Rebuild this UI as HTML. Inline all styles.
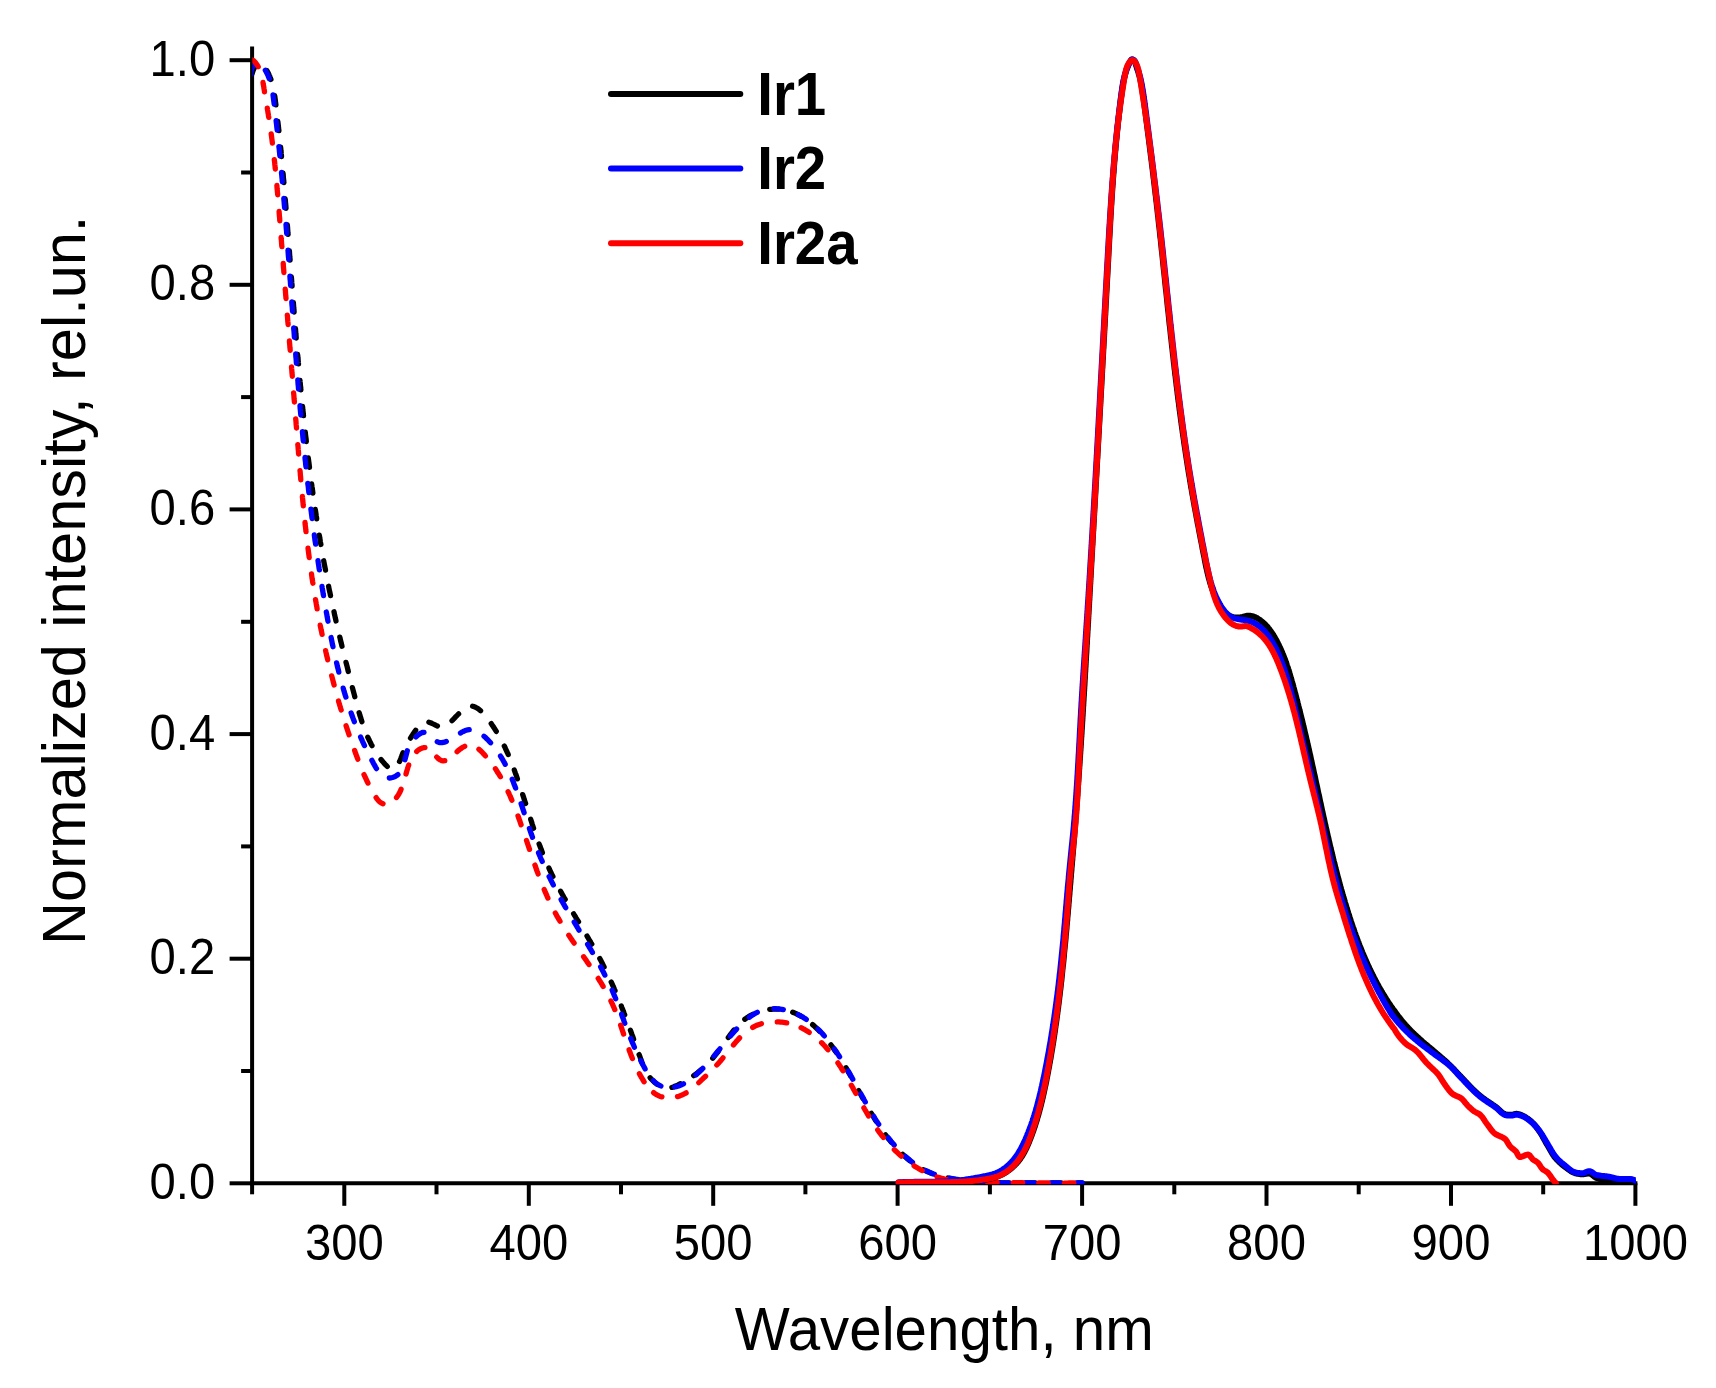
<!DOCTYPE html>
<html><head><meta charset="utf-8"><title>Normalized intensity vs wavelength</title>
<style>
html,body{margin:0;padding:0;background:#fff;}
body{width:1716px;height:1388px;overflow:hidden;}
svg{display:block;}
text{font-family:"Liberation Sans",Arial,Helvetica,sans-serif;fill:#000;}
.tick{font-size:50.4px;}
.title{font-size:61.5px;}
.leg{font-size:61.5px;font-weight:bold;}
.d{fill:none;stroke-width:5.3;stroke-linecap:round;stroke-linejoin:round;}
.s{fill:none;stroke-width:6.0;stroke-linecap:round;stroke-linejoin:round;}
</style></head>
<body>
<svg width="1716" height="1388" viewBox="0 0 1716 1388">
<rect width="1716" height="1388" fill="#fff"/>
<defs><clipPath id="c"><rect x="252.3" y="40" width="1383.6" height="1144.3"/></clipPath></defs>
<g stroke="#000" stroke-width="4.0" stroke-linecap="butt" fill="none">
<line x1="252.1" y1="46.5" x2="252.1" y2="1185.3"/>
<line x1="250.1" y1="1183.3" x2="1637.4" y2="1183.3"/>
<line x1="252.1" y1="1183.3" x2="252.1" y2="1194.3"/>
<line x1="344.3" y1="1183.3" x2="344.3" y2="1205.8"/>
<line x1="436.5" y1="1183.3" x2="436.5" y2="1194.3"/>
<line x1="528.8" y1="1183.3" x2="528.8" y2="1205.8"/>
<line x1="621.0" y1="1183.3" x2="621.0" y2="1194.3"/>
<line x1="713.2" y1="1183.3" x2="713.2" y2="1205.8"/>
<line x1="805.4" y1="1183.3" x2="805.4" y2="1194.3"/>
<line x1="897.6" y1="1183.3" x2="897.6" y2="1205.8"/>
<line x1="989.9" y1="1183.3" x2="989.9" y2="1194.3"/>
<line x1="1082.1" y1="1183.3" x2="1082.1" y2="1205.8"/>
<line x1="1174.3" y1="1183.3" x2="1174.3" y2="1194.3"/>
<line x1="1266.5" y1="1183.3" x2="1266.5" y2="1205.8"/>
<line x1="1358.7" y1="1183.3" x2="1358.7" y2="1194.3"/>
<line x1="1451.0" y1="1183.3" x2="1451.0" y2="1205.8"/>
<line x1="1543.2" y1="1183.3" x2="1543.2" y2="1194.3"/>
<line x1="1635.4" y1="1183.3" x2="1635.4" y2="1205.8"/>
<line x1="252.1" y1="1183.3" x2="229.6" y2="1183.3"/>
<line x1="252.1" y1="1071.0" x2="241.1" y2="1071.0"/>
<line x1="252.1" y1="958.7" x2="229.6" y2="958.7"/>
<line x1="252.1" y1="846.4" x2="241.1" y2="846.4"/>
<line x1="252.1" y1="734.1" x2="229.6" y2="734.1"/>
<line x1="252.1" y1="621.8" x2="241.1" y2="621.8"/>
<line x1="252.1" y1="509.4" x2="229.6" y2="509.4"/>
<line x1="252.1" y1="397.1" x2="241.1" y2="397.1"/>
<line x1="252.1" y1="284.8" x2="229.6" y2="284.8"/>
<line x1="252.1" y1="172.5" x2="241.1" y2="172.5"/>
<line x1="252.1" y1="60.2" x2="229.6" y2="60.2"/>
</g>
<g class="tick">
<text transform="translate(344.3,1260) scale(0.937,1)" text-anchor="middle">300</text>
<text transform="translate(528.8,1260) scale(0.937,1)" text-anchor="middle">400</text>
<text transform="translate(713.2,1260) scale(0.937,1)" text-anchor="middle">500</text>
<text transform="translate(897.6,1260) scale(0.937,1)" text-anchor="middle">600</text>
<text transform="translate(1082.1,1260) scale(0.937,1)" text-anchor="middle">700</text>
<text transform="translate(1266.5,1260) scale(0.937,1)" text-anchor="middle">800</text>
<text transform="translate(1451.0,1260) scale(0.937,1)" text-anchor="middle">900</text>
<text transform="translate(1635.4,1260) scale(0.937,1)" text-anchor="middle">1000</text>
<text transform="translate(215.2,1198.8) scale(0.937,1)" text-anchor="end">0.0</text>
<text transform="translate(215.2,974.2) scale(0.937,1)" text-anchor="end">0.2</text>
<text transform="translate(215.2,749.6) scale(0.937,1)" text-anchor="end">0.4</text>
<text transform="translate(215.2,524.9) scale(0.937,1)" text-anchor="end">0.6</text>
<text transform="translate(215.2,300.3) scale(0.937,1)" text-anchor="end">0.8</text>
<text transform="translate(215.2,75.7) scale(0.937,1)" text-anchor="end">1.0</text>
</g>
<text class="title" transform="translate(944.3,1350.3) scale(0.948,1)" text-anchor="middle">Wavelength, nm</text>
<text class="title" transform="translate(84.6,580.3) rotate(-90) scale(0.967,1)" text-anchor="middle">Normalized intensity, rel.un.</text>
<g clip-path="url(#c)">
<path class="d" stroke="#000" d="M251.9,74.1 L252.4,72.6 L252.9,71.1 L253.4,69.7 L254.1,68.3 L254.8,66.8 L255.6,65.5 M267.0,70.9 L267.8,72.3 L268.5,73.6 L269.1,75.1 L269.8,76.5 L270.3,78.0 L270.9,79.4 M274.6,95.6 L274.9,97.1 L275.1,98.7 L275.3,100.2 L275.5,101.8 L275.7,103.3 L275.9,104.9 M277.8,121.4 L278.0,122.9 L278.2,124.5 L278.4,126.1 L278.5,127.6 L278.7,129.2 L278.9,130.7 M280.6,147.2 L280.8,148.8 L280.9,150.4 L281.1,151.9 L281.2,153.5 L281.4,155.0 L281.5,156.6 M283.0,173.1 L283.2,174.7 L283.3,176.2 L283.4,177.8 L283.6,179.4 L283.7,180.9 L283.9,182.5 M285.2,199.0 L285.4,200.6 L285.5,202.1 L285.6,203.7 L285.8,205.3 L285.9,206.8 L286.0,208.4 M287.3,224.9 L287.5,226.5 L287.6,228.1 L287.7,229.6 L287.8,231.2 L287.9,232.8 L288.1,234.3 M289.4,250.9 L289.5,252.4 L289.6,254.0 L289.7,255.5 L289.8,257.1 L290.0,258.7 L290.1,260.2 M291.3,276.8 L291.5,278.3 L291.6,279.9 L291.7,281.5 L291.8,283.0 L292.0,284.6 L292.1,286.2 M293.4,302.7 L293.5,304.3 L293.6,305.8 L293.7,307.4 L293.9,309.0 L294.0,310.5 L294.1,312.1 M295.5,328.6 L295.6,330.2 L295.7,331.7 L295.8,333.3 L296.0,334.9 L296.1,336.4 L296.2,338.0 M297.6,354.5 L297.8,356.1 L297.9,357.7 L298.1,359.2 L298.2,360.8 L298.3,362.3 L298.5,363.9 M300.0,380.4 L300.1,382.0 L300.3,383.5 L300.4,385.1 L300.6,386.7 L300.7,388.2 L300.9,389.8 M302.5,406.3 L302.7,407.9 L302.8,409.4 L303.0,411.0 L303.2,412.5 L303.3,414.1 L303.5,415.7 M305.3,432.2 L305.4,433.7 L305.6,435.3 L305.8,436.8 L306.0,438.4 L306.2,439.9 L306.3,441.5 M308.3,458.0 L308.5,459.5 L308.7,461.1 L308.9,462.6 L309.1,464.2 L309.3,465.8 L309.5,467.3 M311.6,483.8 L311.8,485.3 L312.0,486.9 L312.3,488.4 L312.5,490.0 L312.7,491.5 L312.9,493.1 M315.3,509.5 L315.5,511.1 L315.8,512.6 L316.0,514.2 L316.2,515.7 L316.5,517.2 L316.7,518.8 M319.3,535.2 L319.6,536.7 L319.8,538.3 L320.1,539.8 L320.3,541.4 L320.6,542.9 L320.9,544.5 M323.7,560.8 L324.0,562.4 L324.3,563.9 L324.6,565.4 L324.9,567.0 L325.2,568.5 L325.5,570.1 M328.6,586.3 L328.9,587.9 L329.2,589.4 L329.5,591.0 L329.9,592.5 L330.2,594.0 L330.5,595.6 M334.0,611.8 L334.3,613.3 L334.6,614.9 L335.0,616.4 L335.3,617.9 L335.7,619.4 L336.0,621.0 M339.8,637.1 L340.2,638.7 L340.5,640.2 L340.9,641.7 L341.3,643.2 L341.6,644.7 L342.0,646.3 M346.0,662.4 L346.4,663.9 L346.8,665.4 L347.2,666.9 L347.6,668.5 L347.9,670.0 L348.3,671.5 M352.4,687.6 L352.8,689.1 L353.2,690.6 L353.6,692.1 L354.0,693.6 L354.4,695.2 L354.8,696.7 M359.1,712.7 L359.6,714.2 L360.0,715.7 L360.5,717.2 L361.0,718.7 L361.4,720.2 L361.9,721.7 M367.8,737.2 L368.5,738.6 L369.1,740.0 L369.8,741.4 L370.5,742.8 L371.2,744.2 L372.0,745.6 M381.0,759.5 L382.0,760.7 L383.0,761.9 L384.0,763.1 L385.1,764.3 L386.2,765.4 L387.3,766.5 M399.5,761.5 L400.2,760.1 L400.8,758.7 L401.3,757.2 L401.9,755.8 L402.4,754.3 L403.0,752.8 M410.5,738.1 L411.4,736.7 L412.2,735.4 L413.1,734.1 L413.9,732.8 L414.8,731.5 L415.7,730.2 M428.9,722.2 L430.4,722.7 L431.8,723.3 L433.2,724.0 L434.6,724.7 L436.0,725.4 L437.4,726.0 M452.0,720.6 L453.2,719.5 L454.3,718.4 L455.3,717.2 L456.4,716.1 L457.5,715.0 L458.6,713.9 M472.6,706.2 L474.1,706.6 L475.5,707.2 L476.9,708.0 L478.2,708.8 L479.4,709.8 L480.6,710.8 M491.2,723.6 L492.1,724.9 L493.0,726.2 L493.8,727.5 L494.7,728.8 L495.5,730.1 L496.3,731.4 M504.3,746.0 L505.0,747.4 L505.6,748.8 L506.3,750.3 L506.9,751.7 L507.6,753.1 L508.2,754.6 M514.3,770.0 L514.8,771.5 L515.3,772.9 L515.9,774.4 L516.4,775.9 L516.9,777.4 L517.4,778.9 M522.7,794.6 L523.2,796.1 L523.7,797.6 L524.1,799.1 L524.6,800.6 L525.1,802.1 L525.6,803.5 M530.7,819.3 L531.2,820.8 L531.7,822.3 L532.1,823.8 L532.6,825.3 L533.1,826.8 L533.6,828.3 M539.1,843.9 L539.7,845.4 L540.2,846.9 L540.8,848.3 L541.3,849.8 L541.9,851.3 L542.4,852.7 M548.9,868.0 L549.5,869.5 L550.2,870.9 L550.8,872.3 L551.5,873.7 L552.2,875.1 L552.9,876.5 M560.6,891.2 L561.3,892.6 L562.1,894.0 L562.8,895.4 L563.6,896.7 L564.4,898.1 L565.2,899.4 M573.6,913.7 L574.4,915.1 L575.2,916.4 L576.0,917.8 L576.8,919.1 L577.6,920.4 L578.5,921.8 M587.0,936.0 L587.8,937.4 L588.6,938.7 L589.4,940.1 L590.2,941.4 L591.0,942.8 L591.8,944.1 M599.8,958.6 L600.6,960.0 L601.3,961.4 L602.0,962.8 L602.7,964.2 L603.4,965.6 L604.1,967.0 M611.2,982.0 L611.9,983.4 L612.5,984.9 L613.1,986.3 L613.8,987.7 L614.4,989.2 L615.0,990.6 M621.3,1006.0 L621.8,1007.4 L622.4,1008.9 L623.0,1010.3 L623.5,1011.8 L624.1,1013.3 L624.7,1014.7 M630.4,1030.3 L631.0,1031.8 L631.5,1033.2 L632.0,1034.7 L632.6,1036.2 L633.1,1037.7 L633.6,1039.1 M639.1,1054.6 L639.7,1056.0 L640.2,1057.5 L640.7,1059.0 L641.3,1060.5 L641.8,1061.9 L642.4,1063.4 M650.1,1077.7 L651.1,1078.9 L652.2,1080.0 L653.3,1081.1 L654.5,1082.2 L655.7,1083.2 L656.9,1084.1 M671.9,1087.4 L673.4,1086.9 L674.8,1086.3 L676.3,1085.7 L677.7,1085.1 L679.1,1084.4 L680.5,1083.7 M693.7,1075.6 L695.0,1074.7 L696.2,1073.8 L697.5,1072.8 L698.7,1071.8 L699.9,1070.8 L701.1,1069.8 M712.7,1058.2 L713.7,1057.0 L714.7,1055.8 L715.7,1054.6 L716.6,1053.4 L717.6,1052.2 L718.5,1050.9 M728.3,1037.5 L729.2,1036.2 L730.1,1034.9 L731.1,1033.7 L732.1,1032.5 L733.0,1031.2 L734.0,1030.0 M744.8,1019.3 L746.1,1018.4 L747.4,1017.5 L748.7,1016.6 L750.0,1015.8 L751.4,1015.0 L752.8,1014.3 M769.7,1009.4 L771.3,1009.3 L772.8,1009.1 L774.4,1009.1 L776.0,1009.1 L777.5,1009.1 L779.1,1009.2 M792.7,1012.2 L794.1,1012.8 L795.6,1013.4 L797.0,1014.1 L798.4,1014.8 L799.8,1015.5 L801.1,1016.3 M812.6,1024.6 L813.8,1025.6 L814.9,1026.7 L816.1,1027.8 L817.2,1028.9 L818.3,1030.0 L819.4,1031.1 M830.9,1044.8 L831.8,1046.0 L832.7,1047.3 L833.6,1048.6 L834.5,1049.9 L835.4,1051.2 L836.3,1052.4 M845.9,1067.7 L846.7,1069.0 L847.4,1070.4 L848.2,1071.7 L849.0,1073.1 L849.8,1074.4 L850.5,1075.8 M858.6,1090.5 L859.3,1091.9 L860.1,1093.3 L860.8,1094.6 L861.6,1096.0 L862.3,1097.4 L863.1,1098.8 M871.3,1113.2 L872.1,1114.6 L872.9,1115.9 L873.7,1117.2 L874.5,1118.6 L875.3,1119.9 L876.2,1121.2 M885.5,1134.9 L886.5,1136.2 L887.4,1137.4 L888.4,1138.7 L889.4,1139.9 L890.4,1141.1 L891.4,1142.3 M902.7,1154.4 L903.8,1155.5 L905.0,1156.5 L906.2,1157.6 L907.4,1158.6 L908.6,1159.6 L909.8,1160.6 M923.6,1169.7 L925.0,1170.5 L926.4,1171.1 L927.8,1171.8 L929.3,1172.4 L930.7,1173.0 L932.2,1173.6 M948.1,1178.0 L949.7,1178.3 L951.2,1178.6 L952.8,1178.9 L954.3,1179.1 L955.9,1179.4 L957.4,1179.6 M973.9,1181.4 L975.5,1181.5 L977.0,1181.6 L978.6,1181.7 L980.2,1181.8 L981.7,1181.9 L983.3,1182.0 M999.9,1182.7 L1001.4,1182.8 L1003.0,1182.8 L1004.6,1182.9 L1006.1,1182.9 L1007.7,1182.9 L1009.3,1182.9 M1025.9,1183.0 L1027.4,1183.0 L1029.0,1183.0 L1030.6,1183.0 L1032.1,1183.0 L1033.7,1183.0 L1035.3,1183.0 M1051.9,1182.9 L1053.4,1182.8 L1055.0,1182.8 L1056.6,1182.8 L1058.1,1182.8 L1059.7,1182.8 L1061.3,1182.8 M1077.9,1182.9 L1080.0,1182.9 L1082.1,1182.9"/>
<path class="d" stroke="#0000ff" d="M250.9,74.4 L250.8,72.9 L251.0,71.3 L251.5,69.8 L252.0,68.3 L252.7,66.9 L253.5,65.6 M265.3,70.2 L266.1,71.6 L266.8,73.0 L267.5,74.4 L268.1,75.8 L268.7,77.3 L269.3,78.8 M273.0,94.9 L273.2,96.5 L273.4,98.0 L273.6,99.6 L273.8,101.1 L274.0,102.7 L274.2,104.2 M276.1,120.7 L276.3,122.3 L276.5,123.8 L276.7,125.4 L276.8,127.0 L277.0,128.5 L277.2,130.1 M278.9,146.6 L279.1,148.1 L279.3,149.7 L279.4,151.3 L279.6,152.8 L279.7,154.4 L279.9,155.9 M281.5,172.5 L281.6,174.0 L281.8,175.6 L281.9,177.1 L282.1,178.7 L282.2,180.3 L282.3,181.8 M283.8,198.3 L283.9,199.9 L284.1,201.5 L284.2,203.0 L284.3,204.6 L284.5,206.2 L284.6,207.7 M286.0,224.3 L286.1,225.8 L286.2,227.4 L286.3,228.9 L286.5,230.5 L286.6,232.1 L286.7,233.6 M288.0,250.2 L288.1,251.7 L288.2,253.3 L288.3,254.9 L288.4,256.4 L288.6,258.0 L288.7,259.6 M289.9,276.1 L290.0,277.7 L290.1,279.2 L290.3,280.8 L290.4,282.4 L290.5,283.9 L290.6,285.5 M291.8,302.0 L291.9,303.6 L292.0,305.2 L292.2,306.7 L292.3,308.3 L292.4,309.8 L292.5,311.4 M293.7,328.0 L293.8,329.5 L294.0,331.1 L294.1,332.7 L294.2,334.2 L294.3,335.8 L294.4,337.3 M295.7,353.9 L295.8,355.5 L295.9,357.0 L296.1,358.6 L296.2,360.1 L296.3,361.7 L296.4,363.3 M297.8,379.8 L297.9,381.4 L298.0,382.9 L298.1,384.5 L298.3,386.1 L298.4,387.6 L298.5,389.2 M300.0,405.7 L300.1,407.3 L300.2,408.8 L300.4,410.4 L300.5,412.0 L300.7,413.5 L300.8,415.1 M302.4,431.6 L302.5,433.2 L302.7,434.7 L302.8,436.3 L303.0,437.8 L303.1,439.4 L303.3,441.0 M305.0,457.5 L305.1,459.0 L305.3,460.6 L305.5,462.1 L305.6,463.7 L305.8,465.3 L306.0,466.8 M307.8,483.3 L308.0,484.9 L308.2,486.4 L308.4,488.0 L308.5,489.5 L308.7,491.1 L308.9,492.7 M310.9,509.1 L311.1,510.7 L311.3,512.2 L311.5,513.8 L311.7,515.3 L311.9,516.9 L312.1,518.5 M314.3,534.9 L314.5,536.5 L314.7,538.0 L314.9,539.6 L315.1,541.1 L315.4,542.7 L315.6,544.2 M318.0,560.6 L318.2,562.2 L318.4,563.7 L318.7,565.3 L318.9,566.8 L319.1,568.4 L319.4,569.9 M322.0,586.3 L322.2,587.9 L322.5,589.4 L322.7,591.0 L323.0,592.5 L323.2,594.1 L323.5,595.6 M326.3,612.0 L326.6,613.5 L326.9,615.1 L327.1,616.6 L327.4,618.1 L327.7,619.7 L328.0,621.2 M331.1,637.5 L331.4,639.1 L331.7,640.6 L332.0,642.1 L332.3,643.7 L332.7,645.2 L333.0,646.7 M336.6,662.9 L337.0,664.5 L337.3,666.0 L337.7,667.5 L338.1,669.0 L338.5,670.5 L338.8,672.1 M343.2,688.1 L343.6,689.6 L344.0,691.1 L344.5,692.6 L344.9,694.1 L345.4,695.6 L345.9,697.1 M351.1,712.9 L351.6,714.3 L352.1,715.8 L352.7,717.3 L353.2,718.7 L353.8,720.2 L354.3,721.7 M360.6,737.0 L361.2,738.5 L361.9,739.9 L362.5,741.3 L363.2,742.8 L363.8,744.2 L364.5,745.6 M371.9,760.4 L372.7,761.8 L373.4,763.2 L374.2,764.6 L374.9,765.9 L375.7,767.3 L376.5,768.6 M389.3,778.0 L390.8,777.8 L392.4,777.5 L393.9,777.0 L395.3,776.4 L396.6,775.6 L397.9,774.6 M404.9,759.8 L405.3,758.3 L405.7,756.8 L406.1,755.3 L406.5,753.8 L406.9,752.3 L407.3,750.8 M416.0,736.9 L417.2,735.8 L418.4,734.8 L419.6,733.9 L421.0,733.1 L422.4,732.5 L424.0,732.3 M437.2,741.8 L438.7,742.3 L440.2,742.6 L441.8,742.7 L443.3,742.4 L444.8,742.1 L446.3,741.5 M460.5,733.0 L461.8,732.2 L463.2,731.5 L464.7,730.8 L466.1,730.3 L467.7,729.9 L469.2,729.7 M484.0,736.2 L485.2,737.2 L486.3,738.3 L487.4,739.4 L488.5,740.5 L489.6,741.7 L490.6,742.8 M500.5,756.1 L501.4,757.5 L502.2,758.8 L503.0,760.2 L503.7,761.5 L504.5,762.9 L505.2,764.3 M512.2,779.3 L512.8,780.8 L513.4,782.2 L513.9,783.7 L514.5,785.2 L515.0,786.6 L515.6,788.1 M521.1,803.7 L521.6,805.2 L522.1,806.7 L522.6,808.2 L523.1,809.7 L523.6,811.2 L524.1,812.7 M529.4,828.4 L529.9,829.9 L530.4,831.4 L530.9,832.8 L531.4,834.3 L532.0,835.8 L532.5,837.3 M538.5,852.7 L539.1,854.2 L539.7,855.6 L540.3,857.1 L540.9,858.5 L541.6,860.0 L542.2,861.4 M549.1,876.5 L549.8,877.9 L550.5,879.3 L551.2,880.7 L551.9,882.1 L552.6,883.5 L553.3,884.9 M561.1,899.6 L561.8,900.9 L562.6,902.3 L563.4,903.7 L564.2,905.0 L564.9,906.4 L565.7,907.7 M574.2,922.0 L575.0,923.4 L575.8,924.7 L576.6,926.0 L577.4,927.4 L578.2,928.7 L579.0,930.1 M587.6,944.3 L588.4,945.6 L589.2,947.0 L590.0,948.3 L590.8,949.6 L591.6,951.0 L592.4,952.4 M600.6,966.8 L601.3,968.2 L602.1,969.6 L602.8,971.0 L603.5,972.3 L604.2,973.7 L604.9,975.1 M612.1,990.1 L612.7,991.6 L613.3,993.0 L613.9,994.4 L614.5,995.9 L615.1,997.3 L615.7,998.8 M621.6,1014.3 L622.1,1015.8 L622.6,1017.3 L623.2,1018.7 L623.7,1020.2 L624.2,1021.7 L624.8,1023.2 M630.7,1038.5 L631.3,1040.0 L631.9,1041.4 L632.5,1042.9 L633.2,1044.3 L633.8,1045.7 L634.4,1047.2 M640.8,1060.6 L641.5,1062.0 L642.2,1063.4 L642.9,1064.8 L643.7,1066.2 L644.4,1067.5 L645.1,1068.9 M653.3,1080.6 L654.4,1081.7 L655.6,1082.8 L656.8,1083.7 L658.1,1084.6 L659.5,1085.3 L660.9,1086.0 M674.7,1087.0 L676.2,1086.7 L677.7,1086.3 L679.2,1085.7 L680.6,1085.2 L682.1,1084.5 L683.5,1083.8 M695.9,1074.9 L697.1,1073.9 L698.3,1072.8 L699.4,1071.7 L700.5,1070.7 L701.6,1069.6 L702.8,1068.4 M713.9,1056.1 L714.9,1054.9 L715.9,1053.7 L716.9,1052.5 L717.9,1051.3 L718.9,1050.1 L719.9,1048.9 M730.4,1036.1 L731.4,1034.9 L732.4,1033.7 L733.5,1032.5 L734.5,1031.3 L735.6,1030.2 L736.6,1029.0 M749.3,1017.2 L750.6,1016.3 L751.9,1015.4 L753.2,1014.6 L754.6,1013.8 L755.9,1013.0 L757.3,1012.3 M774.0,1008.7 L775.5,1008.7 L777.1,1008.8 L778.6,1008.9 L780.2,1009.1 L781.8,1009.3 L783.3,1009.6 M798.2,1014.6 L799.6,1015.3 L801.0,1016.1 L802.4,1016.8 L803.7,1017.7 L805.0,1018.5 L806.3,1019.4 M817.9,1029.0 L819.0,1030.1 L820.1,1031.2 L821.2,1032.4 L822.3,1033.5 L823.3,1034.7 L824.3,1035.9 M834.4,1049.0 L835.3,1050.3 L836.2,1051.6 L837.1,1052.9 L837.9,1054.2 L838.8,1055.5 L839.6,1056.8 M848.2,1071.0 L849.0,1072.4 L849.8,1073.8 L850.5,1075.1 L851.3,1076.5 L852.1,1077.9 L852.8,1079.2 M860.8,1093.8 L861.6,1095.2 L862.3,1096.5 L863.1,1097.9 L863.8,1099.3 L864.6,1100.7 L865.3,1102.0 M873.7,1116.4 L874.5,1117.7 L875.3,1119.1 L876.1,1120.4 L877.0,1121.7 L877.8,1123.0 L878.7,1124.3 M888.2,1137.7 L889.2,1139.0 L890.2,1140.2 L891.1,1141.4 L892.1,1142.6 L893.2,1143.8 L894.2,1145.0 M905.2,1156.3 L906.4,1157.4 L907.6,1158.4 L908.8,1159.4 L910.0,1160.4 L911.2,1161.3 L912.5,1162.3 M925.7,1170.6 L927.2,1171.2 L928.6,1171.9 L930.0,1172.5 L931.5,1173.1 L932.9,1173.7 L934.4,1174.2 M949.4,1178.2 L951.0,1178.5 L952.5,1178.7 L954.1,1179.0 L955.6,1179.3 L957.2,1179.5 L958.7,1179.7 M974.2,1181.4 L975.7,1181.5 L977.3,1181.6 L978.8,1181.8 L980.4,1181.9 L982.0,1182.0 L983.5,1182.1 M999.4,1182.8 L1000.9,1182.8 L1002.5,1182.8 L1004.1,1182.9 L1005.6,1182.9 L1007.2,1182.9 L1008.8,1183.0 M1024.9,1183.0 L1026.5,1183.0 L1028.0,1183.0 L1029.6,1183.0 L1031.2,1183.0 L1032.7,1183.0 L1034.3,1183.0 M1050.4,1182.8 L1052.0,1182.8 L1053.6,1182.8 L1055.1,1182.8 L1056.7,1182.8 L1058.3,1182.8 L1059.8,1182.8 M1076.1,1182.9 L1078.1,1182.9 L1080.1,1182.9 L1082.1,1182.9"/>
<path class="d" stroke="#ff0000" d="M252.0,60.0 L253.4,60.5 L254.6,61.6 L255.6,62.8 L256.5,64.0 L257.4,65.3 L258.2,66.7 M263.0,82.5 L263.2,84.0 L263.5,85.6 L263.8,87.1 L264.0,88.7 L264.3,90.2 L264.5,91.8 M267.3,108.1 L267.5,109.7 L267.8,111.2 L268.0,112.8 L268.3,114.3 L268.5,115.9 L268.8,117.4 M271.2,133.8 L271.4,135.4 L271.6,136.9 L271.8,138.5 L272.0,140.0 L272.2,141.6 L272.4,143.1 M274.3,159.6 L274.5,161.2 L274.7,162.8 L274.8,164.3 L275.0,165.9 L275.1,167.4 L275.3,169.0 M276.9,185.5 L277.0,187.1 L277.1,188.6 L277.3,190.2 L277.4,191.8 L277.6,193.3 L277.7,194.9 M279.1,211.4 L279.2,213.0 L279.3,214.5 L279.4,216.1 L279.6,217.7 L279.7,219.2 L279.8,220.8 M281.1,237.3 L281.2,238.9 L281.4,240.5 L281.5,242.0 L281.6,243.6 L281.7,245.1 L281.9,246.7 M283.2,263.3 L283.3,264.8 L283.4,266.4 L283.5,267.9 L283.7,269.5 L283.8,271.1 L283.9,272.6 M285.2,289.2 L285.4,290.7 L285.5,292.3 L285.6,293.9 L285.7,295.4 L285.9,297.0 L286.0,298.5 M287.3,315.1 L287.5,316.7 L287.6,318.2 L287.7,319.8 L287.8,321.3 L288.0,322.9 L288.1,324.5 M289.4,341.0 L289.5,342.6 L289.7,344.1 L289.8,345.7 L289.9,347.3 L290.1,348.8 L290.2,350.4 M291.5,366.9 L291.6,368.5 L291.8,370.0 L291.9,371.6 L292.0,373.2 L292.2,374.7 L292.3,376.3 M293.6,392.8 L293.8,394.4 L293.9,396.0 L294.0,397.5 L294.1,399.1 L294.3,400.6 L294.4,402.2 M295.7,418.8 L295.9,420.3 L296.0,421.9 L296.1,423.4 L296.2,425.0 L296.4,426.6 L296.5,428.1 M297.8,444.7 L298.0,446.2 L298.1,447.8 L298.2,449.3 L298.4,450.9 L298.5,452.5 L298.6,454.0 M300.0,470.6 L300.2,472.1 L300.3,473.7 L300.4,475.3 L300.6,476.8 L300.7,478.4 L300.8,479.9 M302.4,496.5 L302.5,498.0 L302.7,499.6 L302.8,501.1 L303.0,502.7 L303.1,504.3 L303.3,505.8 M305.0,522.3 L305.1,523.9 L305.3,525.5 L305.5,527.0 L305.7,528.6 L305.8,530.1 L306.0,531.7 M308.0,548.2 L308.2,549.7 L308.4,551.3 L308.6,552.8 L308.8,554.4 L309.0,555.9 L309.2,557.5 M311.5,573.9 L311.7,575.5 L311.9,577.0 L312.1,578.6 L312.4,580.1 L312.6,581.7 L312.9,583.2 M315.5,599.6 L315.8,601.2 L316.1,602.7 L316.3,604.2 L316.6,605.8 L316.9,607.3 L317.1,608.9 M320.2,625.2 L320.5,626.7 L320.8,628.2 L321.1,629.8 L321.5,631.3 L321.8,632.9 L322.1,634.4 M325.6,650.6 L325.9,652.1 L326.3,653.7 L326.6,655.2 L327.0,656.7 L327.4,658.2 L327.7,659.8 M331.7,675.9 L332.1,677.4 L332.5,678.9 L332.9,680.4 L333.3,682.0 L333.7,683.5 L334.1,685.0 M338.5,701.0 L338.9,702.5 L339.4,704.0 L339.8,705.5 L340.3,707.0 L340.7,708.5 L341.2,710.0 M346.1,725.8 L346.6,727.3 L347.1,728.8 L347.6,730.3 L348.1,731.8 L348.6,733.3 L349.1,734.8 M354.6,750.4 L355.1,751.9 L355.6,753.4 L356.2,754.8 L356.7,756.3 L357.3,757.8 L357.8,759.2 M364.0,774.6 L364.7,776.1 L365.3,777.5 L366.0,778.9 L366.6,780.3 L367.3,781.7 L368.0,783.1 M376.1,797.6 L377.0,798.9 L378.0,800.1 L379.0,801.3 L380.2,802.3 L381.6,803.1 L383.0,803.7 M396.5,797.5 L397.4,796.2 L398.3,794.9 L399.1,793.6 L399.8,792.2 L400.5,790.8 L401.1,789.3 M406.0,774.0 L406.4,772.5 L406.8,771.0 L407.3,769.5 L407.7,768.0 L408.2,766.5 L408.7,765.1 M416.7,751.5 L417.9,750.4 L419.2,749.5 L420.5,748.7 L422.0,748.1 L423.5,747.7 L425.0,747.6 M436.7,757.0 L437.8,758.1 L439.0,759.1 L440.3,760.0 L441.7,760.7 L443.2,760.9 L444.8,760.7 M457.1,751.7 L458.2,750.6 L459.4,749.6 L460.7,748.7 L462.0,747.8 L463.3,747.0 L464.7,746.3 M478.9,749.2 L480.0,750.2 L481.2,751.3 L482.3,752.4 L483.3,753.6 L484.4,754.7 L485.4,755.9 M495.4,768.8 L496.3,770.1 L497.1,771.5 L497.9,772.8 L498.8,774.1 L499.6,775.4 L500.4,776.8 M508.1,791.7 L508.8,793.1 L509.4,794.5 L510.1,796.0 L510.7,797.4 L511.3,798.9 L511.9,800.3 M518.0,815.9 L518.5,817.4 L519.0,818.9 L519.6,820.3 L520.1,821.8 L520.6,823.3 L521.1,824.8 M526.5,840.5 L527.0,842.0 L527.5,843.5 L528.0,845.0 L528.5,846.4 L529.0,847.9 L529.5,849.4 M534.9,865.1 L535.5,866.6 L536.0,868.1 L536.5,869.6 L537.0,871.0 L537.6,872.5 L538.1,874.0 M544.2,889.5 L544.8,890.9 L545.4,892.4 L546.0,893.8 L546.7,895.2 L547.3,896.7 L547.9,898.1 M555.3,913.0 L556.1,914.4 L556.8,915.8 L557.6,917.1 L558.4,918.5 L559.2,919.8 L560.0,921.2 M568.8,935.3 L569.7,936.6 L570.6,937.9 L571.5,939.2 L572.3,940.5 L573.2,941.8 L574.1,943.1 M583.6,956.7 L584.5,958.0 L585.4,959.3 L586.3,960.6 L587.2,961.9 L588.1,963.2 L589.0,964.5 M598.2,978.4 L599.0,979.7 L599.8,981.0 L600.7,982.3 L601.5,983.7 L602.3,985.0 L603.1,986.4 M610.9,1001.0 L611.6,1002.5 L612.3,1003.9 L612.9,1005.3 L613.5,1006.7 L614.2,1008.2 L614.8,1009.6 M620.6,1025.2 L621.1,1026.7 L621.6,1028.2 L622.1,1029.7 L622.6,1031.1 L623.1,1032.6 L623.6,1034.1 M629.1,1049.8 L629.6,1051.3 L630.2,1052.8 L630.7,1054.2 L631.3,1055.7 L631.8,1057.1 L632.4,1058.6 M639.4,1073.7 L640.1,1075.1 L640.9,1076.5 L641.7,1077.8 L642.5,1079.2 L643.3,1080.5 L644.1,1081.8 M653.6,1092.6 L654.8,1093.6 L656.1,1094.4 L657.5,1095.2 L658.9,1095.9 L660.4,1096.5 L661.9,1096.9 M677.5,1096.6 L679.0,1096.2 L680.4,1095.6 L681.9,1095.0 L683.3,1094.4 L684.7,1093.7 L686.1,1092.9 M698.8,1082.6 L699.9,1081.6 L701.0,1080.5 L702.2,1079.4 L703.3,1078.3 L704.5,1077.2 L705.6,1076.2 M716.8,1065.0 L717.9,1063.9 L718.9,1062.7 L720.0,1061.5 L721.0,1060.3 L722.0,1059.1 L723.0,1057.9 M733.4,1045.0 L734.4,1043.8 L735.4,1042.6 L736.4,1041.4 L737.5,1040.2 L738.5,1039.1 L739.6,1037.9 M752.7,1027.4 L754.1,1026.6 L755.5,1025.9 L756.9,1025.3 L758.4,1024.7 L759.9,1024.2 L761.4,1023.7 M777.3,1021.9 L778.9,1021.9 L780.5,1022.1 L782.0,1022.2 L783.6,1022.4 L785.1,1022.6 L786.7,1022.9 M801.1,1027.7 L802.5,1028.4 L803.9,1029.2 L805.3,1029.9 L806.6,1030.7 L807.9,1031.5 L809.2,1032.4 M821.6,1042.7 L822.7,1043.8 L823.8,1045.0 L824.9,1046.1 L825.9,1047.3 L826.9,1048.5 L828.0,1049.7 M837.9,1062.9 L838.8,1064.2 L839.6,1065.5 L840.5,1066.8 L841.3,1068.2 L842.1,1069.5 L843.0,1070.8 M851.3,1085.2 L852.1,1086.5 L852.9,1087.9 L853.6,1089.3 L854.4,1090.6 L855.1,1092.0 L855.9,1093.4 M863.9,1107.9 L864.7,1109.3 L865.5,1110.6 L866.3,1112.0 L867.0,1113.3 L867.8,1114.7 L868.6,1116.0 M877.7,1129.9 L878.6,1131.2 L879.5,1132.5 L880.5,1133.7 L881.4,1135.0 L882.4,1136.2 L883.4,1137.5 M894.3,1149.7 L895.4,1150.8 L896.5,1151.8 L897.7,1152.9 L898.8,1154.0 L900.0,1155.0 L901.2,1156.1 M914.1,1165.8 L915.4,1166.7 L916.8,1167.5 L918.1,1168.3 L919.5,1169.1 L920.8,1169.9 L922.2,1170.6 M937.1,1176.9 L938.6,1177.4 L940.1,1177.8 L941.6,1178.2 L943.1,1178.6 L944.7,1179.0 L946.2,1179.3 M962.2,1181.6 L963.8,1181.8 L965.3,1181.9 L966.9,1182.0 L968.4,1182.1 L970.0,1182.2 L971.6,1182.2 M987.7,1182.5 L989.3,1182.5 L990.9,1182.5 L992.4,1182.5 L994.0,1182.5 L995.6,1182.5 L997.1,1182.5 M1013.3,1182.6 L1014.9,1182.6 L1016.4,1182.6 L1018.0,1182.6 L1019.6,1182.7 L1021.1,1182.7 L1022.7,1182.7 M1038.8,1182.9 L1040.4,1183.0 L1042.0,1183.0 L1043.5,1183.0 L1045.1,1183.0 L1046.7,1183.0 L1048.2,1183.0 M1064.4,1183.1 L1065.9,1183.1 L1067.5,1183.1 L1069.1,1183.0 L1070.6,1183.0 L1072.2,1183.0 L1073.8,1183.0"/>
<path class="s" stroke="#000" d="M898.5,1182.8 L899.5,1182.8 L900.5,1182.8 L901.5,1182.8 L902.5,1182.7 L903.5,1182.7 L904.5,1182.7 L905.5,1182.7 L906.5,1182.7 L907.5,1182.7 L908.5,1182.7 L909.5,1182.7 L910.5,1182.7 L911.5,1182.7 L912.5,1182.7 L913.5,1182.7 L914.5,1182.7 L915.5,1182.7 L916.5,1182.7 L917.5,1182.7 L918.5,1182.7 L919.5,1182.7 L920.5,1182.7 L921.5,1182.7 L922.5,1182.7 L923.5,1182.7 L924.5,1182.7 L925.5,1182.7 L926.5,1182.7 L927.5,1182.7 L928.5,1182.7 L929.5,1182.7 L930.5,1182.6 L931.5,1182.6 L932.5,1182.6 L933.5,1182.6 L934.5,1182.6 L935.5,1182.6 L936.5,1182.6 L937.5,1182.6 L938.5,1182.6 L939.5,1182.6 L940.5,1182.6 L941.5,1182.5 L942.5,1182.5 L943.5,1182.5 L944.5,1182.5 L945.5,1182.5 L946.5,1182.4 L947.5,1182.4 L948.5,1182.4 L949.5,1182.4 L950.5,1182.3 L951.5,1182.3 L952.5,1182.3 L953.5,1182.2 L954.5,1182.2 L955.5,1182.2 L956.5,1182.1 L957.5,1182.1 L958.5,1182.1 L959.5,1182.0 L960.5,1182.0 L961.5,1181.9 L962.5,1181.9 L963.5,1181.8 L964.5,1181.7 L965.5,1181.7 L966.5,1181.6 L967.5,1181.6 L968.5,1181.5 L969.5,1181.4 L970.5,1181.3 L971.5,1181.3 L972.5,1181.2 L973.5,1181.1 L974.5,1181.0 L975.5,1180.9 L976.5,1180.8 L977.5,1180.7 L978.5,1180.6 L979.5,1180.5 L980.5,1180.4 L981.5,1180.3 L982.5,1180.1 L983.5,1180.0 L984.5,1179.8 L985.4,1179.7 L986.4,1179.5 L987.4,1179.3 L988.4,1179.1 L989.4,1178.9 L990.3,1178.7 L991.3,1178.5 L992.3,1178.2 L993.2,1177.9 L994.2,1177.7 L995.1,1177.4 L996.0,1177.1 L997.0,1176.7 L997.9,1176.4 L998.8,1176.0 L999.7,1175.6 L1000.6,1175.2 L1001.5,1174.8 L1002.4,1174.3 L1003.3,1173.9 L1004.2,1173.4 L1005.1,1172.9 L1005.9,1172.3 L1006.8,1171.8 L1007.6,1171.2 L1008.4,1170.6 L1009.2,1170.0 L1010.0,1169.4 L1010.8,1168.8 L1011.6,1168.2 L1012.4,1167.5 L1013.1,1166.8 L1013.9,1166.1 L1014.6,1165.4 L1015.3,1164.7 L1016.0,1164.0 L1016.7,1163.3 L1017.3,1162.5 L1018.0,1161.7 L1018.6,1161.0 L1019.2,1160.2 L1019.8,1159.4 L1020.4,1158.6 L1021.0,1157.7 L1021.5,1156.9 L1022.1,1156.1 L1022.6,1155.2 L1023.1,1154.4 L1023.6,1153.5 L1024.1,1152.7 L1024.6,1151.8 L1025.0,1150.9 L1025.5,1150.0 L1025.9,1149.1 L1026.4,1148.2 L1026.8,1147.3 L1027.2,1146.4 L1027.6,1145.5 L1028.0,1144.6 L1028.4,1143.7 L1028.8,1142.7 L1029.2,1141.8 L1029.5,1140.9 L1029.9,1139.9 L1030.3,1139.0 L1030.6,1138.1 L1031.0,1137.1 L1031.3,1136.2 L1031.7,1135.3 L1032.0,1134.3 L1032.4,1133.4 L1032.7,1132.5 L1033.1,1131.5 L1033.4,1130.6 L1033.7,1129.6 L1034.0,1128.7 L1034.3,1127.7 L1034.7,1126.8 L1035.0,1125.8 L1035.3,1124.9 L1035.6,1123.9 L1035.9,1123.0 L1036.2,1122.0 L1036.5,1121.1 L1036.8,1120.1 L1037.1,1119.2 L1037.3,1118.2 L1037.6,1117.2 L1037.9,1116.3 L1038.2,1115.3 L1038.5,1114.4 L1038.7,1113.4 L1039.0,1112.4 L1039.3,1111.5 L1039.5,1110.5 L1039.8,1109.5 L1040.0,1108.6 L1040.3,1107.6 L1040.5,1106.6 L1040.8,1105.7 L1041.0,1104.7 L1041.3,1103.7 L1041.5,1102.7 L1041.7,1101.8 L1042.0,1100.8 L1042.2,1099.8 L1042.4,1098.9 L1042.7,1097.9 L1042.9,1096.9 L1043.1,1095.9 L1043.3,1095.0 L1043.6,1094.0 L1043.8,1093.0 L1044.0,1092.0 L1044.2,1091.0 L1044.4,1090.1 L1044.6,1089.1 L1044.8,1088.1 L1045.0,1087.1 L1045.2,1086.1 L1045.5,1085.2 L1045.7,1084.2 L1045.9,1083.2 L1046.1,1082.2 L1046.3,1081.2 L1046.5,1080.3 L1046.6,1079.3 L1046.8,1078.3 L1047.0,1077.3 L1047.2,1076.3 L1047.4,1075.3 L1047.6,1074.4 L1047.8,1073.4 L1048.0,1072.4 L1048.2,1071.4 L1048.3,1070.4 L1048.5,1069.4 L1048.7,1068.5 L1048.9,1067.5 L1049.1,1066.5 L1049.3,1065.5 L1049.4,1064.5 L1049.6,1063.5 L1049.8,1062.6 L1050.0,1061.6 L1050.1,1060.6 L1050.3,1059.6 L1050.5,1058.6 L1050.7,1057.6 L1050.8,1056.6 L1051.0,1055.7 L1051.2,1054.7 L1051.3,1053.7 L1051.5,1052.7 L1051.7,1051.7 L1051.8,1050.7 L1052.0,1049.7 L1052.2,1048.8 L1052.3,1047.8 L1052.5,1046.8 L1052.6,1045.8 L1052.8,1044.8 L1053.0,1043.8 L1053.1,1042.8 L1053.3,1041.8 L1053.4,1040.9 L1053.6,1039.9 L1053.7,1038.9 L1053.9,1037.9 L1054.0,1036.9 L1054.2,1035.9 L1054.3,1034.9 L1054.5,1033.9 L1054.6,1032.9 L1054.8,1032.0 L1054.9,1031.0 L1055.1,1030.0 L1055.2,1029.0 L1055.3,1028.0 L1055.5,1027.0 L1055.6,1026.0 L1055.8,1025.0 L1055.9,1024.0 L1056.1,1023.1 L1056.2,1022.1 L1056.3,1021.1 L1056.5,1020.1 L1056.6,1019.1 L1056.7,1018.1 L1056.9,1017.1 L1057.0,1016.1 L1057.1,1015.1 L1057.3,1014.1 L1057.4,1013.1 L1057.5,1012.2 L1057.7,1011.2 L1057.8,1010.2 L1057.9,1009.2 L1058.1,1008.2 L1058.2,1007.2 L1058.3,1006.2 L1058.4,1005.2 L1058.6,1004.2 L1058.7,1003.2 L1058.8,1002.2 L1058.9,1001.3 L1059.0,1000.3 L1059.2,999.3 L1059.3,998.3 L1059.4,997.3 L1059.5,996.3 L1059.7,995.3 L1059.8,994.3 L1059.9,993.3 L1060.0,992.3 L1060.1,991.3 L1060.2,990.3 L1060.4,989.3 L1060.5,988.3 L1060.6,987.4 L1060.7,986.4 L1060.8,985.4 L1060.9,984.4 L1061.0,983.4 L1061.1,982.4 L1061.3,981.4 L1061.4,980.4 L1061.5,979.4 L1061.6,978.4 L1061.7,977.4 L1061.8,976.4 L1061.9,975.4 L1062.0,974.4 L1062.1,973.4 L1062.2,972.4 L1062.3,971.5 L1062.4,970.5 L1062.5,969.5 L1062.6,968.5 L1062.7,967.5 L1062.8,966.5 L1063.0,965.5 L1063.1,964.5 L1063.2,963.5 L1063.3,962.5 L1063.4,961.5 L1063.5,960.5 L1063.6,959.5 L1063.7,958.5 L1063.8,957.5 L1063.9,956.5 L1064.0,955.5 L1064.0,954.5 L1064.1,953.5 L1064.2,952.5 L1064.3,951.5 L1064.4,950.6 L1064.5,949.6 L1064.6,948.6 L1064.7,947.6 L1064.8,946.6 L1064.9,945.6 L1065.0,944.6 L1065.1,943.6 L1065.2,942.6 L1065.3,941.6 L1065.4,940.6 L1065.5,939.6 L1065.6,938.6 L1065.7,937.6 L1065.7,936.6 L1065.8,935.6 L1065.9,934.6 L1066.0,933.6 L1066.1,932.6 L1066.2,931.6 L1066.3,930.6 L1066.4,929.6 L1066.5,928.6 L1066.6,927.6 L1066.6,926.6 L1066.7,925.6 L1066.8,924.7 L1066.9,923.7 L1067.0,922.7 L1067.1,921.7 L1067.2,920.7 L1067.3,919.7 L1067.3,918.7 L1067.4,917.7 L1067.5,916.7 L1067.6,915.7 L1067.7,914.7 L1067.8,913.7 L1067.9,912.7 L1067.9,911.7 L1068.0,910.7 L1068.1,909.7 L1068.2,908.7 L1068.3,907.7 L1068.4,906.7 L1068.5,905.7 L1068.5,904.7 L1068.6,903.7 L1068.7,902.7 L1068.8,901.7 L1068.9,900.7 L1069.0,899.7 L1069.0,898.7 L1069.1,897.7 L1069.2,896.7 L1069.3,895.7 L1069.4,894.7 L1069.5,893.7 L1069.5,892.8 L1069.6,891.8 L1069.7,890.8 L1069.8,889.8 L1069.9,888.8 L1070.0,887.8 L1070.0,886.8 L1070.1,885.8 L1070.2,884.8 L1070.3,883.8 L1070.4,882.8 L1070.5,881.8 L1070.5,880.8 L1070.6,879.8 L1070.7,878.8 L1070.8,877.8 L1070.9,876.8 L1071.0,875.8 L1071.0,874.8 L1071.1,873.8 L1071.2,872.8 L1071.3,871.8 L1071.4,870.8 L1071.5,869.8 L1071.5,868.8 L1071.6,867.8 L1071.7,866.8 L1071.8,865.8 L1071.9,864.8 L1072.0,863.8 L1072.0,862.9 L1072.1,861.9 L1072.2,860.9 L1072.3,859.9 L1072.4,858.9 L1072.4,857.9 L1072.5,856.9 L1072.6,855.9 L1072.7,854.9 L1072.8,853.9 L1072.9,852.9 L1072.9,851.9 L1073.0,850.9 L1073.1,849.9 L1073.2,848.9 L1073.3,847.9 L1073.4,846.9 L1073.4,845.9 L1073.5,844.9 L1073.6,843.9 L1073.7,842.9 L1073.8,841.9 L1073.9,840.9 L1073.9,839.9 L1074.0,838.9 L1074.1,837.9 L1074.2,836.9 L1074.3,836.0 L1074.3,835.0 L1074.4,834.0 L1074.5,833.0 L1074.6,832.0 L1074.7,831.0 L1074.7,830.0 L1074.8,829.0 L1074.9,828.0 L1075.0,827.0 L1075.1,826.0 L1075.1,825.0 L1075.2,824.0 L1075.3,823.0 L1075.4,822.0 L1075.4,821.0 L1075.5,820.0 L1075.6,819.0 L1075.7,818.0 L1075.8,817.0 L1075.8,816.0 L1075.9,815.0 L1076.0,814.0 L1076.1,813.0 L1076.1,812.0 L1076.2,811.0 L1076.3,810.0 L1076.4,809.0 L1076.4,808.0 L1076.5,807.0 L1076.6,806.0 L1076.7,805.1 L1076.7,804.1 L1076.8,803.1 L1076.9,802.1 L1077.0,801.1 L1077.0,800.1 L1077.1,799.1 L1077.2,798.1 L1077.2,797.1 L1077.3,796.1 L1077.4,795.1 L1077.5,794.1 L1077.5,793.1 L1077.6,792.1 L1077.7,791.1 L1077.7,790.1 L1077.8,789.1 L1077.9,788.1 L1078.0,787.1 L1078.0,786.1 L1078.1,785.1 L1078.2,784.1 L1078.2,783.1 L1078.3,782.1 L1078.4,781.1 L1078.5,780.1 L1078.5,779.1 L1078.6,778.1 L1078.7,777.1 L1078.7,776.1 L1078.8,775.1 L1078.9,774.1 L1078.9,773.1 L1079.0,772.1 L1079.1,771.1 L1079.1,770.1 L1079.2,769.1 L1079.3,768.2 L1079.3,767.2 L1079.4,766.2 L1079.5,765.2 L1079.5,764.2 L1079.6,763.2 L1079.7,762.2 L1079.7,761.2 L1079.8,760.2 L1079.9,759.2 L1079.9,758.2 L1080.0,757.2 L1080.1,756.2 L1080.1,755.2 L1080.2,754.2 L1080.3,753.2 L1080.3,752.2 L1080.4,751.2 L1080.5,750.2 L1080.5,749.2 L1080.6,748.2 L1080.7,747.2 L1080.7,746.2 L1080.8,745.2 L1080.9,744.2 L1080.9,743.2 L1081.0,742.2 L1081.0,741.2 L1081.1,740.2 L1081.2,739.2 L1081.2,738.2 L1081.3,737.2 L1081.4,736.2 L1081.4,735.2 L1081.5,734.2 L1081.6,733.2 L1081.6,732.2 L1081.7,731.2 L1081.7,730.2 L1081.8,729.2 L1081.9,728.2 L1081.9,727.2 L1082.0,726.2 L1082.1,725.2 L1082.1,724.2 L1082.2,723.2 L1082.2,722.2 L1082.3,721.2 L1082.4,720.2 L1082.4,719.3 L1082.5,718.3 L1082.5,717.3 L1082.6,716.3 L1082.7,715.3 L1082.7,714.3 L1082.8,713.3 L1082.8,712.3 L1082.9,711.3 L1083.0,710.3 L1083.0,709.3 L1083.1,708.3 L1083.1,707.3 L1083.2,706.3 L1083.3,705.3 L1083.3,704.3 L1083.4,703.3 L1083.4,702.3 L1083.5,701.3 L1083.6,700.3 L1083.6,699.3 L1083.7,698.3 L1083.7,697.3 L1083.8,696.3 L1083.9,695.3 L1083.9,694.3 L1084.0,693.3 L1084.0,692.3 L1084.1,691.3 L1084.2,690.3 L1084.2,689.3 L1084.3,688.3 L1084.3,687.3 L1084.4,686.3 L1084.5,685.3 L1084.5,684.3 L1084.6,683.3 L1084.6,682.3 L1084.7,681.3 L1084.7,680.3 L1084.8,679.3 L1084.9,678.3 L1084.9,677.3 L1085.0,676.3 L1085.0,675.3 L1085.1,674.3 L1085.1,673.3 L1085.2,672.3 L1085.3,671.3 L1085.3,670.3 L1085.4,669.3 L1085.4,668.3 L1085.5,667.3 L1085.6,666.3 L1085.6,665.3 L1085.7,664.3 L1085.7,663.3 L1085.8,662.3 L1085.8,661.3 L1085.9,660.3 L1086.0,659.3 L1086.0,658.3 L1086.1,657.3 L1086.1,656.3 L1086.2,655.3 L1086.2,654.4 L1086.3,653.4 L1086.4,652.4 L1086.4,651.4 L1086.5,650.4 L1086.5,649.4 L1086.6,648.4 L1086.6,647.4 L1086.7,646.4 L1086.7,645.4 L1086.8,644.4 L1086.9,643.4 L1086.9,642.4 L1087.0,641.4 L1087.0,640.4 L1087.1,639.4 L1087.1,638.4 L1087.2,637.4 L1087.3,636.4 L1087.3,635.4 L1087.4,634.4 L1087.4,633.4 L1087.5,632.4 L1087.5,631.4 L1087.6,630.4 L1087.7,629.4 L1087.7,628.4 L1087.8,627.4 L1087.8,626.4 L1087.9,625.4 L1087.9,624.4 L1088.0,623.4 L1088.1,622.4 L1088.1,621.4 L1088.2,620.4 L1088.2,619.4 L1088.3,618.4 L1088.3,617.4 L1088.4,616.4 L1088.4,615.4 L1088.5,614.4 L1088.6,613.4 L1088.6,612.4 L1088.7,611.4 L1088.7,610.4 L1088.8,609.4 L1088.8,608.4 L1088.9,607.4 L1089.0,606.4 L1089.0,605.4 L1089.1,604.4 L1089.1,603.4 L1089.2,602.4 L1089.2,601.4 L1089.3,600.4 L1089.4,599.4 L1089.4,598.4 L1089.5,597.4 L1089.5,596.4 L1089.6,595.4 L1089.6,594.4 L1089.7,593.4 L1089.7,592.4 L1089.8,591.4 L1089.9,590.4 L1089.9,589.4 L1090.0,588.4 L1090.0,587.4 L1090.1,586.4 L1090.1,585.4 L1090.2,584.4 L1090.3,583.4 L1090.3,582.4 L1090.4,581.4 L1090.4,580.4 L1090.5,579.5 L1090.5,578.5 L1090.6,577.5 L1090.7,576.5 L1090.7,575.5 L1090.8,574.5 L1090.8,573.5 L1090.9,572.5 L1090.9,571.5 L1091.0,570.5 L1091.0,569.5 L1091.1,568.5 L1091.2,567.5 L1091.2,566.5 L1091.3,565.5 L1091.3,564.5 L1091.4,563.5 L1091.4,562.5 L1091.5,561.5 L1091.6,560.5 L1091.6,559.5 L1091.7,558.5 L1091.7,557.5 L1091.8,556.5 L1091.8,555.5 L1091.9,554.5 L1092.0,553.5 L1092.0,552.5 L1092.1,551.5 L1092.1,550.5 L1092.2,549.5 L1092.2,548.5 L1092.3,547.5 L1092.3,546.5 L1092.4,545.5 L1092.5,544.5 L1092.5,543.5 L1092.6,542.5 L1092.6,541.5 L1092.7,540.5 L1092.7,539.5 L1092.8,538.5 L1092.9,537.5 L1092.9,536.5 L1093.0,535.5 L1093.0,534.5 L1093.1,533.5 L1093.1,532.5 L1093.2,531.5 L1093.3,530.5 L1093.3,529.5 L1093.4,528.5 L1093.4,527.5 L1093.5,526.5 L1093.5,525.5 L1093.6,524.5 L1093.6,523.5 L1093.7,522.5 L1093.8,521.5 L1093.8,520.5 L1093.9,519.5 L1093.9,518.5 L1094.0,517.5 L1094.0,516.5 L1094.1,515.5 L1094.2,514.5 L1094.2,513.5 L1094.3,512.5 L1094.3,511.5 L1094.4,510.5 L1094.4,509.5 L1094.5,508.5 L1094.6,507.5 L1094.6,506.6 L1094.7,505.6 L1094.7,504.6 L1094.8,503.6 L1094.8,502.6 L1094.9,501.6 L1094.9,500.6 L1095.0,499.6 L1095.1,498.6 L1095.1,497.6 L1095.2,496.6 L1095.2,495.6 L1095.3,494.6 L1095.3,493.6 L1095.4,492.6 L1095.5,491.6 L1095.5,490.6 L1095.6,489.6 L1095.6,488.6 L1095.7,487.6 L1095.7,486.6 L1095.8,485.6 L1095.8,484.6 L1095.9,483.6 L1096.0,482.6 L1096.0,481.6 L1096.1,480.6 L1096.1,479.6 L1096.2,478.6 L1096.2,477.6 L1096.3,476.6 L1096.4,475.6 L1096.4,474.6 L1096.5,473.6 L1096.5,472.6 L1096.6,471.6 L1096.6,470.6 L1096.7,469.6 L1096.7,468.6 L1096.8,467.6 L1096.9,466.6 L1096.9,465.6 L1097.0,464.6 L1097.0,463.6 L1097.1,462.6 L1097.1,461.6 L1097.2,460.6 L1097.2,459.6 L1097.3,458.6 L1097.4,457.6 L1097.4,456.6 L1097.5,455.6 L1097.5,454.6 L1097.6,453.6 L1097.6,452.6 L1097.7,451.6 L1097.8,450.6 L1097.8,449.6 L1097.9,448.6 L1097.9,447.6 L1098.0,446.6 L1098.0,445.6 L1098.1,444.6 L1098.1,443.6 L1098.2,442.6 L1098.3,441.6 L1098.3,440.6 L1098.4,439.6 L1098.4,438.6 L1098.5,437.6 L1098.5,436.6 L1098.6,435.6 L1098.6,434.6 L1098.7,433.7 L1098.8,432.7 L1098.8,431.7 L1098.9,430.7 L1098.9,429.7 L1099.0,428.7 L1099.0,427.7 L1099.1,426.7 L1099.1,425.7 L1099.2,424.7 L1099.3,423.7 L1099.3,422.7 L1099.4,421.7 L1099.4,420.7 L1099.5,419.7 L1099.5,418.7 L1099.6,417.7 L1099.6,416.7 L1099.7,415.7 L1099.8,414.7 L1099.8,413.7 L1099.9,412.7 L1099.9,411.7 L1100.0,410.7 L1100.0,409.7 L1100.1,408.7 L1100.1,407.7 L1100.2,406.7 L1100.3,405.7 L1100.3,404.7 L1100.4,403.7 L1100.4,402.7 L1100.5,401.7 L1100.5,400.7 L1100.6,399.7 L1100.6,398.7 L1100.7,397.7 L1100.8,396.7 L1100.8,395.7 L1100.9,394.7 L1100.9,393.7 L1101.0,392.7 L1101.0,391.7 L1101.1,390.7 L1101.1,389.7 L1101.2,388.7 L1101.3,387.7 L1101.3,386.7 L1101.4,385.7 L1101.4,384.7 L1101.5,383.7 L1101.5,382.7 L1101.6,381.7 L1101.6,380.7 L1101.7,379.7 L1101.8,378.7 L1101.8,377.7 L1101.9,376.7 L1101.9,375.7 L1102.0,374.7 L1102.0,373.7 L1102.1,372.7 L1102.1,371.7 L1102.2,370.7 L1102.2,369.7 L1102.3,368.7 L1102.4,367.7 L1102.4,366.7 L1102.5,365.7 L1102.5,364.7 L1102.6,363.7 L1102.6,362.7 L1102.7,361.7 L1102.7,360.8 L1102.8,359.8 L1102.9,358.8 L1102.9,357.8 L1103.0,356.8 L1103.0,355.8 L1103.1,354.8 L1103.1,353.8 L1103.2,352.8 L1103.2,351.8 L1103.3,350.8 L1103.3,349.8 L1103.4,348.8 L1103.5,347.8 L1103.5,346.8 L1103.6,345.8 L1103.6,344.8 L1103.7,343.8 L1103.7,342.8 L1103.8,341.8 L1103.8,340.8 L1103.9,339.8 L1103.9,338.8 L1104.0,337.8 L1104.1,336.8 L1104.1,335.8 L1104.2,334.8 L1104.2,333.8 L1104.3,332.8 L1104.3,331.8 L1104.4,330.8 L1104.4,329.8 L1104.5,328.8 L1104.5,327.8 L1104.6,326.8 L1104.7,325.8 L1104.7,324.8 L1104.8,323.8 L1104.8,322.8 L1104.9,321.8 L1104.9,320.8 L1105.0,319.8 L1105.0,318.8 L1105.1,317.8 L1105.1,316.8 L1105.2,315.8 L1105.3,314.8 L1105.3,313.8 L1105.4,312.8 L1105.4,311.8 L1105.5,310.8 L1105.5,309.8 L1105.6,308.8 L1105.6,307.8 L1105.7,306.8 L1105.7,305.8 L1105.8,304.8 L1105.8,303.8 L1105.9,302.8 L1106.0,301.8 L1106.0,300.8 L1106.1,299.8 L1106.1,298.8 L1106.2,297.8 L1106.2,296.8 L1106.3,295.8 L1106.3,294.8 L1106.4,293.8 L1106.4,292.8 L1106.5,291.8 L1106.6,290.8 L1106.6,289.8 L1106.7,288.9 L1106.7,287.9 L1106.8,286.9 L1106.8,285.9 L1106.9,284.9 L1106.9,283.9 L1107.0,282.9 L1107.0,281.9 L1107.1,280.9 L1107.1,279.9 L1107.2,278.9 L1107.2,277.9 L1107.3,276.9 L1107.4,275.9 L1107.4,274.9 L1107.5,273.9 L1107.5,272.9 L1107.6,271.9 L1107.6,270.9 L1107.7,269.9 L1107.7,268.9 L1107.8,267.9 L1107.8,266.9 L1107.9,265.9 L1107.9,264.9 L1108.0,263.9 L1108.0,262.9 L1108.1,261.9 L1108.2,260.9 L1108.2,259.9 L1108.3,258.9 L1108.3,257.9 L1108.4,256.9 L1108.4,255.9 L1108.5,254.9 L1108.5,253.9 L1108.6,252.9 L1108.6,251.9 L1108.7,250.9 L1108.7,249.9 L1108.8,248.9 L1108.8,247.9 L1108.9,246.9 L1109.0,245.9 L1109.0,244.9 L1109.1,243.9 L1109.1,242.9 L1109.2,241.9 L1109.2,240.9 L1109.3,239.9 L1109.3,238.9 L1109.4,237.9 L1109.4,236.9 L1109.5,235.9 L1109.6,234.9 L1109.6,233.9 L1109.7,232.9 L1109.7,231.9 L1109.8,230.9 L1109.8,229.9 L1109.9,228.9 L1109.9,227.9 L1110.0,226.9 L1110.1,225.9 L1110.1,224.9 L1110.2,223.9 L1110.2,222.9 L1110.3,221.9 L1110.3,220.9 L1110.4,219.9 L1110.5,219.0 L1110.5,218.0 L1110.6,217.0 L1110.6,216.0 L1110.7,215.0 L1110.8,214.0 L1110.8,213.0 L1110.9,212.0 L1110.9,211.0 L1111.0,210.0 L1111.1,209.0 L1111.1,208.0 L1111.2,207.0 L1111.2,206.0 L1111.3,205.0 L1111.4,204.0 L1111.4,203.0 L1111.5,202.0 L1111.5,201.0 L1111.6,200.0 L1111.7,199.0 L1111.7,198.0 L1111.8,197.0 L1111.9,196.0 L1111.9,195.0 L1112.0,194.0 L1112.1,193.0 L1112.1,192.0 L1112.2,191.0 L1112.3,190.0 L1112.3,189.0 L1112.4,188.0 L1112.5,187.0 L1112.5,186.0 L1112.6,185.0 L1112.7,184.0 L1112.8,183.0 L1112.8,182.0 L1112.9,181.0 L1113.0,180.0 L1113.0,179.0 L1113.1,178.0 L1113.2,177.0 L1113.3,176.0 L1113.3,175.0 L1113.4,174.0 L1113.5,173.0 L1113.6,172.1 L1113.6,171.1 L1113.7,170.1 L1113.8,169.1 L1113.9,168.1 L1113.9,167.1 L1114.0,166.1 L1114.1,165.1 L1114.2,164.1 L1114.3,163.1 L1114.3,162.1 L1114.4,161.1 L1114.5,160.1 L1114.6,159.1 L1114.7,158.1 L1114.8,157.1 L1114.8,156.1 L1114.9,155.1 L1115.0,154.1 L1115.1,153.1 L1115.2,152.1 L1115.3,151.1 L1115.4,150.1 L1115.5,149.1 L1115.5,148.1 L1115.6,147.1 L1115.7,146.1 L1115.8,145.1 L1115.9,144.1 L1116.0,143.1 L1116.1,142.2 L1116.2,141.2 L1116.3,140.2 L1116.4,139.2 L1116.5,138.2 L1116.6,137.2 L1116.7,136.2 L1116.8,135.2 L1116.9,134.2 L1117.0,133.2 L1117.1,132.2 L1117.2,131.2 L1117.3,130.2 L1117.4,129.2 L1117.5,128.2 L1117.6,127.2 L1117.7,126.2 L1117.8,125.2 L1117.9,124.2 L1118.0,123.2 L1118.1,122.2 L1118.2,121.2 L1118.3,120.2 L1118.5,119.3 L1118.6,118.3 L1118.7,117.3 L1118.8,116.3 L1118.9,115.3 L1119.0,114.3 L1119.1,113.3 L1119.3,112.3 L1119.4,111.3 L1119.5,110.3 L1119.6,109.3 L1119.7,108.3 L1119.9,107.3 L1120.0,106.3 L1120.1,105.3 L1120.2,104.3 L1120.3,103.3 L1120.5,102.3 L1120.6,101.3 L1120.7,100.4 L1120.9,99.4 L1121.0,98.4 L1121.1,97.4 L1121.3,96.4 L1121.4,95.4 L1121.5,94.4 L1121.7,93.4 L1121.8,92.4 L1121.9,91.4 L1122.1,90.4 L1122.2,89.4 L1122.4,88.4 L1122.5,87.4 L1122.7,86.5 L1122.8,85.5 L1123.0,84.5 L1123.2,83.5 L1123.3,82.5 L1123.5,81.5 L1123.7,80.6 L1123.9,79.6 L1124.1,78.6 L1124.3,77.6 L1124.6,76.7 L1124.8,75.7 L1125.1,74.7 L1125.3,73.8 L1125.6,72.8 L1125.9,71.9 L1126.2,70.9 L1126.5,70.0 L1126.8,69.0 L1127.2,68.1 L1127.5,67.2 L1127.9,66.3 L1128.3,65.3 L1128.7,64.4 L1129.2,63.5 L1129.6,62.6 L1130.1,61.7 L1130.6,60.8 L1131.1,60.0 L1131.7,59.4 L1132.6,59.5 L1133.5,60.1 L1134.3,60.9 L1134.9,61.8 L1135.3,62.8 L1135.6,63.8 L1135.9,64.8 L1136.2,65.7 L1136.5,66.7 L1136.8,67.7 L1137.1,68.6 L1137.4,69.6 L1137.8,70.5 L1138.1,71.5 L1138.4,72.4 L1138.6,73.3 L1138.9,74.3 L1139.2,75.2 L1139.5,76.2 L1139.7,77.1 L1140.0,78.1 L1140.2,79.0 L1140.4,80.0 L1140.6,81.0 L1140.8,82.0 L1141.0,82.9 L1141.2,83.9 L1141.4,84.9 L1141.6,85.9 L1141.8,86.9 L1141.9,87.9 L1142.1,88.9 L1142.2,89.9 L1142.4,90.8 L1142.5,91.8 L1142.7,92.8 L1142.8,93.8 L1143.0,94.8 L1143.1,95.8 L1143.3,96.8 L1143.4,97.8 L1143.6,98.8 L1143.7,99.8 L1143.8,100.8 L1144.0,101.8 L1144.1,102.8 L1144.2,103.8 L1144.4,104.8 L1144.5,105.8 L1144.6,106.8 L1144.8,107.8 L1144.9,108.7 L1145.0,109.7 L1145.2,110.7 L1145.3,111.7 L1145.4,112.7 L1145.6,113.7 L1145.7,114.7 L1145.8,115.7 L1145.9,116.7 L1146.1,117.7 L1146.2,118.7 L1146.3,119.7 L1146.4,120.6 L1146.6,121.6 L1146.7,122.6 L1146.8,123.6 L1147.0,124.6 L1147.1,125.6 L1147.2,126.6 L1147.3,127.6 L1147.5,128.6 L1147.6,129.6 L1147.7,130.6 L1147.8,131.6 L1148.0,132.5 L1148.1,133.5 L1148.2,134.5 L1148.3,135.5 L1148.5,136.5 L1148.6,137.5 L1148.7,138.5 L1148.8,139.5 L1149.0,140.5 L1149.1,141.5 L1149.2,142.5 L1149.3,143.4 L1149.5,144.4 L1149.6,145.4 L1149.7,146.4 L1149.8,147.4 L1150.0,148.4 L1150.1,149.4 L1150.2,150.4 L1150.3,151.4 L1150.5,152.4 L1150.6,153.4 L1150.7,154.4 L1150.8,155.4 L1151.0,156.3 L1151.1,157.3 L1151.2,158.3 L1151.3,159.3 L1151.5,160.3 L1151.6,161.3 L1151.7,162.3 L1151.8,163.3 L1151.9,164.3 L1152.1,165.3 L1152.2,166.3 L1152.3,167.3 L1152.4,168.2 L1152.6,169.2 L1152.7,170.2 L1152.8,171.2 L1152.9,172.2 L1153.0,173.2 L1153.2,174.2 L1153.3,175.2 L1153.4,176.2 L1153.5,177.2 L1153.6,178.2 L1153.8,179.2 L1153.9,180.2 L1154.0,181.1 L1154.1,182.1 L1154.2,183.1 L1154.4,184.1 L1154.5,185.1 L1154.6,186.1 L1154.7,187.1 L1154.8,188.1 L1154.9,189.1 L1155.1,190.1 L1155.2,191.1 L1155.3,192.1 L1155.4,193.1 L1155.5,194.1 L1155.6,195.0 L1155.8,196.0 L1155.9,197.0 L1156.0,198.0 L1156.1,199.0 L1156.2,200.0 L1156.3,201.0 L1156.5,202.0 L1156.6,203.0 L1156.7,204.0 L1156.8,205.0 L1156.9,206.0 L1157.0,207.0 L1157.1,208.0 L1157.3,209.0 L1157.4,209.9 L1157.5,210.9 L1157.6,211.9 L1157.7,212.9 L1157.8,213.9 L1157.9,214.9 L1158.0,215.9 L1158.2,216.9 L1158.3,217.9 L1158.4,218.9 L1158.5,219.9 L1158.6,220.9 L1158.7,221.9 L1158.8,222.9 L1158.9,223.9 L1159.0,224.9 L1159.1,225.8 L1159.3,226.8 L1159.4,227.8 L1159.5,228.8 L1159.6,229.8 L1159.7,230.8 L1159.8,231.8 L1159.9,232.8 L1160.0,233.8 L1160.1,234.8 L1160.2,235.8 L1160.3,236.8 L1160.5,237.8 L1160.6,238.8 L1160.7,239.8 L1160.8,240.8 L1160.9,241.8 L1161.0,242.8 L1161.1,243.7 L1161.2,244.7 L1161.3,245.7 L1161.4,246.7 L1161.5,247.7 L1161.6,248.7 L1161.7,249.7 L1161.8,250.7 L1162.0,251.7 L1162.1,252.7 L1162.2,253.7 L1162.3,254.7 L1162.4,255.7 L1162.5,256.7 L1162.6,257.7 L1162.7,258.7 L1162.8,259.7 L1162.9,260.7 L1163.0,261.7 L1163.1,262.7 L1163.2,263.6 L1163.3,264.6 L1163.4,265.6 L1163.5,266.6 L1163.6,267.6 L1163.7,268.6 L1163.8,269.6 L1164.0,270.6 L1164.1,271.6 L1164.2,272.6 L1164.3,273.6 L1164.4,274.6 L1164.5,275.6 L1164.6,276.6 L1164.7,277.6 L1164.8,278.6 L1164.9,279.6 L1165.0,280.6 L1165.1,281.6 L1165.2,282.6 L1165.3,283.6 L1165.4,284.5 L1165.5,285.5 L1165.6,286.5 L1165.7,287.5 L1165.8,288.5 L1165.9,289.5 L1166.0,290.5 L1166.2,291.5 L1166.3,292.5 L1166.4,293.5 L1166.5,294.5 L1166.6,295.5 L1166.7,296.5 L1166.8,297.5 L1166.9,298.5 L1167.0,299.5 L1167.1,300.5 L1167.2,301.5 L1167.3,302.5 L1167.4,303.5 L1167.5,304.4 L1167.6,305.4 L1167.7,306.4 L1167.8,307.4 L1167.9,308.4 L1168.0,309.4 L1168.1,310.4 L1168.3,311.4 L1168.4,312.4 L1168.5,313.4 L1168.6,314.4 L1168.7,315.4 L1168.8,316.4 L1168.9,317.4 L1169.0,318.4 L1169.1,319.4 L1169.2,320.4 L1169.3,321.4 L1169.4,322.4 L1169.5,323.4 L1169.6,324.3 L1169.7,325.3 L1169.9,326.3 L1170.0,327.3 L1170.1,328.3 L1170.2,329.3 L1170.3,330.3 L1170.4,331.3 L1170.5,332.3 L1170.6,333.3 L1170.7,334.3 L1170.8,335.3 L1170.9,336.3 L1171.0,337.3 L1171.2,338.3 L1171.3,339.3 L1171.4,340.3 L1171.5,341.3 L1171.6,342.3 L1171.7,343.2 L1171.8,344.2 L1171.9,345.2 L1172.0,346.2 L1172.1,347.2 L1172.3,348.2 L1172.4,349.2 L1172.5,350.2 L1172.6,351.2 L1172.7,352.2 L1172.8,353.2 L1172.9,354.2 L1173.0,355.2 L1173.2,356.2 L1173.3,357.2 L1173.4,358.2 L1173.5,359.2 L1173.6,360.1 L1173.7,361.1 L1173.8,362.1 L1173.9,363.1 L1174.1,364.1 L1174.2,365.1 L1174.3,366.1 L1174.4,367.1 L1174.5,368.1 L1174.6,369.1 L1174.8,370.1 L1174.9,371.1 L1175.0,372.1 L1175.1,373.1 L1175.2,374.1 L1175.3,375.1 L1175.5,376.0 L1175.6,377.0 L1175.7,378.0 L1175.8,379.0 L1175.9,380.0 L1176.0,381.0 L1176.2,382.0 L1176.3,383.0 L1176.4,384.0 L1176.5,385.0 L1176.6,386.0 L1176.8,387.0 L1176.9,388.0 L1177.0,389.0 L1177.1,389.9 L1177.3,390.9 L1177.4,391.9 L1177.5,392.9 L1177.6,393.9 L1177.7,394.9 L1177.9,395.9 L1178.0,396.9 L1178.1,397.9 L1178.2,398.9 L1178.4,399.9 L1178.5,400.9 L1178.6,401.9 L1178.8,402.8 L1178.9,403.8 L1179.0,404.8 L1179.1,405.8 L1179.3,406.8 L1179.4,407.8 L1179.5,408.8 L1179.6,409.8 L1179.8,410.8 L1179.9,411.8 L1180.0,412.8 L1180.2,413.7 L1180.3,414.7 L1180.4,415.7 L1180.6,416.7 L1180.7,417.7 L1180.8,418.7 L1181.0,419.7 L1181.1,420.7 L1181.2,421.7 L1181.4,422.7 L1181.5,423.7 L1181.6,424.6 L1181.8,425.6 L1181.9,426.6 L1182.0,427.6 L1182.2,428.6 L1182.3,429.6 L1182.5,430.6 L1182.6,431.6 L1182.7,432.6 L1182.9,433.6 L1183.0,434.5 L1183.1,435.5 L1183.3,436.5 L1183.4,437.5 L1183.6,438.5 L1183.7,439.5 L1183.9,440.5 L1184.0,441.5 L1184.1,442.5 L1184.3,443.4 L1184.4,444.4 L1184.6,445.4 L1184.7,446.4 L1184.9,447.4 L1185.0,448.4 L1185.2,449.4 L1185.3,450.4 L1185.5,451.4 L1185.6,452.3 L1185.8,453.3 L1185.9,454.3 L1186.1,455.3 L1186.2,456.3 L1186.4,457.3 L1186.5,458.3 L1186.7,459.3 L1186.8,460.2 L1187.0,461.2 L1187.1,462.2 L1187.3,463.2 L1187.4,464.2 L1187.6,465.2 L1187.7,466.2 L1187.9,467.2 L1188.0,468.1 L1188.2,469.1 L1188.4,470.1 L1188.5,471.1 L1188.7,472.1 L1188.8,473.1 L1189.0,474.1 L1189.2,475.0 L1189.3,476.0 L1189.5,477.0 L1189.7,478.0 L1189.8,479.0 L1190.0,480.0 L1190.1,481.0 L1190.3,481.9 L1190.5,482.9 L1190.6,483.9 L1190.8,484.9 L1191.0,485.9 L1191.1,486.9 L1191.3,487.9 L1191.5,488.8 L1191.7,489.8 L1191.8,490.8 L1192.0,491.8 L1192.2,492.8 L1192.3,493.8 L1192.5,494.8 L1192.7,495.7 L1192.9,496.7 L1193.0,497.7 L1193.2,498.7 L1193.4,499.7 L1193.6,500.7 L1193.7,501.6 L1193.9,502.6 L1194.1,503.6 L1194.3,504.6 L1194.4,505.6 L1194.6,506.6 L1194.8,507.5 L1195.0,508.5 L1195.2,509.5 L1195.3,510.5 L1195.5,511.5 L1195.7,512.5 L1195.9,513.4 L1196.1,514.4 L1196.3,515.4 L1196.4,516.4 L1196.6,517.4 L1196.8,518.4 L1197.0,519.3 L1197.2,520.3 L1197.4,521.3 L1197.5,522.3 L1197.7,523.3 L1197.9,524.3 L1198.1,525.2 L1198.3,526.2 L1198.5,527.2 L1198.7,528.2 L1198.8,529.2 L1199.0,530.2 L1199.2,531.1 L1199.4,532.1 L1199.6,533.1 L1199.8,534.1 L1200.0,535.1 L1200.2,536.1 L1200.3,537.0 L1200.5,538.0 L1200.7,539.0 L1200.9,540.0 L1201.1,541.0 L1201.3,542.0 L1201.5,543.0 L1201.7,543.9 L1201.9,544.9 L1202.1,545.9 L1202.3,546.9 L1202.4,547.9 L1202.6,548.9 L1202.8,549.8 L1203.0,550.8 L1203.2,551.8 L1203.4,552.8 L1203.6,553.8 L1203.8,554.8 L1204.0,555.8 L1204.2,556.7 L1204.4,557.7 L1204.6,558.7 L1204.7,559.7 L1204.9,560.7 L1205.1,561.7 L1205.3,562.7 L1205.5,563.6 L1205.7,564.6 L1205.9,565.6 L1206.1,566.6 L1206.3,567.6 L1206.6,568.6 L1206.8,569.5 L1207.0,570.5 L1207.2,571.5 L1207.4,572.5 L1207.7,573.4 L1207.9,574.4 L1208.1,575.4 L1208.4,576.3 L1208.6,577.3 L1208.9,578.3 L1209.1,579.2 L1209.4,580.2 L1209.7,581.2 L1209.9,582.1 L1210.2,583.1 L1210.5,584.0 L1210.8,585.0 L1211.1,585.9 L1211.4,586.9 L1211.8,587.8 L1212.1,588.7 L1212.4,589.7 L1212.8,590.6 L1213.1,591.5 L1213.5,592.5 L1213.9,593.4 L1214.2,594.3 L1214.6,595.2 L1215.0,596.1 L1215.5,597.0 L1215.9,597.9 L1216.3,598.8 L1216.8,599.7 L1217.2,600.6 L1217.7,601.5 L1218.2,602.4 L1218.7,603.3 L1219.2,604.1 L1219.7,605.0 L1220.2,605.9 L1220.8,606.7 L1221.3,607.6 L1221.9,608.4 L1222.5,609.2 L1223.1,610.1 L1223.7,610.8 L1224.4,611.6 L1225.1,612.3 L1225.8,613.0 L1226.5,613.7 L1227.2,614.3 L1228.0,614.9 L1228.8,615.4 L1229.6,615.9 L1230.5,616.3 L1231.4,616.7 L1232.3,617.0 L1233.3,617.2 L1234.2,617.4 L1235.3,617.5 L1236.3,617.6 L1237.4,617.6 L1238.4,617.5 L1239.5,617.4 L1240.5,617.3 L1241.5,617.1 L1242.6,616.9 L1243.6,616.6 L1244.5,616.4 L1245.5,616.2 L1246.4,616.0 L1247.4,615.8 L1248.3,615.7 L1249.3,615.7 L1250.2,615.8 L1251.1,615.9 L1252.1,616.1 L1253.0,616.4 L1253.9,616.7 L1254.9,617.1 L1255.8,617.5 L1256.7,617.9 L1257.5,618.4 L1258.4,619.0 L1259.3,619.5 L1260.1,620.1 L1260.9,620.8 L1261.8,621.4 L1262.5,622.1 L1263.3,622.7 L1264.1,623.4 L1264.8,624.1 L1265.5,624.9 L1266.2,625.6 L1266.9,626.3 L1267.6,627.1 L1268.2,627.9 L1268.8,628.6 L1269.4,629.4 L1270.0,630.2 L1270.6,631.0 L1271.2,631.8 L1271.8,632.7 L1272.3,633.5 L1272.9,634.3 L1273.4,635.2 L1273.9,636.0 L1274.4,636.9 L1274.9,637.7 L1275.4,638.6 L1275.9,639.5 L1276.4,640.4 L1276.9,641.2 L1277.3,642.1 L1277.8,643.0 L1278.2,643.9 L1278.7,644.8 L1279.1,645.7 L1279.5,646.6 L1280.0,647.5 L1280.4,648.4 L1280.8,649.3 L1281.2,650.2 L1281.6,651.1 L1282.0,652.0 L1282.4,652.9 L1282.7,653.8 L1283.1,654.8 L1283.5,655.7 L1283.9,656.6 L1284.2,657.6 L1284.6,658.5 L1284.9,659.4 L1285.3,660.4 L1285.6,661.3 L1285.9,662.2 L1286.3,663.2 L1286.6,664.1 L1286.9,665.1 L1287.2,666.0 L1287.6,667.0 L1287.9,667.9 L1288.2,668.9 L1288.5,669.8 L1288.8,670.8 L1289.1,671.7 L1289.4,672.7 L1289.7,673.7 L1290.0,674.6 L1290.2,675.6 L1290.5,676.5 L1290.8,677.5 L1291.1,678.5 L1291.4,679.4 L1291.6,680.4 L1291.9,681.4 L1292.2,682.3 L1292.5,683.3 L1292.7,684.3 L1293.0,685.2 L1293.3,686.2 L1293.5,687.2 L1293.8,688.1 L1294.1,689.1 L1294.3,690.1 L1294.6,691.0 L1294.8,692.0 L1295.1,693.0 L1295.4,693.9 L1295.6,694.9 L1295.9,695.9 L1296.1,696.9 L1296.4,697.8 L1296.6,698.8 L1296.9,699.8 L1297.1,700.7 L1297.4,701.7 L1297.6,702.7 L1297.9,703.6 L1298.1,704.6 L1298.4,705.6 L1298.6,706.5 L1298.9,707.5 L1299.1,708.5 L1299.4,709.5 L1299.6,710.4 L1299.9,711.4 L1300.1,712.4 L1300.3,713.3 L1300.6,714.3 L1300.8,715.3 L1301.1,716.3 L1301.3,717.2 L1301.5,718.2 L1301.8,719.2 L1302.0,720.1 L1302.3,721.1 L1302.5,722.1 L1302.7,723.1 L1303.0,724.0 L1303.2,725.0 L1303.4,726.0 L1303.7,726.9 L1303.9,727.9 L1304.1,728.9 L1304.4,729.9 L1304.6,730.8 L1304.8,731.8 L1305.0,732.8 L1305.3,733.8 L1305.5,734.7 L1305.7,735.7 L1306.0,736.7 L1306.2,737.6 L1306.4,738.6 L1306.6,739.6 L1306.9,740.6 L1307.1,741.5 L1307.3,742.5 L1307.5,743.5 L1307.7,744.5 L1308.0,745.4 L1308.2,746.4 L1308.4,747.4 L1308.6,748.4 L1308.9,749.3 L1309.1,750.3 L1309.3,751.3 L1309.5,752.3 L1309.7,753.2 L1309.9,754.2 L1310.2,755.2 L1310.4,756.2 L1310.6,757.1 L1310.8,758.1 L1311.0,759.1 L1311.2,760.1 L1311.5,761.0 L1311.7,762.0 L1311.9,763.0 L1312.1,764.0 L1312.3,765.0 L1312.5,765.9 L1312.7,766.9 L1313.0,767.9 L1313.2,768.9 L1313.4,769.8 L1313.6,770.8 L1313.8,771.8 L1314.0,772.8 L1314.2,773.7 L1314.4,774.7 L1314.7,775.7 L1314.9,776.7 L1315.1,777.7 L1315.3,778.6 L1315.5,779.6 L1315.7,780.6 L1315.9,781.6 L1316.1,782.5 L1316.3,783.5 L1316.6,784.5 L1316.8,785.5 L1317.0,786.4 L1317.2,787.4 L1317.4,788.4 L1317.6,789.4 L1317.8,790.4 L1318.0,791.3 L1318.2,792.3 L1318.4,793.3 L1318.7,794.3 L1318.9,795.2 L1319.1,796.2 L1319.3,797.2 L1319.5,798.2 L1319.7,799.2 L1319.9,800.1 L1320.1,801.1 L1320.3,802.1 L1320.6,803.1 L1320.8,804.0 L1321.0,805.0 L1321.2,806.0 L1321.4,807.0 L1321.6,807.9 L1321.8,808.9 L1322.0,809.9 L1322.2,810.9 L1322.5,811.9 L1322.7,812.8 L1322.9,813.8 L1323.1,814.8 L1323.3,815.8 L1323.5,816.7 L1323.7,817.7 L1324.0,818.7 L1324.2,819.7 L1324.4,820.6 L1324.6,821.6 L1324.8,822.6 L1325.0,823.6 L1325.3,824.6 L1325.5,825.5 L1325.7,826.5 L1325.9,827.5 L1326.1,828.5 L1326.4,829.4 L1326.6,830.4 L1326.8,831.4 L1327.0,832.4 L1327.2,833.3 L1327.5,834.3 L1327.7,835.3 L1327.9,836.3 L1328.1,837.2 L1328.4,838.2 L1328.6,839.2 L1328.8,840.2 L1329.0,841.1 L1329.3,842.1 L1329.5,843.1 L1329.7,844.0 L1329.9,845.0 L1330.2,846.0 L1330.4,847.0 L1330.6,847.9 L1330.9,848.9 L1331.1,849.9 L1331.3,850.9 L1331.6,851.8 L1331.8,852.8 L1332.0,853.8 L1332.3,854.7 L1332.5,855.7 L1332.7,856.7 L1333.0,857.7 L1333.2,858.6 L1333.4,859.6 L1333.7,860.6 L1333.9,861.5 L1334.2,862.5 L1334.4,863.5 L1334.7,864.4 L1334.9,865.4 L1335.1,866.4 L1335.4,867.4 L1335.6,868.3 L1335.9,869.3 L1336.1,870.3 L1336.4,871.2 L1336.6,872.2 L1336.9,873.2 L1337.1,874.1 L1337.4,875.1 L1337.6,876.1 L1337.9,877.0 L1338.2,878.0 L1338.4,879.0 L1338.7,879.9 L1338.9,880.9 L1339.2,881.9 L1339.5,882.8 L1339.7,883.8 L1340.0,884.8 L1340.2,885.7 L1340.5,886.7 L1340.8,887.6 L1341.0,888.6 L1341.3,889.6 L1341.6,890.5 L1341.9,891.5 L1342.1,892.5 L1342.4,893.4 L1342.7,894.4 L1343.0,895.3 L1343.2,896.3 L1343.5,897.3 L1343.8,898.2 L1344.1,899.2 L1344.4,900.2 L1344.6,901.1 L1344.9,902.1 L1345.2,903.0 L1345.5,904.0 L1345.8,904.9 L1346.1,905.9 L1346.4,906.9 L1346.7,907.8 L1347.0,908.8 L1347.3,909.7 L1347.6,910.7 L1347.9,911.6 L1348.2,912.6 L1348.5,913.6 L1348.8,914.5 L1349.1,915.5 L1349.4,916.4 L1349.7,917.4 L1350.0,918.3 L1350.3,919.3 L1350.6,920.2 L1350.9,921.2 L1351.2,922.1 L1351.6,923.1 L1351.9,924.0 L1352.2,925.0 L1352.5,925.9 L1352.8,926.9 L1353.2,927.8 L1353.5,928.8 L1353.8,929.7 L1354.2,930.7 L1354.5,931.6 L1354.8,932.6 L1355.2,933.5 L1355.5,934.4 L1355.8,935.4 L1356.2,936.3 L1356.5,937.3 L1356.9,938.2 L1357.2,939.1 L1357.6,940.1 L1357.9,941.0 L1358.3,941.9 L1358.7,942.9 L1359.0,943.8 L1359.4,944.8 L1359.7,945.7 L1360.1,946.6 L1360.5,947.5 L1360.8,948.5 L1361.2,949.4 L1361.6,950.3 L1362.0,951.3 L1362.3,952.2 L1362.7,953.1 L1363.1,954.0 L1363.5,955.0 L1363.9,955.9 L1364.3,956.8 L1364.7,957.7 L1365.1,958.6 L1365.5,959.5 L1365.9,960.5 L1366.3,961.4 L1366.7,962.3 L1367.1,963.2 L1367.5,964.1 L1367.9,965.0 L1368.3,965.9 L1368.8,966.8 L1369.2,967.7 L1369.6,968.6 L1370.0,969.5 L1370.5,970.4 L1370.9,971.3 L1371.3,972.2 L1371.8,973.1 L1372.2,974.0 L1372.7,974.9 L1373.1,975.8 L1373.6,976.7 L1374.0,977.6 L1374.5,978.5 L1374.9,979.4 L1375.4,980.2 L1375.9,981.1 L1376.3,982.0 L1376.8,982.9 L1377.3,983.8 L1377.8,984.6 L1378.3,985.5 L1378.7,986.4 L1379.2,987.3 L1379.7,988.1 L1380.2,989.0 L1380.7,989.9 L1381.2,990.7 L1381.7,991.6 L1382.2,992.4 L1382.7,993.3 L1383.3,994.2 L1383.8,995.0 L1384.3,995.9 L1384.8,996.7 L1385.3,997.6 L1385.9,998.4 L1386.4,999.3 L1387.0,1000.1 L1387.5,1000.9 L1388.0,1001.8 L1388.6,1002.6 L1389.1,1003.4 L1389.7,1004.3 L1390.3,1005.1 L1390.8,1005.9 L1391.4,1006.8 L1392.0,1007.6 L1392.5,1008.4 L1393.1,1009.2 L1393.7,1010.0 L1394.4,1010.8 L1395.0,1011.6 L1395.5,1012.4 L1396.1,1013.3 L1396.7,1014.1 L1397.3,1014.9 L1397.9,1015.7 L1398.5,1016.5 L1399.1,1017.3 L1399.8,1018.1 L1400.4,1018.9 L1401.0,1019.7 L1401.6,1020.4 L1402.3,1021.2 L1402.9,1022.0 L1403.6,1022.7 L1404.2,1023.5 L1404.9,1024.3 L1405.5,1025.0 L1406.2,1025.7 L1406.9,1026.5 L1407.5,1027.2 L1408.2,1027.9 L1408.9,1028.7 L1409.6,1029.4 L1410.3,1030.1 L1411.0,1030.8 L1411.7,1031.5 L1412.4,1032.2 L1413.1,1032.9 L1413.9,1033.6 L1414.6,1034.3 L1415.3,1035.0 L1416.1,1035.7 L1416.8,1036.4 L1417.5,1037.1 L1418.3,1037.7 L1419.0,1038.4 L1419.8,1039.1 L1420.5,1039.8 L1421.2,1040.4 L1422.0,1041.1 L1422.7,1041.8 L1423.5,1042.4 L1424.3,1043.1 L1425.0,1043.7 L1425.8,1044.4 L1426.6,1045.0 L1427.3,1045.6 L1428.1,1046.3 L1428.9,1046.9 L1429.7,1047.6 L1430.4,1048.2 L1431.2,1048.8 L1432.0,1049.5 L1432.8,1050.1 L1433.5,1050.8 L1434.3,1051.4 L1435.0,1052.1 L1435.8,1052.7 L1436.6,1053.4 L1437.3,1054.0 L1438.1,1054.7 L1438.9,1055.3 L1439.6,1056.0 L1440.4,1056.6 L1441.1,1057.3 L1441.9,1057.9 L1442.7,1058.6 L1443.4,1059.3 L1444.2,1059.9 L1444.9,1060.6 L1445.7,1061.3 L1446.4,1061.9 L1447.1,1062.6 L1447.9,1063.3 L1448.6,1064.0 L1449.3,1064.7 L1450.1,1065.3 L1450.8,1066.0 L1451.5,1066.8 L1452.2,1067.5 L1452.9,1068.2 L1453.6,1068.9 L1454.3,1069.6 L1455.0,1070.4 L1455.6,1071.1 L1456.3,1071.8 L1457.0,1072.6 L1457.7,1073.3 L1458.4,1074.0 L1459.1,1074.8 L1459.8,1075.5 L1460.4,1076.2 L1461.1,1076.9 L1461.8,1077.7 L1462.5,1078.4 L1463.2,1079.1 L1463.9,1079.8 L1464.6,1080.6 L1465.3,1081.3 L1466.0,1082.0 L1466.7,1082.8 L1467.4,1083.5 L1468.1,1084.2 L1468.7,1085.0 L1469.4,1085.7 L1470.1,1086.4 L1470.8,1087.2 L1471.5,1087.9 L1472.2,1088.6 L1472.9,1089.3 L1473.7,1090.0 L1474.4,1090.7 L1475.1,1091.4 L1475.8,1092.1 L1476.6,1092.8 L1477.3,1093.4 L1478.0,1094.1 L1478.8,1094.7 L1479.5,1095.4 L1480.3,1096.0 L1481.1,1096.6 L1481.9,1097.2 L1482.7,1097.8 L1483.5,1098.4 L1484.3,1099.0 L1485.1,1099.6 L1486.0,1100.2 L1486.8,1100.7 L1487.6,1101.3 L1488.4,1101.9 L1489.3,1102.4 L1490.1,1103.0 L1490.9,1103.5 L1491.8,1104.1 L1492.6,1104.7 L1493.4,1105.2 L1494.3,1105.8 L1495.1,1106.4 L1495.9,1107.0 L1496.7,1107.6 L1497.5,1108.3 L1498.3,1109.0 L1499.1,1109.8 L1499.9,1110.5 L1500.7,1111.2 L1501.5,1111.9 L1502.3,1112.6 L1503.1,1113.2 L1503.9,1113.7 L1504.8,1114.1 L1505.7,1114.4 L1506.6,1114.6 L1507.5,1114.7 L1508.5,1114.7 L1509.5,1114.8 L1510.5,1114.8 L1511.5,1114.8 L1512.5,1114.6 L1513.5,1114.4 L1514.5,1114.1 L1515.5,1113.9 L1516.5,1113.8 L1517.4,1113.9 L1518.4,1114.1 L1519.4,1114.4 L1520.4,1114.7 L1521.3,1115.1 L1522.2,1115.5 L1523.1,1115.9 L1524.0,1116.3 L1524.9,1116.8 L1525.8,1117.3 L1526.6,1117.9 L1527.5,1118.5 L1528.3,1119.1 L1529.1,1119.7 L1529.9,1120.3 L1530.7,1121.0 L1531.4,1121.6 L1532.1,1122.3 L1532.8,1123.0 L1533.5,1123.7 L1534.2,1124.4 L1534.8,1125.2 L1535.5,1126.0 L1536.1,1126.8 L1536.7,1127.6 L1537.3,1128.4 L1537.9,1129.2 L1538.5,1130.1 L1539.1,1130.9 L1539.6,1131.7 L1540.2,1132.5 L1540.7,1133.4 L1541.2,1134.2 L1541.8,1135.1 L1542.3,1135.9 L1542.7,1136.8 L1543.2,1137.7 L1543.7,1138.6 L1544.2,1139.5 L1544.7,1140.4 L1545.2,1141.2 L1545.6,1142.1 L1546.1,1143.0 L1546.6,1143.9 L1547.1,1144.7 L1547.7,1145.6 L1548.2,1146.5 L1548.7,1147.3 L1549.2,1148.2 L1549.7,1149.1 L1550.2,1150.0 L1550.7,1150.9 L1551.2,1151.7 L1551.7,1152.6 L1552.2,1153.5 L1552.8,1154.3 L1553.3,1155.2 L1553.9,1156.0 L1554.4,1156.8 L1555.0,1157.5 L1555.7,1158.3 L1556.3,1159.0 L1557.0,1159.8 L1557.7,1160.5 L1558.4,1161.2 L1559.1,1161.9 L1559.8,1162.6 L1560.6,1163.3 L1561.4,1164.0 L1562.1,1164.6 L1562.9,1165.3 L1563.7,1165.9 L1564.5,1166.5 L1565.3,1167.1 L1566.1,1167.7 L1566.9,1168.3 L1567.7,1168.9 L1568.6,1169.5 L1569.4,1170.1 L1570.3,1170.7 L1571.1,1171.3 L1572.0,1171.8 L1572.9,1172.2 L1573.8,1172.7 L1574.7,1173.0 L1575.6,1173.3 L1576.6,1173.5 L1577.5,1173.7 L1578.5,1173.9 L1579.5,1174.1 L1580.5,1174.2 L1581.5,1174.3 L1582.5,1174.3 L1583.6,1174.2 L1584.6,1174.1 L1585.6,1173.9 L1586.6,1173.7 L1587.6,1173.6 L1588.6,1173.5 L1589.5,1173.5 L1590.4,1173.7 L1591.2,1174.2 L1592.1,1174.7 L1592.9,1175.4 L1593.7,1176.1 L1594.6,1176.8 L1595.4,1177.4 L1596.3,1177.9 L1597.2,1178.2 L1598.2,1178.5 L1599.1,1178.8 L1600.1,1179.0 L1601.1,1179.2 L1602.0,1179.5 L1603.0,1179.7 L1604.0,1179.8 L1605.0,1180.0 L1606.0,1180.2 L1607.0,1180.4 L1608.0,1180.5 L1609.0,1180.7 L1610.0,1180.8 L1611.0,1180.9 L1612.0,1181.1 L1613.0,1181.2 L1614.0,1181.3 L1615.0,1181.5 L1616.0,1181.6 L1617.0,1181.7 L1618.0,1181.8 L1619.0,1181.9 L1620.0,1181.9 L1621.0,1182.0 L1622.0,1182.1 L1623.0,1182.1 L1624.0,1182.2 L1625.0,1182.2 L1626.0,1182.3 L1627.0,1182.3 L1628.0,1182.3 L1629.0,1182.4 L1630.0,1182.4 L1631.0,1182.4 L1632.0,1182.5 L1633.0,1182.5 L1634.0,1182.5 L1635.0,1182.5"/>
<path class="s" stroke="#0000ff" d="M898.5,1182.4 L899.5,1182.3 L900.5,1182.3 L901.5,1182.2 L902.5,1182.2 L903.5,1182.1 L904.4,1182.1 L905.4,1182.1 L906.4,1182.0 L907.4,1182.0 L908.4,1182.0 L909.4,1181.9 L910.4,1181.9 L911.4,1181.9 L912.4,1181.9 L913.4,1181.9 L914.4,1181.8 L915.4,1181.8 L916.4,1181.8 L917.4,1181.8 L918.4,1181.8 L919.4,1181.8 L920.4,1181.8 L921.4,1181.8 L922.4,1181.8 L923.4,1181.8 L924.5,1181.8 L925.5,1181.8 L926.5,1181.8 L927.5,1181.8 L928.5,1181.7 L929.5,1181.7 L930.5,1181.7 L931.5,1181.7 L932.5,1181.7 L933.5,1181.7 L934.5,1181.7 L935.5,1181.7 L936.5,1181.7 L937.5,1181.6 L938.5,1181.6 L939.5,1181.6 L940.5,1181.6 L941.5,1181.5 L942.5,1181.5 L943.5,1181.5 L944.5,1181.4 L945.5,1181.4 L946.5,1181.4 L947.5,1181.3 L948.5,1181.3 L949.5,1181.2 L950.5,1181.1 L951.5,1181.1 L952.5,1181.0 L953.5,1180.9 L954.5,1180.9 L955.5,1180.8 L956.5,1180.7 L957.5,1180.6 L958.5,1180.5 L959.5,1180.4 L960.5,1180.3 L961.5,1180.2 L962.4,1180.0 L963.4,1179.9 L964.4,1179.8 L965.4,1179.6 L966.4,1179.5 L967.4,1179.3 L968.4,1179.2 L969.3,1179.0 L970.3,1178.9 L971.3,1178.7 L972.3,1178.5 L973.3,1178.4 L974.2,1178.2 L975.2,1178.0 L976.2,1177.8 L977.2,1177.6 L978.2,1177.4 L979.2,1177.3 L980.2,1177.1 L981.1,1176.9 L982.1,1176.7 L983.1,1176.5 L984.1,1176.3 L985.1,1176.1 L986.1,1175.9 L987.1,1175.7 L988.1,1175.5 L989.1,1175.3 L990.0,1175.0 L991.0,1174.8 L992.0,1174.5 L993.0,1174.2 L993.9,1173.9 L994.8,1173.6 L995.8,1173.2 L996.7,1172.8 L997.6,1172.4 L998.5,1172.0 L999.4,1171.5 L1000.3,1171.0 L1001.1,1170.5 L1002.0,1170.0 L1002.8,1169.5 L1003.6,1168.9 L1004.5,1168.4 L1005.3,1167.8 L1006.1,1167.2 L1006.8,1166.5 L1007.6,1165.9 L1008.3,1165.2 L1009.1,1164.5 L1009.8,1163.9 L1010.5,1163.1 L1011.2,1162.4 L1011.9,1161.7 L1012.5,1161.0 L1013.2,1160.2 L1013.8,1159.4 L1014.4,1158.7 L1015.0,1157.9 L1015.6,1157.1 L1016.2,1156.3 L1016.8,1155.4 L1017.3,1154.6 L1017.9,1153.8 L1018.4,1152.9 L1018.9,1152.1 L1019.4,1151.2 L1019.9,1150.3 L1020.4,1149.5 L1020.9,1148.6 L1021.4,1147.7 L1021.8,1146.8 L1022.3,1145.9 L1022.7,1145.0 L1023.2,1144.1 L1023.6,1143.2 L1024.0,1142.3 L1024.5,1141.4 L1024.9,1140.5 L1025.3,1139.6 L1025.7,1138.6 L1026.1,1137.7 L1026.5,1136.8 L1026.9,1135.9 L1027.3,1134.9 L1027.6,1134.0 L1028.0,1133.1 L1028.4,1132.2 L1028.7,1131.2 L1029.1,1130.3 L1029.5,1129.4 L1029.8,1128.4 L1030.2,1127.5 L1030.5,1126.5 L1030.9,1125.6 L1031.2,1124.7 L1031.5,1123.7 L1031.8,1122.8 L1032.2,1121.8 L1032.5,1120.9 L1032.8,1119.9 L1033.1,1119.0 L1033.4,1118.0 L1033.7,1117.1 L1034.0,1116.1 L1034.3,1115.2 L1034.6,1114.2 L1034.9,1113.3 L1035.2,1112.3 L1035.5,1111.4 L1035.8,1110.4 L1036.0,1109.4 L1036.3,1108.5 L1036.6,1107.5 L1036.9,1106.6 L1037.1,1105.6 L1037.4,1104.6 L1037.6,1103.7 L1037.9,1102.7 L1038.1,1101.7 L1038.4,1100.8 L1038.6,1099.8 L1038.9,1098.8 L1039.1,1097.9 L1039.4,1096.9 L1039.6,1095.9 L1039.8,1094.9 L1040.1,1094.0 L1040.3,1093.0 L1040.5,1092.0 L1040.8,1091.0 L1041.0,1090.1 L1041.2,1089.1 L1041.4,1088.1 L1041.6,1087.1 L1041.9,1086.2 L1042.1,1085.2 L1042.3,1084.2 L1042.5,1083.2 L1042.7,1082.3 L1042.9,1081.3 L1043.1,1080.3 L1043.3,1079.3 L1043.5,1078.3 L1043.8,1077.4 L1044.0,1076.4 L1044.2,1075.4 L1044.4,1074.4 L1044.6,1073.4 L1044.8,1072.5 L1045.0,1071.5 L1045.1,1070.5 L1045.3,1069.5 L1045.5,1068.5 L1045.7,1067.6 L1045.9,1066.6 L1046.1,1065.6 L1046.3,1064.6 L1046.5,1063.6 L1046.7,1062.6 L1046.9,1061.7 L1047.1,1060.7 L1047.2,1059.7 L1047.4,1058.7 L1047.6,1057.7 L1047.8,1056.7 L1048.0,1055.8 L1048.1,1054.8 L1048.3,1053.8 L1048.5,1052.8 L1048.7,1051.8 L1048.9,1050.8 L1049.0,1049.9 L1049.2,1048.9 L1049.4,1047.9 L1049.5,1046.9 L1049.7,1045.9 L1049.9,1044.9 L1050.1,1043.9 L1050.2,1043.0 L1050.4,1042.0 L1050.6,1041.0 L1050.7,1040.0 L1050.9,1039.0 L1051.0,1038.0 L1051.2,1037.0 L1051.4,1036.1 L1051.5,1035.1 L1051.7,1034.1 L1051.8,1033.1 L1052.0,1032.1 L1052.2,1031.1 L1052.3,1030.1 L1052.5,1029.1 L1052.6,1028.2 L1052.8,1027.2 L1052.9,1026.2 L1053.1,1025.2 L1053.2,1024.2 L1053.4,1023.2 L1053.5,1022.2 L1053.7,1021.2 L1053.8,1020.2 L1054.0,1019.3 L1054.1,1018.3 L1054.3,1017.3 L1054.4,1016.3 L1054.5,1015.3 L1054.7,1014.3 L1054.8,1013.3 L1055.0,1012.3 L1055.1,1011.3 L1055.2,1010.3 L1055.4,1009.3 L1055.5,1008.4 L1055.7,1007.4 L1055.8,1006.4 L1055.9,1005.4 L1056.1,1004.4 L1056.2,1003.4 L1056.3,1002.4 L1056.5,1001.4 L1056.6,1000.4 L1056.7,999.4 L1056.8,998.4 L1057.0,997.5 L1057.1,996.5 L1057.2,995.5 L1057.4,994.5 L1057.5,993.5 L1057.6,992.5 L1057.7,991.5 L1057.9,990.5 L1058.0,989.5 L1058.1,988.5 L1058.2,987.5 L1058.3,986.5 L1058.5,985.5 L1058.6,984.5 L1058.7,983.6 L1058.8,982.6 L1058.9,981.6 L1059.0,980.6 L1059.2,979.6 L1059.3,978.6 L1059.4,977.6 L1059.5,976.6 L1059.6,975.6 L1059.7,974.6 L1059.8,973.6 L1060.0,972.6 L1060.1,971.6 L1060.2,970.6 L1060.3,969.6 L1060.4,968.6 L1060.5,967.6 L1060.6,966.6 L1060.7,965.7 L1060.8,964.7 L1060.9,963.7 L1061.0,962.7 L1061.1,961.7 L1061.2,960.7 L1061.3,959.7 L1061.4,958.7 L1061.5,957.7 L1061.6,956.7 L1061.7,955.7 L1061.8,954.7 L1061.9,953.7 L1062.0,952.7 L1062.1,951.7 L1062.2,950.7 L1062.3,949.7 L1062.4,948.7 L1062.5,947.7 L1062.6,946.7 L1062.7,945.7 L1062.8,944.7 L1062.9,943.8 L1063.0,942.8 L1063.1,941.8 L1063.2,940.8 L1063.3,939.8 L1063.4,938.8 L1063.5,937.8 L1063.5,936.8 L1063.6,935.8 L1063.7,934.8 L1063.8,933.8 L1063.9,932.8 L1064.0,931.8 L1064.1,930.8 L1064.2,929.8 L1064.2,928.8 L1064.3,927.8 L1064.4,926.8 L1064.5,925.8 L1064.6,924.8 L1064.7,923.8 L1064.8,922.8 L1064.9,921.8 L1064.9,920.8 L1065.0,919.8 L1065.1,918.8 L1065.2,917.8 L1065.3,916.8 L1065.4,915.9 L1065.4,914.9 L1065.5,913.9 L1065.6,912.9 L1065.7,911.9 L1065.8,910.9 L1065.9,909.9 L1066.0,908.9 L1066.0,907.9 L1066.1,906.9 L1066.2,905.9 L1066.3,904.9 L1066.4,903.9 L1066.5,902.9 L1066.5,901.9 L1066.6,900.9 L1066.7,899.9 L1066.8,898.9 L1066.9,897.9 L1067.0,896.9 L1067.1,895.9 L1067.1,894.9 L1067.2,893.9 L1067.3,892.9 L1067.4,891.9 L1067.5,890.9 L1067.6,889.9 L1067.7,888.9 L1067.7,887.9 L1067.8,887.0 L1067.9,886.0 L1068.0,885.0 L1068.1,884.0 L1068.2,883.0 L1068.3,882.0 L1068.4,881.0 L1068.5,880.0 L1068.6,879.0 L1068.7,878.0 L1068.7,877.0 L1068.8,876.0 L1068.9,875.0 L1069.0,874.0 L1069.1,873.0 L1069.2,872.0 L1069.3,871.0 L1069.4,870.0 L1069.5,869.0 L1069.6,868.0 L1069.7,867.0 L1069.8,866.0 L1069.9,865.1 L1070.0,864.1 L1070.1,863.1 L1070.2,862.1 L1070.3,861.1 L1070.4,860.1 L1070.5,859.1 L1070.6,858.1 L1070.7,857.1 L1070.8,856.1 L1070.9,855.1 L1071.0,854.1 L1071.1,853.1 L1071.2,852.1 L1071.3,851.1 L1071.4,850.1 L1071.5,849.1 L1071.6,848.1 L1071.7,847.1 L1071.8,846.2 L1071.9,845.2 L1072.0,844.2 L1072.1,843.2 L1072.2,842.2 L1072.3,841.2 L1072.4,840.2 L1072.5,839.2 L1072.6,838.2 L1072.7,837.2 L1072.8,836.2 L1072.9,835.2 L1073.0,834.2 L1073.1,833.2 L1073.2,832.2 L1073.3,831.2 L1073.4,830.2 L1073.5,829.2 L1073.6,828.2 L1073.7,827.2 L1073.8,826.2 L1073.9,825.3 L1073.9,824.3 L1074.0,823.3 L1074.1,822.3 L1074.2,821.3 L1074.3,820.3 L1074.4,819.3 L1074.5,818.3 L1074.5,817.3 L1074.6,816.3 L1074.7,815.3 L1074.8,814.3 L1074.9,813.3 L1075.0,812.3 L1075.0,811.3 L1075.1,810.3 L1075.2,809.3 L1075.3,808.3 L1075.3,807.3 L1075.4,806.3 L1075.5,805.3 L1075.6,804.3 L1075.6,803.3 L1075.7,802.3 L1075.8,801.3 L1075.9,800.3 L1075.9,799.3 L1076.0,798.3 L1076.1,797.3 L1076.1,796.3 L1076.2,795.3 L1076.3,794.3 L1076.3,793.3 L1076.4,792.4 L1076.5,791.4 L1076.5,790.4 L1076.6,789.4 L1076.7,788.4 L1076.7,787.4 L1076.8,786.4 L1076.9,785.4 L1076.9,784.4 L1077.0,783.4 L1077.1,782.4 L1077.1,781.4 L1077.2,780.4 L1077.3,779.4 L1077.3,778.4 L1077.4,777.4 L1077.4,776.4 L1077.5,775.4 L1077.6,774.4 L1077.6,773.4 L1077.7,772.4 L1077.7,771.4 L1077.8,770.4 L1077.9,769.4 L1077.9,768.4 L1078.0,767.4 L1078.0,766.4 L1078.1,765.4 L1078.1,764.4 L1078.2,763.4 L1078.3,762.4 L1078.3,761.4 L1078.4,760.4 L1078.4,759.4 L1078.5,758.4 L1078.5,757.4 L1078.6,756.4 L1078.6,755.4 L1078.7,754.4 L1078.8,753.4 L1078.8,752.4 L1078.9,751.4 L1078.9,750.4 L1079.0,749.4 L1079.0,748.4 L1079.1,747.4 L1079.1,746.4 L1079.2,745.4 L1079.2,744.4 L1079.3,743.4 L1079.4,742.4 L1079.4,741.4 L1079.5,740.4 L1079.5,739.4 L1079.6,738.4 L1079.6,737.4 L1079.7,736.4 L1079.7,735.4 L1079.8,734.4 L1079.8,733.4 L1079.9,732.4 L1079.9,731.4 L1080.0,730.4 L1080.0,729.4 L1080.1,728.4 L1080.2,727.4 L1080.2,726.4 L1080.3,725.4 L1080.3,724.4 L1080.4,723.4 L1080.4,722.4 L1080.5,721.4 L1080.5,720.4 L1080.6,719.4 L1080.6,718.4 L1080.7,717.4 L1080.8,716.4 L1080.8,715.4 L1080.9,714.4 L1080.9,713.4 L1081.0,712.4 L1081.0,711.4 L1081.1,710.4 L1081.1,709.4 L1081.2,708.4 L1081.3,707.4 L1081.3,706.4 L1081.4,705.4 L1081.4,704.4 L1081.5,703.4 L1081.5,702.4 L1081.6,701.5 L1081.7,700.5 L1081.7,699.5 L1081.8,698.5 L1081.8,697.5 L1081.9,696.5 L1082.0,695.5 L1082.0,694.5 L1082.1,693.5 L1082.1,692.5 L1082.2,691.5 L1082.3,690.5 L1082.3,689.5 L1082.4,688.5 L1082.4,687.5 L1082.5,686.5 L1082.6,685.5 L1082.6,684.5 L1082.7,683.5 L1082.8,682.5 L1082.8,681.5 L1082.9,680.5 L1083.0,679.5 L1083.0,678.5 L1083.1,677.5 L1083.1,676.5 L1083.2,675.5 L1083.3,674.5 L1083.3,673.5 L1083.4,672.5 L1083.5,671.5 L1083.5,670.5 L1083.6,669.5 L1083.7,668.5 L1083.7,667.5 L1083.8,666.5 L1083.9,665.5 L1083.9,664.5 L1084.0,663.5 L1084.1,662.5 L1084.1,661.5 L1084.2,660.5 L1084.3,659.5 L1084.3,658.5 L1084.4,657.5 L1084.5,656.5 L1084.5,655.5 L1084.6,654.5 L1084.7,653.5 L1084.7,652.5 L1084.8,651.5 L1084.9,650.5 L1084.9,649.6 L1085.0,648.6 L1085.1,647.6 L1085.1,646.6 L1085.2,645.6 L1085.3,644.6 L1085.3,643.6 L1085.4,642.6 L1085.5,641.6 L1085.5,640.6 L1085.6,639.6 L1085.7,638.6 L1085.7,637.6 L1085.8,636.6 L1085.8,635.6 L1085.9,634.6 L1086.0,633.6 L1086.0,632.6 L1086.1,631.6 L1086.2,630.6 L1086.2,629.6 L1086.3,628.6 L1086.4,627.6 L1086.4,626.6 L1086.5,625.6 L1086.6,624.6 L1086.6,623.6 L1086.7,622.6 L1086.8,621.6 L1086.8,620.6 L1086.9,619.6 L1087.0,618.6 L1087.0,617.6 L1087.1,616.6 L1087.2,615.6 L1087.2,614.6 L1087.3,613.6 L1087.4,612.6 L1087.4,611.6 L1087.5,610.6 L1087.6,609.6 L1087.6,608.6 L1087.7,607.6 L1087.7,606.6 L1087.8,605.6 L1087.9,604.6 L1087.9,603.6 L1088.0,602.6 L1088.1,601.7 L1088.1,600.7 L1088.2,599.7 L1088.3,598.7 L1088.3,597.7 L1088.4,596.7 L1088.5,595.7 L1088.5,594.7 L1088.6,593.7 L1088.6,592.7 L1088.7,591.7 L1088.8,590.7 L1088.8,589.7 L1088.9,588.7 L1089.0,587.7 L1089.0,586.7 L1089.1,585.7 L1089.1,584.7 L1089.2,583.7 L1089.3,582.7 L1089.3,581.7 L1089.4,580.7 L1089.5,579.7 L1089.5,578.7 L1089.6,577.7 L1089.6,576.7 L1089.7,575.7 L1089.8,574.7 L1089.8,573.7 L1089.9,572.7 L1090.0,571.7 L1090.0,570.7 L1090.1,569.7 L1090.1,568.7 L1090.2,567.7 L1090.3,566.7 L1090.3,565.7 L1090.4,564.7 L1090.4,563.7 L1090.5,562.7 L1090.6,561.7 L1090.6,560.7 L1090.7,559.7 L1090.8,558.7 L1090.8,557.7 L1090.9,556.7 L1090.9,555.7 L1091.0,554.7 L1091.1,553.7 L1091.1,552.7 L1091.2,551.7 L1091.2,550.7 L1091.3,549.7 L1091.4,548.7 L1091.4,547.7 L1091.5,546.7 L1091.5,545.7 L1091.6,544.7 L1091.7,543.7 L1091.7,542.7 L1091.8,541.8 L1091.8,540.8 L1091.9,539.8 L1092.0,538.8 L1092.0,537.8 L1092.1,536.8 L1092.1,535.8 L1092.2,534.8 L1092.3,533.8 L1092.3,532.8 L1092.4,531.8 L1092.4,530.8 L1092.5,529.8 L1092.5,528.8 L1092.6,527.8 L1092.7,526.8 L1092.7,525.8 L1092.8,524.8 L1092.8,523.8 L1092.9,522.8 L1093.0,521.8 L1093.0,520.8 L1093.1,519.8 L1093.1,518.8 L1093.2,517.8 L1093.3,516.8 L1093.3,515.8 L1093.4,514.8 L1093.4,513.8 L1093.5,512.8 L1093.5,511.8 L1093.6,510.8 L1093.7,509.8 L1093.7,508.8 L1093.8,507.8 L1093.8,506.8 L1093.9,505.8 L1094.0,504.8 L1094.0,503.8 L1094.1,502.8 L1094.1,501.8 L1094.2,500.8 L1094.2,499.8 L1094.3,498.8 L1094.4,497.8 L1094.4,496.8 L1094.5,495.8 L1094.5,494.8 L1094.6,493.8 L1094.6,492.8 L1094.7,491.8 L1094.8,490.8 L1094.8,489.8 L1094.9,488.8 L1094.9,487.8 L1095.0,486.8 L1095.0,485.8 L1095.1,484.8 L1095.2,483.8 L1095.2,482.8 L1095.3,481.8 L1095.3,480.8 L1095.4,479.8 L1095.4,478.8 L1095.5,477.8 L1095.6,476.8 L1095.6,475.8 L1095.7,474.8 L1095.7,473.8 L1095.8,472.8 L1095.8,471.8 L1095.9,470.8 L1096.0,469.8 L1096.0,468.8 L1096.1,467.8 L1096.1,466.8 L1096.2,465.8 L1096.2,464.8 L1096.3,463.8 L1096.3,462.8 L1096.4,461.9 L1096.5,460.9 L1096.5,459.9 L1096.6,458.9 L1096.6,457.9 L1096.7,456.9 L1096.7,455.9 L1096.8,454.9 L1096.9,453.9 L1096.9,452.9 L1097.0,451.9 L1097.0,450.9 L1097.1,449.9 L1097.1,448.9 L1097.2,447.9 L1097.2,446.9 L1097.3,445.9 L1097.4,444.9 L1097.4,443.9 L1097.5,442.9 L1097.5,441.9 L1097.6,440.9 L1097.6,439.9 L1097.7,438.9 L1097.7,437.9 L1097.8,436.9 L1097.9,435.9 L1097.9,434.9 L1098.0,433.9 L1098.0,432.9 L1098.1,431.9 L1098.1,430.9 L1098.2,429.9 L1098.2,428.9 L1098.3,427.9 L1098.4,426.9 L1098.4,425.9 L1098.5,424.9 L1098.5,423.9 L1098.6,422.9 L1098.6,421.9 L1098.7,420.9 L1098.7,419.9 L1098.8,418.9 L1098.8,417.9 L1098.9,416.9 L1099.0,415.9 L1099.0,414.9 L1099.1,413.9 L1099.1,412.9 L1099.2,411.9 L1099.2,410.9 L1099.3,409.9 L1099.3,408.9 L1099.4,407.9 L1099.5,406.9 L1099.5,405.9 L1099.6,404.9 L1099.6,403.9 L1099.7,402.9 L1099.7,401.9 L1099.8,400.9 L1099.8,399.9 L1099.9,398.9 L1099.9,397.9 L1100.0,396.9 L1100.1,395.9 L1100.1,394.9 L1100.2,393.9 L1100.2,392.9 L1100.3,391.9 L1100.3,390.9 L1100.4,389.9 L1100.4,388.9 L1100.5,387.9 L1100.5,386.9 L1100.6,385.9 L1100.7,384.9 L1100.7,383.9 L1100.8,382.9 L1100.8,381.9 L1100.9,380.9 L1100.9,379.9 L1101.0,378.9 L1101.0,377.9 L1101.1,376.9 L1101.1,375.9 L1101.2,374.9 L1101.3,373.9 L1101.3,372.9 L1101.4,371.9 L1101.4,370.9 L1101.5,370.0 L1101.5,369.0 L1101.6,368.0 L1101.6,367.0 L1101.7,366.0 L1101.7,365.0 L1101.8,364.0 L1101.9,363.0 L1101.9,362.0 L1102.0,361.0 L1102.0,360.0 L1102.1,359.0 L1102.1,358.0 L1102.2,357.0 L1102.2,356.0 L1102.3,355.0 L1102.3,354.0 L1102.4,353.0 L1102.5,352.0 L1102.5,351.0 L1102.6,350.0 L1102.6,349.0 L1102.7,348.0 L1102.7,347.0 L1102.8,346.0 L1102.8,345.0 L1102.9,344.0 L1102.9,343.0 L1103.0,342.0 L1103.1,341.0 L1103.1,340.0 L1103.2,339.0 L1103.2,338.0 L1103.3,337.0 L1103.3,336.0 L1103.4,335.0 L1103.4,334.0 L1103.5,333.0 L1103.5,332.0 L1103.6,331.0 L1103.7,330.0 L1103.7,329.0 L1103.8,328.0 L1103.8,327.0 L1103.9,326.0 L1103.9,325.0 L1104.0,324.0 L1104.0,323.0 L1104.1,322.0 L1104.1,321.0 L1104.2,320.0 L1104.3,319.0 L1104.3,318.0 L1104.4,317.0 L1104.4,316.0 L1104.5,315.0 L1104.5,314.0 L1104.6,313.0 L1104.6,312.0 L1104.7,311.0 L1104.7,310.0 L1104.8,309.0 L1104.9,308.0 L1104.9,307.0 L1105.0,306.0 L1105.0,305.0 L1105.1,304.0 L1105.1,303.0 L1105.2,302.0 L1105.2,301.0 L1105.3,300.0 L1105.3,299.0 L1105.4,298.0 L1105.5,297.0 L1105.5,296.0 L1105.6,295.0 L1105.6,294.0 L1105.7,293.0 L1105.7,292.0 L1105.8,291.0 L1105.8,290.0 L1105.9,289.1 L1106.0,288.1 L1106.0,287.1 L1106.1,286.1 L1106.1,285.1 L1106.2,284.1 L1106.2,283.1 L1106.3,282.1 L1106.3,281.1 L1106.4,280.1 L1106.5,279.1 L1106.5,278.1 L1106.6,277.1 L1106.6,276.1 L1106.7,275.1 L1106.7,274.1 L1106.8,273.1 L1106.8,272.1 L1106.9,271.1 L1107.0,270.1 L1107.0,269.1 L1107.1,268.1 L1107.1,267.1 L1107.2,266.1 L1107.2,265.1 L1107.3,264.1 L1107.3,263.1 L1107.4,262.1 L1107.5,261.1 L1107.5,260.1 L1107.6,259.1 L1107.6,258.1 L1107.7,257.1 L1107.7,256.1 L1107.8,255.1 L1107.8,254.1 L1107.9,253.1 L1108.0,252.1 L1108.0,251.1 L1108.1,250.1 L1108.1,249.1 L1108.2,248.1 L1108.2,247.1 L1108.3,246.1 L1108.4,245.1 L1108.4,244.1 L1108.5,243.1 L1108.5,242.1 L1108.6,241.1 L1108.6,240.1 L1108.7,239.1 L1108.8,238.1 L1108.8,237.1 L1108.9,236.1 L1108.9,235.1 L1109.0,234.1 L1109.1,233.1 L1109.1,232.1 L1109.2,231.1 L1109.2,230.1 L1109.3,229.1 L1109.3,228.2 L1109.4,227.2 L1109.5,226.2 L1109.5,225.2 L1109.6,224.2 L1109.7,223.2 L1109.7,222.2 L1109.8,221.2 L1109.8,220.2 L1109.9,219.2 L1110.0,218.2 L1110.0,217.2 L1110.1,216.2 L1110.1,215.2 L1110.2,214.2 L1110.3,213.2 L1110.3,212.2 L1110.4,211.2 L1110.5,210.2 L1110.5,209.2 L1110.6,208.2 L1110.7,207.2 L1110.7,206.2 L1110.8,205.2 L1110.9,204.2 L1110.9,203.2 L1111.0,202.2 L1111.1,201.2 L1111.1,200.2 L1111.2,199.2 L1111.3,198.2 L1111.3,197.2 L1111.4,196.2 L1111.5,195.2 L1111.5,194.2 L1111.6,193.2 L1111.7,192.2 L1111.8,191.2 L1111.8,190.2 L1111.9,189.2 L1112.0,188.2 L1112.0,187.2 L1112.1,186.2 L1112.2,185.2 L1112.3,184.3 L1112.3,183.3 L1112.4,182.3 L1112.5,181.3 L1112.6,180.3 L1112.6,179.3 L1112.7,178.3 L1112.8,177.3 L1112.9,176.3 L1112.9,175.3 L1113.0,174.3 L1113.1,173.3 L1113.2,172.3 L1113.3,171.3 L1113.3,170.3 L1113.4,169.3 L1113.5,168.3 L1113.6,167.3 L1113.7,166.3 L1113.7,165.3 L1113.8,164.3 L1113.9,163.3 L1114.0,162.3 L1114.1,161.3 L1114.2,160.3 L1114.3,159.3 L1114.3,158.3 L1114.4,157.3 L1114.5,156.3 L1114.6,155.3 L1114.7,154.3 L1114.8,153.3 L1114.9,152.3 L1115.0,151.3 L1115.1,150.4 L1115.1,149.4 L1115.2,148.4 L1115.3,147.4 L1115.4,146.4 L1115.5,145.4 L1115.6,144.4 L1115.7,143.4 L1115.8,142.4 L1115.9,141.4 L1116.0,140.4 L1116.1,139.4 L1116.2,138.4 L1116.3,137.4 L1116.4,136.4 L1116.5,135.4 L1116.6,134.4 L1116.7,133.4 L1116.8,132.4 L1116.9,131.4 L1117.0,130.4 L1117.1,129.4 L1117.2,128.4 L1117.3,127.4 L1117.4,126.4 L1117.5,125.4 L1117.7,124.4 L1117.8,123.5 L1117.9,122.5 L1118.0,121.5 L1118.1,120.5 L1118.2,119.5 L1118.3,118.5 L1118.4,117.5 L1118.5,116.5 L1118.7,115.5 L1118.8,114.5 L1118.9,113.5 L1119.0,112.5 L1119.1,111.5 L1119.3,110.5 L1119.4,109.5 L1119.5,108.5 L1119.6,107.5 L1119.7,106.5 L1119.9,105.5 L1120.0,104.5 L1120.1,103.5 L1120.2,102.5 L1120.4,101.6 L1120.5,100.6 L1120.6,99.6 L1120.7,98.6 L1120.9,97.6 L1121.0,96.6 L1121.1,95.6 L1121.3,94.6 L1121.4,93.6 L1121.5,92.6 L1121.7,91.6 L1121.8,90.6 L1122.0,89.6 L1122.1,88.6 L1122.2,87.6 L1122.4,86.6 L1122.6,85.7 L1122.7,84.7 L1122.9,83.7 L1123.1,82.7 L1123.3,81.7 L1123.4,80.7 L1123.7,79.8 L1123.9,78.8 L1124.1,77.8 L1124.3,76.9 L1124.6,75.9 L1124.8,74.9 L1125.1,74.0 L1125.4,73.0 L1125.7,72.1 L1126.0,71.1 L1126.3,70.2 L1126.6,69.3 L1127.0,68.4 L1127.4,67.4 L1127.7,66.5 L1128.1,65.6 L1128.6,64.7 L1129.0,63.8 L1129.5,62.9 L1130.0,62.0 L1130.5,61.2 L1131.0,60.3 L1131.6,59.6 L1132.4,59.4 L1133.2,59.6 L1134.1,60.3 L1134.8,61.1 L1135.4,62.1 L1135.8,63.1 L1136.2,64.2 L1136.5,65.2 L1136.9,66.2 L1137.2,67.2 L1137.5,68.2 L1137.8,69.1 L1138.1,70.1 L1138.4,71.0 L1138.7,71.9 L1139.0,72.8 L1139.2,73.7 L1139.5,74.7 L1139.7,75.6 L1140.0,76.5 L1140.2,77.4 L1140.5,78.4 L1140.7,79.3 L1140.9,80.3 L1141.1,81.3 L1141.3,82.2 L1141.5,83.2 L1141.7,84.2 L1141.9,85.2 L1142.1,86.2 L1142.2,87.2 L1142.4,88.2 L1142.6,89.2 L1142.7,90.2 L1142.9,91.2 L1143.1,92.2 L1143.2,93.2 L1143.4,94.2 L1143.5,95.2 L1143.7,96.2 L1143.8,97.2 L1144.0,98.2 L1144.1,99.2 L1144.3,100.2 L1144.4,101.2 L1144.6,102.2 L1144.7,103.2 L1144.8,104.2 L1145.0,105.2 L1145.1,106.1 L1145.2,107.1 L1145.4,108.1 L1145.5,109.1 L1145.6,110.1 L1145.8,111.1 L1145.9,112.1 L1146.0,113.1 L1146.2,114.1 L1146.3,115.1 L1146.4,116.1 L1146.5,117.1 L1146.7,118.0 L1146.8,119.0 L1146.9,120.0 L1147.1,121.0 L1147.2,122.0 L1147.3,123.0 L1147.4,124.0 L1147.6,125.0 L1147.7,126.0 L1147.8,127.0 L1147.9,127.9 L1148.1,128.9 L1148.2,129.9 L1148.3,130.9 L1148.5,131.9 L1148.6,132.9 L1148.7,133.9 L1148.8,134.9 L1149.0,135.9 L1149.1,136.9 L1149.2,137.9 L1149.3,138.8 L1149.5,139.8 L1149.6,140.8 L1149.7,141.8 L1149.8,142.8 L1150.0,143.8 L1150.1,144.8 L1150.2,145.8 L1150.4,146.8 L1150.5,147.8 L1150.6,148.8 L1150.7,149.7 L1150.9,150.7 L1151.0,151.7 L1151.1,152.7 L1151.2,153.7 L1151.4,154.7 L1151.5,155.7 L1151.6,156.7 L1151.8,157.7 L1151.9,158.7 L1152.0,159.7 L1152.1,160.6 L1152.3,161.6 L1152.4,162.6 L1152.5,163.6 L1152.6,164.6 L1152.8,165.6 L1152.9,166.6 L1153.0,167.6 L1153.1,168.6 L1153.3,169.6 L1153.4,170.6 L1153.5,171.6 L1153.6,172.5 L1153.8,173.5 L1153.9,174.5 L1154.0,175.5 L1154.1,176.5 L1154.2,177.5 L1154.4,178.5 L1154.5,179.5 L1154.6,180.5 L1154.7,181.5 L1154.9,182.5 L1155.0,183.5 L1155.1,184.5 L1155.2,185.4 L1155.4,186.4 L1155.5,187.4 L1155.6,188.4 L1155.7,189.4 L1155.8,190.4 L1156.0,191.4 L1156.1,192.4 L1156.2,193.4 L1156.3,194.4 L1156.4,195.4 L1156.6,196.4 L1156.7,197.4 L1156.8,198.3 L1156.9,199.3 L1157.0,200.3 L1157.2,201.3 L1157.3,202.3 L1157.4,203.3 L1157.5,204.3 L1157.6,205.3 L1157.7,206.3 L1157.9,207.3 L1158.0,208.3 L1158.1,209.3 L1158.2,210.3 L1158.3,211.3 L1158.4,212.3 L1158.6,213.2 L1158.7,214.2 L1158.8,215.2 L1158.9,216.2 L1159.0,217.2 L1159.1,218.2 L1159.2,219.2 L1159.4,220.2 L1159.5,221.2 L1159.6,222.2 L1159.7,223.2 L1159.8,224.2 L1159.9,225.2 L1160.0,226.2 L1160.1,227.2 L1160.3,228.2 L1160.4,229.2 L1160.5,230.1 L1160.6,231.1 L1160.7,232.1 L1160.8,233.1 L1160.9,234.1 L1161.0,235.1 L1161.1,236.1 L1161.2,237.1 L1161.4,238.1 L1161.5,239.1 L1161.6,240.1 L1161.7,241.1 L1161.8,242.1 L1161.9,243.1 L1162.0,244.1 L1162.1,245.1 L1162.2,246.1 L1162.3,247.1 L1162.5,248.1 L1162.6,249.0 L1162.7,250.0 L1162.8,251.0 L1162.9,252.0 L1163.0,253.0 L1163.1,254.0 L1163.2,255.0 L1163.3,256.0 L1163.4,257.0 L1163.5,258.0 L1163.6,259.0 L1163.7,260.0 L1163.8,261.0 L1164.0,262.0 L1164.1,263.0 L1164.2,264.0 L1164.3,265.0 L1164.4,266.0 L1164.5,267.0 L1164.6,268.0 L1164.7,268.9 L1164.8,269.9 L1164.9,270.9 L1165.0,271.9 L1165.1,272.9 L1165.2,273.9 L1165.3,274.9 L1165.4,275.9 L1165.5,276.9 L1165.7,277.9 L1165.8,278.9 L1165.9,279.9 L1166.0,280.9 L1166.1,281.9 L1166.2,282.9 L1166.3,283.9 L1166.4,284.9 L1166.5,285.9 L1166.6,286.9 L1166.7,287.9 L1166.8,288.9 L1166.9,289.8 L1167.0,290.8 L1167.1,291.8 L1167.2,292.8 L1167.3,293.8 L1167.5,294.8 L1167.6,295.8 L1167.7,296.8 L1167.8,297.8 L1167.9,298.8 L1168.0,299.8 L1168.1,300.8 L1168.2,301.8 L1168.3,302.8 L1168.4,303.8 L1168.5,304.8 L1168.6,305.8 L1168.7,306.8 L1168.8,307.8 L1168.9,308.8 L1169.0,309.8 L1169.1,310.8 L1169.3,311.7 L1169.4,312.7 L1169.5,313.7 L1169.6,314.7 L1169.7,315.7 L1169.8,316.7 L1169.9,317.7 L1170.0,318.7 L1170.1,319.7 L1170.2,320.7 L1170.3,321.7 L1170.4,322.7 L1170.5,323.7 L1170.6,324.7 L1170.8,325.7 L1170.9,326.7 L1171.0,327.7 L1171.1,328.7 L1171.2,329.7 L1171.3,330.7 L1171.4,331.6 L1171.5,332.6 L1171.6,333.6 L1171.7,334.6 L1171.8,335.6 L1171.9,336.6 L1172.1,337.6 L1172.2,338.6 L1172.3,339.6 L1172.4,340.6 L1172.5,341.6 L1172.6,342.6 L1172.7,343.6 L1172.8,344.6 L1172.9,345.6 L1173.0,346.6 L1173.2,347.6 L1173.3,348.6 L1173.4,349.6 L1173.5,350.5 L1173.6,351.5 L1173.7,352.5 L1173.8,353.5 L1173.9,354.5 L1174.1,355.5 L1174.2,356.5 L1174.3,357.5 L1174.4,358.5 L1174.5,359.5 L1174.6,360.5 L1174.7,361.5 L1174.8,362.5 L1175.0,363.5 L1175.1,364.5 L1175.2,365.5 L1175.3,366.5 L1175.4,367.4 L1175.5,368.4 L1175.7,369.4 L1175.8,370.4 L1175.9,371.4 L1176.0,372.4 L1176.1,373.4 L1176.2,374.4 L1176.4,375.4 L1176.5,376.4 L1176.6,377.4 L1176.7,378.4 L1176.8,379.4 L1176.9,380.4 L1177.1,381.4 L1177.2,382.3 L1177.3,383.3 L1177.4,384.3 L1177.5,385.3 L1177.7,386.3 L1177.8,387.3 L1177.9,388.3 L1178.0,389.3 L1178.2,390.3 L1178.3,391.3 L1178.4,392.3 L1178.5,393.3 L1178.6,394.3 L1178.8,395.3 L1178.9,396.2 L1179.0,397.2 L1179.1,398.2 L1179.3,399.2 L1179.4,400.2 L1179.5,401.2 L1179.6,402.2 L1179.8,403.2 L1179.9,404.2 L1180.0,405.2 L1180.2,406.2 L1180.3,407.2 L1180.4,408.1 L1180.5,409.1 L1180.7,410.1 L1180.8,411.1 L1180.9,412.1 L1181.1,413.1 L1181.2,414.1 L1181.3,415.1 L1181.5,416.1 L1181.6,417.1 L1181.7,418.1 L1181.9,419.0 L1182.0,420.0 L1182.1,421.0 L1182.3,422.0 L1182.4,423.0 L1182.5,424.0 L1182.7,425.0 L1182.8,426.0 L1182.9,427.0 L1183.1,428.0 L1183.2,428.9 L1183.3,429.9 L1183.5,430.9 L1183.6,431.9 L1183.8,432.9 L1183.9,433.9 L1184.0,434.9 L1184.2,435.9 L1184.3,436.9 L1184.5,437.9 L1184.6,438.8 L1184.7,439.8 L1184.9,440.8 L1185.0,441.8 L1185.2,442.8 L1185.3,443.8 L1185.5,444.8 L1185.6,445.8 L1185.8,446.8 L1185.9,447.7 L1186.1,448.7 L1186.2,449.7 L1186.3,450.7 L1186.5,451.7 L1186.6,452.7 L1186.8,453.7 L1186.9,454.7 L1187.1,455.6 L1187.2,456.6 L1187.4,457.6 L1187.6,458.6 L1187.7,459.6 L1187.9,460.6 L1188.0,461.6 L1188.2,462.6 L1188.3,463.5 L1188.5,464.5 L1188.6,465.5 L1188.8,466.5 L1188.9,467.5 L1189.1,468.5 L1189.3,469.5 L1189.4,470.5 L1189.6,471.4 L1189.7,472.4 L1189.9,473.4 L1190.1,474.4 L1190.2,475.4 L1190.4,476.4 L1190.6,477.4 L1190.7,478.3 L1190.9,479.3 L1191.1,480.3 L1191.2,481.3 L1191.4,482.3 L1191.6,483.3 L1191.7,484.2 L1191.9,485.2 L1192.1,486.2 L1192.2,487.2 L1192.4,488.2 L1192.6,489.2 L1192.7,490.2 L1192.9,491.1 L1193.1,492.1 L1193.3,493.1 L1193.4,494.1 L1193.6,495.1 L1193.8,496.1 L1194.0,497.0 L1194.1,498.0 L1194.3,499.0 L1194.5,500.0 L1194.7,501.0 L1194.8,502.0 L1195.0,502.9 L1195.2,503.9 L1195.4,504.9 L1195.6,505.9 L1195.7,506.9 L1195.9,507.9 L1196.1,508.8 L1196.3,509.8 L1196.5,510.8 L1196.6,511.8 L1196.8,512.8 L1197.0,513.8 L1197.2,514.7 L1197.4,515.7 L1197.6,516.7 L1197.7,517.7 L1197.9,518.7 L1198.1,519.7 L1198.3,520.6 L1198.5,521.6 L1198.7,522.6 L1198.8,523.6 L1199.0,524.6 L1199.2,525.6 L1199.4,526.5 L1199.6,527.5 L1199.8,528.5 L1200.0,529.5 L1200.2,530.5 L1200.3,531.5 L1200.5,532.4 L1200.7,533.4 L1200.9,534.4 L1201.1,535.4 L1201.3,536.4 L1201.5,537.4 L1201.7,538.4 L1201.8,539.3 L1202.0,540.3 L1202.2,541.3 L1202.4,542.3 L1202.6,543.3 L1202.8,544.3 L1203.0,545.3 L1203.2,546.2 L1203.4,547.2 L1203.5,548.2 L1203.7,549.2 L1203.9,550.2 L1204.1,551.2 L1204.3,552.2 L1204.5,553.1 L1204.7,554.1 L1204.9,555.1 L1205.1,556.1 L1205.3,557.1 L1205.4,558.1 L1205.6,559.1 L1205.8,560.1 L1206.0,561.0 L1206.2,562.0 L1206.4,563.0 L1206.6,564.0 L1206.8,565.0 L1207.0,566.0 L1207.2,567.0 L1207.4,567.9 L1207.6,568.9 L1207.8,569.9 L1208.0,570.9 L1208.3,571.9 L1208.5,572.9 L1208.7,573.8 L1208.9,574.8 L1209.2,575.8 L1209.4,576.7 L1209.6,577.7 L1209.9,578.7 L1210.1,579.7 L1210.4,580.6 L1210.7,581.6 L1210.9,582.5 L1211.2,583.5 L1211.5,584.4 L1211.8,585.4 L1212.1,586.3 L1212.4,587.3 L1212.7,588.2 L1213.1,589.2 L1213.4,590.1 L1213.7,591.0 L1214.1,592.0 L1214.4,592.9 L1214.8,593.8 L1215.2,594.7 L1215.6,595.6 L1216.0,596.6 L1216.4,597.5 L1216.8,598.4 L1217.2,599.3 L1217.7,600.2 L1218.1,601.0 L1218.6,601.9 L1219.1,602.8 L1219.6,603.7 L1220.1,604.6 L1220.6,605.4 L1221.1,606.3 L1221.6,607.1 L1222.2,608.0 L1222.8,608.8 L1223.4,609.6 L1224.0,610.4 L1224.6,611.2 L1225.2,612.0 L1225.9,612.7 L1226.6,613.4 L1227.3,614.1 L1228.0,614.7 L1228.8,615.4 L1229.5,615.9 L1230.4,616.4 L1231.2,616.9 L1232.1,617.4 L1233.0,617.7 L1233.9,618.1 L1234.8,618.4 L1235.8,618.6 L1236.8,618.8 L1237.8,619.0 L1238.8,619.2 L1239.8,619.4 L1240.9,619.5 L1241.9,619.7 L1242.9,619.8 L1244.0,620.0 L1245.0,620.1 L1246.0,620.3 L1247.0,620.5 L1248.0,620.8 L1249.0,621.0 L1249.9,621.3 L1250.9,621.7 L1251.8,622.0 L1252.7,622.4 L1253.6,622.8 L1254.4,623.3 L1255.3,623.7 L1256.1,624.2 L1256.9,624.7 L1257.8,625.3 L1258.5,625.8 L1259.3,626.4 L1260.1,627.0 L1260.8,627.7 L1261.6,628.3 L1262.3,629.0 L1263.0,629.7 L1263.7,630.4 L1264.4,631.1 L1265.0,631.8 L1265.7,632.6 L1266.3,633.4 L1267.0,634.1 L1267.6,634.9 L1268.2,635.7 L1268.8,636.6 L1269.4,637.4 L1269.9,638.2 L1270.5,639.1 L1271.0,639.9 L1271.6,640.8 L1272.1,641.7 L1272.6,642.6 L1273.1,643.4 L1273.6,644.3 L1274.1,645.2 L1274.6,646.1 L1275.1,647.0 L1275.6,647.9 L1276.0,648.8 L1276.5,649.7 L1276.9,650.6 L1277.3,651.6 L1277.8,652.5 L1278.2,653.4 L1278.6,654.3 L1279.0,655.2 L1279.4,656.1 L1279.8,657.1 L1280.2,658.0 L1280.5,658.9 L1280.9,659.8 L1281.3,660.8 L1281.6,661.7 L1282.0,662.6 L1282.3,663.5 L1282.7,664.5 L1283.0,665.4 L1283.3,666.3 L1283.7,667.3 L1284.0,668.2 L1284.3,669.2 L1284.6,670.1 L1284.9,671.0 L1285.2,672.0 L1285.5,672.9 L1285.8,673.9 L1286.1,674.8 L1286.4,675.8 L1286.7,676.7 L1287.0,677.7 L1287.3,678.6 L1287.6,679.6 L1287.8,680.5 L1288.1,681.5 L1288.4,682.5 L1288.7,683.4 L1288.9,684.4 L1289.2,685.3 L1289.5,686.3 L1289.7,687.2 L1290.0,688.2 L1290.3,689.2 L1290.5,690.1 L1290.8,691.1 L1291.0,692.1 L1291.3,693.0 L1291.5,694.0 L1291.8,695.0 L1292.0,695.9 L1292.3,696.9 L1292.5,697.9 L1292.8,698.8 L1293.0,699.8 L1293.3,700.8 L1293.5,701.8 L1293.7,702.7 L1294.0,703.7 L1294.2,704.7 L1294.4,705.6 L1294.7,706.6 L1294.9,707.6 L1295.1,708.6 L1295.4,709.5 L1295.6,710.5 L1295.8,711.5 L1296.1,712.5 L1296.3,713.4 L1296.5,714.4 L1296.8,715.4 L1297.0,716.4 L1297.2,717.4 L1297.4,718.3 L1297.7,719.3 L1297.9,720.3 L1298.1,721.3 L1298.3,722.2 L1298.6,723.2 L1298.8,724.2 L1299.0,725.2 L1299.2,726.1 L1299.5,727.1 L1299.7,728.1 L1299.9,729.1 L1300.1,730.1 L1300.4,731.0 L1300.6,732.0 L1300.8,733.0 L1301.1,734.0 L1301.3,734.9 L1301.5,735.9 L1301.7,736.9 L1302.0,737.9 L1302.2,738.9 L1302.4,739.8 L1302.7,740.8 L1302.9,741.8 L1303.1,742.8 L1303.3,743.7 L1303.6,744.7 L1303.8,745.7 L1304.0,746.6 L1304.3,747.6 L1304.5,748.6 L1304.7,749.6 L1305.0,750.5 L1305.2,751.5 L1305.4,752.5 L1305.7,753.5 L1305.9,754.4 L1306.1,755.4 L1306.4,756.4 L1306.6,757.4 L1306.9,758.3 L1307.1,759.3 L1307.3,760.3 L1307.6,761.2 L1307.8,762.2 L1308.0,763.2 L1308.3,764.2 L1308.5,765.1 L1308.7,766.1 L1309.0,767.1 L1309.2,768.0 L1309.5,769.0 L1309.7,770.0 L1309.9,771.0 L1310.2,771.9 L1310.4,772.9 L1310.6,773.9 L1310.9,774.8 L1311.1,775.8 L1311.3,776.8 L1311.6,777.7 L1311.8,778.7 L1312.0,779.7 L1312.3,780.7 L1312.5,781.6 L1312.7,782.6 L1313.0,783.6 L1313.2,784.5 L1313.4,785.5 L1313.7,786.5 L1313.9,787.5 L1314.1,788.4 L1314.4,789.4 L1314.6,790.4 L1314.8,791.4 L1315.0,792.3 L1315.3,793.3 L1315.5,794.3 L1315.7,795.2 L1316.0,796.2 L1316.2,797.2 L1316.4,798.2 L1316.6,799.1 L1316.9,800.1 L1317.1,801.1 L1317.3,802.1 L1317.5,803.0 L1317.7,804.0 L1318.0,805.0 L1318.2,806.0 L1318.4,806.9 L1318.6,807.9 L1318.9,808.9 L1319.1,809.9 L1319.3,810.8 L1319.5,811.8 L1319.7,812.8 L1320.0,813.7 L1320.2,814.7 L1320.4,815.7 L1320.6,816.7 L1320.9,817.6 L1321.1,818.6 L1321.3,819.6 L1321.5,820.6 L1321.7,821.5 L1322.0,822.5 L1322.2,823.5 L1322.4,824.5 L1322.6,825.4 L1322.8,826.4 L1323.1,827.4 L1323.3,828.4 L1323.5,829.3 L1323.7,830.3 L1323.9,831.3 L1324.2,832.3 L1324.4,833.2 L1324.6,834.2 L1324.8,835.2 L1325.1,836.2 L1325.3,837.1 L1325.5,838.1 L1325.7,839.1 L1326.0,840.1 L1326.2,841.0 L1326.4,842.0 L1326.6,843.0 L1326.9,844.0 L1327.1,844.9 L1327.3,845.9 L1327.6,846.9 L1327.8,847.8 L1328.0,848.8 L1328.2,849.8 L1328.5,850.8 L1328.7,851.7 L1328.9,852.7 L1329.2,853.7 L1329.4,854.7 L1329.6,855.6 L1329.9,856.6 L1330.1,857.6 L1330.4,858.5 L1330.6,859.5 L1330.8,860.5 L1331.1,861.5 L1331.3,862.4 L1331.6,863.4 L1331.8,864.4 L1332.0,865.3 L1332.3,866.3 L1332.5,867.3 L1332.8,868.2 L1333.0,869.2 L1333.3,870.2 L1333.5,871.1 L1333.8,872.1 L1334.0,873.1 L1334.3,874.1 L1334.5,875.0 L1334.8,876.0 L1335.0,877.0 L1335.3,877.9 L1335.6,878.9 L1335.8,879.9 L1336.1,880.8 L1336.3,881.8 L1336.6,882.8 L1336.9,883.7 L1337.1,884.7 L1337.4,885.6 L1337.7,886.6 L1338.0,887.6 L1338.2,888.5 L1338.5,889.5 L1338.8,890.5 L1339.1,891.4 L1339.3,892.4 L1339.6,893.3 L1339.9,894.3 L1340.2,895.3 L1340.5,896.2 L1340.7,897.2 L1341.0,898.1 L1341.3,899.1 L1341.6,900.1 L1341.9,901.0 L1342.2,902.0 L1342.5,902.9 L1342.8,903.9 L1343.1,904.9 L1343.4,905.8 L1343.7,906.8 L1344.0,907.7 L1344.3,908.7 L1344.6,909.6 L1344.9,910.6 L1345.2,911.5 L1345.5,912.5 L1345.8,913.4 L1346.1,914.4 L1346.4,915.3 L1346.8,916.3 L1347.1,917.2 L1347.4,918.2 L1347.7,919.1 L1348.0,920.1 L1348.4,921.0 L1348.7,922.0 L1349.0,922.9 L1349.3,923.9 L1349.7,924.8 L1350.0,925.8 L1350.3,926.7 L1350.7,927.7 L1351.0,928.6 L1351.3,929.5 L1351.7,930.5 L1352.0,931.4 L1352.4,932.4 L1352.7,933.3 L1353.1,934.2 L1353.4,935.2 L1353.8,936.1 L1354.1,937.1 L1354.5,938.0 L1354.8,938.9 L1355.2,939.9 L1355.5,940.8 L1355.9,941.7 L1356.3,942.7 L1356.6,943.6 L1357.0,944.5 L1357.4,945.5 L1357.7,946.4 L1358.1,947.3 L1358.5,948.3 L1358.8,949.2 L1359.2,950.1 L1359.6,951.0 L1360.0,952.0 L1360.4,952.9 L1360.7,953.8 L1361.1,954.7 L1361.5,955.6 L1361.9,956.6 L1362.3,957.5 L1362.7,958.4 L1363.1,959.3 L1363.5,960.2 L1363.9,961.2 L1364.3,962.1 L1364.7,963.0 L1365.1,963.9 L1365.5,964.8 L1365.9,965.7 L1366.3,966.6 L1366.7,967.6 L1367.1,968.5 L1367.6,969.4 L1368.0,970.3 L1368.4,971.2 L1368.8,972.1 L1369.3,973.0 L1369.7,973.9 L1370.1,974.8 L1370.5,975.7 L1371.0,976.6 L1371.4,977.5 L1371.8,978.4 L1372.3,979.3 L1372.7,980.2 L1373.2,981.1 L1373.6,982.0 L1374.1,982.9 L1374.5,983.8 L1375.0,984.7 L1375.4,985.6 L1375.9,986.4 L1376.3,987.3 L1376.8,988.2 L1377.2,989.1 L1377.7,990.0 L1378.2,990.9 L1378.6,991.8 L1379.1,992.6 L1379.6,993.5 L1380.1,994.4 L1380.5,995.3 L1381.0,996.2 L1381.5,997.0 L1382.0,997.9 L1382.5,998.8 L1382.9,999.7 L1383.4,1000.5 L1383.9,1001.4 L1384.4,1002.3 L1384.9,1003.1 L1385.4,1004.0 L1385.9,1004.9 L1386.4,1005.7 L1386.9,1006.6 L1387.4,1007.4 L1387.9,1008.3 L1388.5,1009.2 L1389.0,1010.0 L1389.5,1010.9 L1390.0,1011.7 L1390.5,1012.6 L1391.1,1013.4 L1391.6,1014.3 L1392.1,1015.1 L1392.8,1015.9 L1393.4,1016.7 L1394.1,1017.5 L1394.7,1018.3 L1395.3,1019.1 L1395.9,1019.8 L1396.6,1020.6 L1397.2,1021.4 L1397.9,1022.1 L1398.5,1022.9 L1399.2,1023.7 L1399.9,1024.4 L1400.5,1025.2 L1401.2,1025.9 L1401.9,1026.6 L1402.6,1027.4 L1403.3,1028.1 L1403.9,1028.8 L1404.6,1029.5 L1405.3,1030.2 L1406.0,1030.9 L1406.8,1031.6 L1407.5,1032.3 L1408.2,1033.0 L1408.9,1033.7 L1409.7,1034.4 L1410.4,1035.1 L1411.1,1035.7 L1411.9,1036.4 L1412.6,1037.1 L1413.4,1037.7 L1414.2,1038.4 L1414.9,1039.0 L1415.7,1039.7 L1416.5,1040.3 L1417.2,1041.0 L1418.0,1041.6 L1418.8,1042.3 L1419.5,1042.9 L1420.3,1043.5 L1421.1,1044.2 L1421.9,1044.8 L1422.7,1045.4 L1423.5,1046.0 L1424.3,1046.6 L1425.1,1047.2 L1425.9,1047.8 L1426.7,1048.4 L1427.5,1049.0 L1428.3,1049.6 L1429.1,1050.2 L1429.9,1050.8 L1430.7,1051.4 L1431.5,1052.0 L1432.3,1052.6 L1433.1,1053.2 L1433.9,1053.8 L1434.7,1054.4 L1435.5,1055.0 L1436.3,1055.6 L1437.2,1056.2 L1438.0,1056.7 L1438.8,1057.3 L1439.6,1057.9 L1440.4,1058.5 L1441.3,1059.1 L1442.1,1059.7 L1442.9,1060.3 L1443.7,1060.9 L1444.5,1061.5 L1445.3,1062.1 L1446.1,1062.7 L1446.9,1063.3 L1447.6,1063.9 L1448.4,1064.6 L1449.1,1065.2 L1449.9,1065.9 L1450.6,1066.5 L1451.3,1067.2 L1452.0,1067.9 L1452.7,1068.7 L1453.4,1069.4 L1454.1,1070.1 L1454.8,1070.9 L1455.5,1071.6 L1456.1,1072.3 L1456.8,1073.1 L1457.5,1073.8 L1458.1,1074.6 L1458.8,1075.3 L1459.5,1076.1 L1460.2,1076.8 L1460.9,1077.6 L1461.6,1078.3 L1462.3,1079.0 L1463.0,1079.7 L1463.6,1080.5 L1464.3,1081.2 L1465.0,1081.9 L1465.7,1082.7 L1466.4,1083.4 L1467.1,1084.1 L1467.8,1084.9 L1468.5,1085.6 L1469.2,1086.3 L1469.9,1087.0 L1470.6,1087.8 L1471.3,1088.5 L1472.0,1089.2 L1472.7,1089.9 L1473.4,1090.6 L1474.1,1091.3 L1474.8,1092.0 L1475.6,1092.7 L1476.3,1093.4 L1477.0,1094.0 L1477.8,1094.7 L1478.5,1095.3 L1479.3,1096.0 L1480.1,1096.6 L1480.8,1097.2 L1481.6,1097.8 L1482.4,1098.4 L1483.2,1099.0 L1484.1,1099.6 L1484.9,1100.1 L1485.7,1100.7 L1486.5,1101.3 L1487.4,1101.9 L1488.2,1102.4 L1489.0,1103.0 L1489.9,1103.5 L1490.7,1104.1 L1491.5,1104.7 L1492.4,1105.2 L1493.2,1105.8 L1494.0,1106.3 L1494.9,1106.9 L1495.7,1107.5 L1496.5,1108.1 L1497.3,1108.8 L1498.1,1109.5 L1498.9,1110.3 L1499.6,1111.0 L1500.4,1111.8 L1501.2,1112.5 L1502.0,1113.1 L1502.8,1113.8 L1503.6,1114.3 L1504.5,1114.7 L1505.3,1115.1 L1506.2,1115.3 L1507.2,1115.4 L1508.1,1115.5 L1509.1,1115.6 L1510.2,1115.6 L1511.2,1115.6 L1512.2,1115.5 L1513.2,1115.3 L1514.1,1115.0 L1515.1,1114.8 L1516.1,1114.6 L1517.1,1114.6 L1518.1,1114.8 L1519.1,1115.0 L1520.0,1115.3 L1521.0,1115.6 L1521.9,1116.0 L1522.8,1116.3 L1523.7,1116.7 L1524.6,1117.2 L1525.5,1117.7 L1526.4,1118.3 L1527.2,1118.8 L1528.0,1119.4 L1528.9,1120.0 L1529.7,1120.7 L1530.4,1121.3 L1531.2,1121.9 L1532.0,1122.6 L1532.7,1123.2 L1533.4,1123.9 L1534.1,1124.6 L1534.8,1125.3 L1535.5,1126.1 L1536.2,1126.8 L1536.9,1127.6 L1537.5,1128.4 L1538.2,1129.2 L1538.8,1130.0 L1539.4,1130.7 L1540.0,1131.5 L1540.5,1132.3 L1541.1,1133.2 L1541.7,1134.0 L1542.2,1134.8 L1542.7,1135.7 L1543.2,1136.6 L1543.7,1137.4 L1544.2,1138.3 L1544.7,1139.2 L1545.2,1140.0 L1545.8,1140.9 L1546.3,1141.8 L1546.8,1142.7 L1547.3,1143.5 L1547.8,1144.4 L1548.3,1145.2 L1548.9,1146.1 L1549.4,1147.0 L1549.9,1147.8 L1550.4,1148.7 L1550.9,1149.6 L1551.4,1150.5 L1551.9,1151.3 L1552.4,1152.2 L1553.0,1153.1 L1553.5,1153.9 L1554.1,1154.7 L1554.6,1155.5 L1555.2,1156.3 L1555.9,1157.1 L1556.5,1157.8 L1557.2,1158.5 L1557.8,1159.3 L1558.5,1160.0 L1559.3,1160.7 L1560.0,1161.4 L1560.8,1162.0 L1561.5,1162.7 L1562.3,1163.4 L1563.1,1164.0 L1563.9,1164.6 L1564.7,1165.3 L1565.4,1165.9 L1566.2,1166.5 L1567.0,1167.2 L1567.8,1167.8 L1568.6,1168.5 L1569.4,1169.2 L1570.3,1169.8 L1571.1,1170.4 L1571.9,1171.0 L1572.8,1171.5 L1573.7,1171.9 L1574.5,1172.3 L1575.5,1172.5 L1576.4,1172.7 L1577.4,1172.9 L1578.4,1173.0 L1579.4,1173.1 L1580.4,1173.2 L1581.4,1173.3 L1582.4,1173.3 L1583.4,1173.1 L1584.4,1172.8 L1585.3,1172.4 L1586.3,1172.0 L1587.3,1171.6 L1588.2,1171.3 L1589.1,1171.2 L1590.1,1171.3 L1591.0,1171.6 L1591.8,1172.1 L1592.7,1172.7 L1593.6,1173.4 L1594.5,1174.0 L1595.3,1174.5 L1596.3,1174.9 L1597.2,1175.1 L1598.2,1175.3 L1599.1,1175.5 L1600.1,1175.6 L1601.1,1175.8 L1602.1,1175.9 L1603.1,1176.0 L1604.1,1176.1 L1605.1,1176.2 L1606.1,1176.3 L1607.1,1176.5 L1608.1,1176.6 L1609.1,1176.8 L1610.1,1177.0 L1611.1,1177.2 L1612.1,1177.5 L1613.1,1177.7 L1614.0,1178.0 L1615.0,1178.2 L1616.0,1178.5 L1617.0,1178.7 L1618.0,1178.8 L1619.0,1179.0 L1619.9,1179.1 L1620.9,1179.1 L1621.9,1179.1 L1622.9,1179.1 L1623.9,1179.1 L1624.9,1179.1 L1626.0,1179.1 L1627.0,1179.1 L1628.0,1179.1 L1629.0,1179.1 L1630.0,1179.1 L1630.9,1179.1 L1631.9,1179.2 L1632.9,1179.5 L1633.8,1179.8 L1634.8,1180.3 L1635.7,1180.7"/>
<path class="s" stroke="#ff0000" d="M898.5,1182.5 L899.5,1182.5 L900.5,1182.4 L901.5,1182.4 L902.5,1182.4 L903.5,1182.4 L904.5,1182.4 L905.5,1182.3 L906.5,1182.3 L907.6,1182.3 L908.6,1182.3 L909.6,1182.3 L910.6,1182.3 L911.6,1182.3 L912.6,1182.3 L913.6,1182.3 L914.6,1182.3 L915.6,1182.3 L916.6,1182.3 L917.6,1182.3 L918.6,1182.3 L919.5,1182.3 L920.5,1182.3 L921.5,1182.3 L922.5,1182.3 L923.5,1182.3 L924.5,1182.3 L925.5,1182.3 L926.5,1182.3 L927.5,1182.3 L928.5,1182.3 L929.5,1182.3 L930.5,1182.3 L931.5,1182.3 L932.5,1182.3 L933.5,1182.3 L934.5,1182.3 L935.5,1182.3 L936.5,1182.3 L937.5,1182.3 L938.5,1182.3 L939.5,1182.3 L940.5,1182.3 L941.5,1182.3 L942.5,1182.3 L943.5,1182.3 L944.4,1182.3 L945.4,1182.2 L946.4,1182.2 L947.4,1182.2 L948.4,1182.2 L949.4,1182.2 L950.4,1182.2 L951.4,1182.1 L952.4,1182.1 L953.4,1182.1 L954.4,1182.0 L955.4,1182.0 L956.4,1182.0 L957.4,1181.9 L958.5,1181.9 L959.5,1181.8 L960.5,1181.8 L961.5,1181.7 L962.5,1181.7 L963.5,1181.6 L964.5,1181.5 L965.5,1181.5 L966.5,1181.4 L967.5,1181.3 L968.5,1181.3 L969.5,1181.2 L970.5,1181.1 L971.5,1181.0 L972.5,1180.9 L973.5,1180.8 L974.5,1180.7 L975.5,1180.6 L976.5,1180.5 L977.5,1180.4 L978.5,1180.3 L979.5,1180.1 L980.5,1180.0 L981.5,1179.9 L982.5,1179.7 L983.5,1179.6 L984.4,1179.4 L985.4,1179.3 L986.4,1179.1 L987.4,1179.0 L988.3,1178.8 L989.3,1178.6 L990.2,1178.4 L991.2,1178.2 L992.2,1178.0 L993.1,1177.8 L994.1,1177.5 L995.0,1177.2 L995.9,1176.9 L996.9,1176.6 L997.8,1176.3 L998.7,1175.9 L999.7,1175.5 L1000.6,1175.1 L1001.5,1174.6 L1002.4,1174.2 L1003.3,1173.7 L1004.2,1173.1 L1005.1,1172.6 L1006.0,1172.0 L1006.8,1171.4 L1007.7,1170.8 L1008.5,1170.2 L1009.3,1169.6 L1010.1,1168.9 L1010.8,1168.3 L1011.6,1167.6 L1012.3,1166.9 L1013.1,1166.2 L1013.8,1165.5 L1014.4,1164.8 L1015.1,1164.1 L1015.8,1163.3 L1016.4,1162.6 L1017.1,1161.8 L1017.7,1161.0 L1018.3,1160.3 L1018.9,1159.5 L1019.4,1158.7 L1020.0,1157.9 L1020.6,1157.0 L1021.1,1156.2 L1021.6,1155.4 L1022.1,1154.5 L1022.7,1153.7 L1023.1,1152.8 L1023.6,1152.0 L1024.1,1151.1 L1024.6,1150.2 L1025.0,1149.4 L1025.5,1148.5 L1025.9,1147.6 L1026.3,1146.7 L1026.7,1145.8 L1027.2,1144.9 L1027.6,1143.9 L1028.0,1143.0 L1028.3,1142.1 L1028.7,1141.2 L1029.1,1140.2 L1029.5,1139.3 L1029.8,1138.4 L1030.2,1137.4 L1030.5,1136.5 L1030.9,1135.6 L1031.2,1134.6 L1031.6,1133.7 L1031.9,1132.7 L1032.2,1131.8 L1032.6,1130.8 L1032.9,1129.9 L1033.2,1128.9 L1033.5,1128.0 L1033.8,1127.0 L1034.1,1126.0 L1034.5,1125.1 L1034.8,1124.1 L1035.1,1123.2 L1035.4,1122.2 L1035.7,1121.3 L1035.9,1120.3 L1036.2,1119.3 L1036.5,1118.4 L1036.8,1117.4 L1037.1,1116.5 L1037.4,1115.5 L1037.6,1114.5 L1037.9,1113.6 L1038.2,1112.6 L1038.4,1111.6 L1038.7,1110.7 L1039.0,1109.7 L1039.2,1108.7 L1039.5,1107.8 L1039.7,1106.8 L1040.0,1105.8 L1040.2,1104.9 L1040.5,1103.9 L1040.7,1102.9 L1041.0,1102.0 L1041.2,1101.0 L1041.5,1100.0 L1041.7,1099.1 L1041.9,1098.1 L1042.1,1097.1 L1042.4,1096.1 L1042.6,1095.2 L1042.8,1094.2 L1043.1,1093.2 L1043.3,1092.2 L1043.5,1091.3 L1043.7,1090.3 L1043.9,1089.3 L1044.1,1088.3 L1044.3,1087.4 L1044.6,1086.4 L1044.8,1085.4 L1045.0,1084.4 L1045.2,1083.4 L1045.4,1082.5 L1045.6,1081.5 L1045.8,1080.5 L1046.0,1079.5 L1046.2,1078.5 L1046.4,1077.6 L1046.5,1076.6 L1046.7,1075.6 L1046.9,1074.6 L1047.1,1073.6 L1047.3,1072.7 L1047.5,1071.7 L1047.7,1070.7 L1047.9,1069.7 L1048.0,1068.7 L1048.2,1067.7 L1048.4,1066.8 L1048.6,1065.8 L1048.7,1064.8 L1048.9,1063.8 L1049.1,1062.8 L1049.3,1061.8 L1049.4,1060.9 L1049.6,1059.9 L1049.8,1058.9 L1050.0,1057.9 L1050.1,1056.9 L1050.3,1055.9 L1050.5,1054.9 L1050.6,1054.0 L1050.8,1053.0 L1051.0,1052.0 L1051.1,1051.0 L1051.3,1050.0 L1051.5,1049.0 L1051.6,1048.0 L1051.8,1047.1 L1051.9,1046.1 L1052.1,1045.1 L1052.3,1044.1 L1052.4,1043.1 L1052.6,1042.1 L1052.7,1041.1 L1052.9,1040.1 L1053.0,1039.2 L1053.2,1038.2 L1053.3,1037.2 L1053.5,1036.2 L1053.6,1035.2 L1053.8,1034.2 L1053.9,1033.2 L1054.1,1032.2 L1054.2,1031.2 L1054.4,1030.3 L1054.5,1029.3 L1054.7,1028.3 L1054.8,1027.3 L1055.0,1026.3 L1055.1,1025.3 L1055.2,1024.3 L1055.4,1023.3 L1055.5,1022.3 L1055.7,1021.4 L1055.8,1020.4 L1055.9,1019.4 L1056.1,1018.4 L1056.2,1017.4 L1056.4,1016.4 L1056.5,1015.4 L1056.6,1014.4 L1056.8,1013.4 L1056.9,1012.4 L1057.0,1011.4 L1057.2,1010.5 L1057.3,1009.5 L1057.4,1008.5 L1057.5,1007.5 L1057.7,1006.5 L1057.8,1005.5 L1057.9,1004.5 L1058.1,1003.5 L1058.2,1002.5 L1058.3,1001.5 L1058.4,1000.5 L1058.6,999.5 L1058.7,998.6 L1058.8,997.6 L1058.9,996.6 L1059.0,995.6 L1059.2,994.6 L1059.3,993.6 L1059.4,992.6 L1059.5,991.6 L1059.6,990.6 L1059.8,989.6 L1059.9,988.6 L1060.0,987.6 L1060.1,986.6 L1060.2,985.6 L1060.3,984.6 L1060.4,983.7 L1060.6,982.7 L1060.7,981.7 L1060.8,980.7 L1060.9,979.7 L1061.0,978.7 L1061.1,977.7 L1061.2,976.7 L1061.3,975.7 L1061.4,974.7 L1061.6,973.7 L1061.7,972.7 L1061.8,971.7 L1061.9,970.7 L1062.0,969.7 L1062.1,968.7 L1062.2,967.7 L1062.3,966.8 L1062.4,965.8 L1062.5,964.8 L1062.6,963.8 L1062.7,962.8 L1062.8,961.8 L1062.9,960.8 L1063.0,959.8 L1063.1,958.8 L1063.2,957.8 L1063.3,956.8 L1063.4,955.8 L1063.5,954.8 L1063.6,953.8 L1063.7,952.8 L1063.8,951.8 L1063.9,950.8 L1064.0,949.8 L1064.1,948.8 L1064.2,947.8 L1064.3,946.8 L1064.4,945.8 L1064.4,944.8 L1064.5,943.9 L1064.6,942.9 L1064.7,941.9 L1064.8,940.9 L1064.9,939.9 L1065.0,938.9 L1065.1,937.9 L1065.2,936.9 L1065.3,935.9 L1065.3,934.9 L1065.4,933.9 L1065.5,932.9 L1065.6,931.9 L1065.7,930.9 L1065.8,929.9 L1065.9,928.9 L1066.0,927.9 L1066.0,926.9 L1066.1,925.9 L1066.2,924.9 L1066.3,923.9 L1066.4,922.9 L1066.5,921.9 L1066.5,920.9 L1066.6,919.9 L1066.7,918.9 L1066.8,917.9 L1066.9,916.9 L1066.9,915.9 L1067.0,914.9 L1067.1,913.9 L1067.2,913.0 L1067.3,912.0 L1067.3,911.0 L1067.4,910.0 L1067.5,909.0 L1067.6,908.0 L1067.7,907.0 L1067.7,906.0 L1067.8,905.0 L1067.9,904.0 L1068.0,903.0 L1068.0,902.0 L1068.1,901.0 L1068.2,900.0 L1068.3,899.0 L1068.3,898.0 L1068.4,897.0 L1068.5,896.0 L1068.6,895.0 L1068.6,894.0 L1068.7,893.0 L1068.8,892.0 L1068.9,891.0 L1068.9,890.0 L1069.0,889.0 L1069.1,888.0 L1069.2,887.0 L1069.2,886.0 L1069.3,885.0 L1069.4,884.0 L1069.5,883.0 L1069.6,882.0 L1069.6,881.0 L1069.7,880.1 L1069.8,879.1 L1069.9,878.1 L1070.0,877.1 L1070.1,876.1 L1070.2,875.1 L1070.2,874.1 L1070.3,873.1 L1070.4,872.1 L1070.5,871.1 L1070.6,870.1 L1070.7,869.1 L1070.8,868.1 L1070.9,867.1 L1071.0,866.1 L1071.1,865.1 L1071.2,864.1 L1071.3,863.1 L1071.4,862.1 L1071.5,861.2 L1071.6,860.2 L1071.7,859.2 L1071.9,858.2 L1072.0,857.2 L1072.1,856.2 L1072.2,855.2 L1072.3,854.2 L1072.4,853.2 L1072.5,852.2 L1072.6,851.2 L1072.7,850.2 L1072.8,849.2 L1073.0,848.2 L1073.1,847.2 L1073.2,846.3 L1073.3,845.3 L1073.4,844.3 L1073.5,843.3 L1073.6,842.3 L1073.7,841.3 L1073.8,840.3 L1073.9,839.3 L1074.0,838.3 L1074.2,837.3 L1074.3,836.3 L1074.4,835.3 L1074.5,834.3 L1074.6,833.3 L1074.7,832.3 L1074.8,831.3 L1074.9,830.3 L1075.0,829.4 L1075.0,828.4 L1075.1,827.4 L1075.2,826.4 L1075.3,825.4 L1075.4,824.4 L1075.5,823.4 L1075.6,822.4 L1075.7,821.4 L1075.7,820.4 L1075.8,819.4 L1075.9,818.4 L1076.0,817.4 L1076.1,816.4 L1076.1,815.4 L1076.2,814.4 L1076.3,813.4 L1076.4,812.4 L1076.4,811.4 L1076.5,810.4 L1076.6,809.4 L1076.6,808.4 L1076.7,807.4 L1076.8,806.4 L1076.8,805.4 L1076.9,804.4 L1077.0,803.4 L1077.0,802.4 L1077.1,801.4 L1077.2,800.4 L1077.2,799.4 L1077.3,798.4 L1077.3,797.4 L1077.4,796.4 L1077.5,795.4 L1077.5,794.4 L1077.6,793.4 L1077.6,792.4 L1077.7,791.4 L1077.8,790.4 L1077.8,789.4 L1077.9,788.4 L1077.9,787.4 L1078.0,786.4 L1078.0,785.4 L1078.1,784.4 L1078.1,783.4 L1078.2,782.4 L1078.2,781.4 L1078.3,780.4 L1078.3,779.4 L1078.4,778.4 L1078.4,777.4 L1078.5,776.4 L1078.5,775.5 L1078.6,774.5 L1078.6,773.5 L1078.7,772.5 L1078.8,771.5 L1078.8,770.5 L1078.9,769.5 L1078.9,768.5 L1079.0,767.5 L1079.0,766.5 L1079.1,765.5 L1079.1,764.5 L1079.2,763.5 L1079.2,762.5 L1079.3,761.5 L1079.3,760.5 L1079.4,759.5 L1079.4,758.5 L1079.5,757.5 L1079.5,756.5 L1079.6,755.5 L1079.6,754.5 L1079.7,753.5 L1079.7,752.5 L1079.8,751.5 L1079.8,750.5 L1079.9,749.5 L1080.0,748.5 L1080.0,747.5 L1080.1,746.5 L1080.1,745.5 L1080.2,744.5 L1080.2,743.5 L1080.3,742.5 L1080.3,741.5 L1080.4,740.5 L1080.4,739.5 L1080.5,738.5 L1080.6,737.5 L1080.6,736.5 L1080.7,735.5 L1080.7,734.5 L1080.8,733.5 L1080.8,732.5 L1080.9,731.5 L1080.9,730.5 L1081.0,729.5 L1081.1,728.5 L1081.1,727.5 L1081.2,726.5 L1081.2,725.5 L1081.3,724.5 L1081.3,723.5 L1081.4,722.5 L1081.4,721.5 L1081.5,720.5 L1081.6,719.5 L1081.6,718.5 L1081.7,717.5 L1081.7,716.5 L1081.8,715.5 L1081.8,714.5 L1081.9,713.5 L1082.0,712.5 L1082.0,711.5 L1082.1,710.5 L1082.1,709.5 L1082.2,708.5 L1082.3,707.5 L1082.3,706.5 L1082.4,705.5 L1082.4,704.5 L1082.5,703.5 L1082.5,702.5 L1082.6,701.5 L1082.7,700.5 L1082.7,699.5 L1082.8,698.5 L1082.8,697.5 L1082.9,696.5 L1083.0,695.5 L1083.0,694.5 L1083.1,693.5 L1083.1,692.6 L1083.2,691.6 L1083.3,690.6 L1083.3,689.6 L1083.4,688.6 L1083.4,687.6 L1083.5,686.6 L1083.6,685.6 L1083.6,684.6 L1083.7,683.6 L1083.7,682.6 L1083.8,681.6 L1083.9,680.6 L1083.9,679.6 L1084.0,678.6 L1084.0,677.6 L1084.1,676.6 L1084.2,675.6 L1084.2,674.6 L1084.3,673.6 L1084.3,672.6 L1084.4,671.6 L1084.5,670.6 L1084.5,669.6 L1084.6,668.6 L1084.6,667.6 L1084.7,666.6 L1084.8,665.6 L1084.8,664.6 L1084.9,663.6 L1085.0,662.6 L1085.0,661.6 L1085.1,660.6 L1085.1,659.6 L1085.2,658.6 L1085.3,657.6 L1085.3,656.6 L1085.4,655.6 L1085.4,654.6 L1085.5,653.6 L1085.6,652.6 L1085.6,651.6 L1085.7,650.6 L1085.7,649.6 L1085.8,648.7 L1085.9,647.7 L1085.9,646.7 L1086.0,645.7 L1086.1,644.7 L1086.1,643.7 L1086.2,642.7 L1086.2,641.7 L1086.3,640.7 L1086.4,639.7 L1086.4,638.7 L1086.5,637.7 L1086.6,636.7 L1086.6,635.7 L1086.7,634.7 L1086.7,633.7 L1086.8,632.7 L1086.9,631.7 L1086.9,630.7 L1087.0,629.7 L1087.0,628.7 L1087.1,627.7 L1087.2,626.7 L1087.2,625.7 L1087.3,624.7 L1087.4,623.7 L1087.4,622.7 L1087.5,621.7 L1087.5,620.7 L1087.6,619.7 L1087.7,618.7 L1087.7,617.7 L1087.8,616.7 L1087.9,615.7 L1087.9,614.7 L1088.0,613.7 L1088.0,612.7 L1088.1,611.7 L1088.2,610.7 L1088.2,609.7 L1088.3,608.7 L1088.4,607.8 L1088.4,606.8 L1088.5,605.8 L1088.5,604.8 L1088.6,603.8 L1088.7,602.8 L1088.7,601.8 L1088.8,600.8 L1088.8,599.8 L1088.9,598.8 L1089.0,597.8 L1089.0,596.8 L1089.1,595.8 L1089.2,594.8 L1089.2,593.8 L1089.3,592.8 L1089.3,591.8 L1089.4,590.8 L1089.5,589.8 L1089.5,588.8 L1089.6,587.8 L1089.6,586.8 L1089.7,585.8 L1089.8,584.8 L1089.8,583.8 L1089.9,582.8 L1090.0,581.8 L1090.0,580.8 L1090.1,579.8 L1090.1,578.8 L1090.2,577.8 L1090.3,576.8 L1090.3,575.8 L1090.4,574.8 L1090.4,573.8 L1090.5,572.8 L1090.6,571.8 L1090.6,570.8 L1090.7,569.8 L1090.7,568.8 L1090.8,567.8 L1090.9,566.8 L1090.9,565.8 L1091.0,564.8 L1091.0,563.8 L1091.1,562.8 L1091.2,561.9 L1091.2,560.9 L1091.3,559.9 L1091.3,558.9 L1091.4,557.9 L1091.5,556.9 L1091.5,555.9 L1091.6,554.9 L1091.6,553.9 L1091.7,552.9 L1091.8,551.9 L1091.8,550.9 L1091.9,549.9 L1091.9,548.9 L1092.0,547.9 L1092.1,546.9 L1092.1,545.9 L1092.2,544.9 L1092.2,543.9 L1092.3,542.9 L1092.4,541.9 L1092.4,540.9 L1092.5,539.9 L1092.5,538.9 L1092.6,537.9 L1092.7,536.9 L1092.7,535.9 L1092.8,534.9 L1092.8,533.9 L1092.9,532.9 L1092.9,531.9 L1093.0,530.9 L1093.1,529.9 L1093.1,528.9 L1093.2,527.9 L1093.2,526.9 L1093.3,525.9 L1093.3,524.9 L1093.4,523.9 L1093.5,522.9 L1093.5,521.9 L1093.6,520.9 L1093.6,519.9 L1093.7,518.9 L1093.8,517.9 L1093.8,516.9 L1093.9,515.9 L1093.9,514.9 L1094.0,513.9 L1094.0,512.9 L1094.1,511.9 L1094.2,510.9 L1094.2,509.9 L1094.3,508.9 L1094.3,507.9 L1094.4,506.9 L1094.4,505.9 L1094.5,504.9 L1094.6,503.9 L1094.6,502.9 L1094.7,501.9 L1094.7,500.9 L1094.8,499.9 L1094.8,498.9 L1094.9,497.9 L1095.0,496.9 L1095.0,495.9 L1095.1,494.9 L1095.1,493.9 L1095.2,492.9 L1095.2,491.9 L1095.3,491.0 L1095.3,490.0 L1095.4,489.0 L1095.5,488.0 L1095.5,487.0 L1095.6,486.0 L1095.6,485.0 L1095.7,484.0 L1095.7,483.0 L1095.8,482.0 L1095.9,481.0 L1095.9,480.0 L1096.0,479.0 L1096.0,478.0 L1096.1,477.0 L1096.1,476.0 L1096.2,475.0 L1096.2,474.0 L1096.3,473.0 L1096.4,472.0 L1096.4,471.0 L1096.5,470.0 L1096.5,469.0 L1096.6,468.0 L1096.6,467.0 L1096.7,466.0 L1096.7,465.0 L1096.8,464.0 L1096.9,463.0 L1096.9,462.0 L1097.0,461.0 L1097.0,460.0 L1097.1,459.0 L1097.1,458.0 L1097.2,457.0 L1097.2,456.0 L1097.3,455.0 L1097.4,454.0 L1097.4,453.0 L1097.5,452.0 L1097.5,451.0 L1097.6,450.0 L1097.6,449.0 L1097.7,448.0 L1097.7,447.0 L1097.8,446.0 L1097.8,445.0 L1097.9,444.0 L1098.0,443.0 L1098.0,442.0 L1098.1,441.0 L1098.1,440.0 L1098.2,439.0 L1098.2,438.0 L1098.3,437.0 L1098.3,436.0 L1098.4,435.0 L1098.4,434.0 L1098.5,433.0 L1098.6,432.0 L1098.6,431.0 L1098.7,430.0 L1098.7,429.0 L1098.8,428.0 L1098.8,427.0 L1098.9,426.0 L1098.9,425.0 L1099.0,424.0 L1099.0,423.0 L1099.1,422.0 L1099.2,421.0 L1099.2,420.0 L1099.3,419.0 L1099.3,418.0 L1099.4,417.0 L1099.4,416.0 L1099.5,415.0 L1099.5,414.0 L1099.6,413.0 L1099.6,412.0 L1099.7,411.0 L1099.7,410.0 L1099.8,409.0 L1099.9,408.0 L1099.9,407.0 L1100.0,406.0 L1100.0,405.0 L1100.1,404.0 L1100.1,403.0 L1100.2,402.0 L1100.2,401.0 L1100.3,400.0 L1100.3,399.0 L1100.4,398.0 L1100.5,397.0 L1100.5,396.0 L1100.6,395.0 L1100.6,394.0 L1100.7,393.0 L1100.7,392.0 L1100.8,391.0 L1100.8,390.0 L1100.9,389.0 L1100.9,388.0 L1101.0,387.0 L1101.0,386.0 L1101.1,385.0 L1101.2,384.0 L1101.2,383.0 L1101.3,382.0 L1101.3,381.0 L1101.4,380.0 L1101.4,379.0 L1101.5,378.0 L1101.5,377.0 L1101.6,376.0 L1101.6,375.0 L1101.7,374.0 L1101.7,373.0 L1101.8,372.1 L1101.8,371.1 L1101.9,370.1 L1102.0,369.1 L1102.0,368.1 L1102.1,367.1 L1102.1,366.1 L1102.2,365.1 L1102.2,364.1 L1102.3,363.1 L1102.3,362.1 L1102.4,361.1 L1102.4,360.1 L1102.5,359.1 L1102.5,358.1 L1102.6,357.1 L1102.7,356.1 L1102.7,355.1 L1102.8,354.1 L1102.8,353.1 L1102.9,352.1 L1102.9,351.1 L1103.0,350.1 L1103.0,349.1 L1103.1,348.1 L1103.1,347.1 L1103.2,346.1 L1103.2,345.1 L1103.3,344.1 L1103.4,343.1 L1103.4,342.1 L1103.5,341.1 L1103.5,340.1 L1103.6,339.1 L1103.6,338.1 L1103.7,337.1 L1103.7,336.1 L1103.8,335.1 L1103.8,334.1 L1103.9,333.1 L1103.9,332.1 L1104.0,331.1 L1104.1,330.1 L1104.1,329.1 L1104.2,328.1 L1104.2,327.1 L1104.3,326.1 L1104.3,325.1 L1104.4,324.1 L1104.4,323.1 L1104.5,322.1 L1104.5,321.1 L1104.6,320.1 L1104.6,319.1 L1104.7,318.1 L1104.8,317.1 L1104.8,316.1 L1104.9,315.1 L1104.9,314.1 L1105.0,313.1 L1105.0,312.1 L1105.1,311.1 L1105.1,310.1 L1105.2,309.1 L1105.2,308.1 L1105.3,307.1 L1105.4,306.1 L1105.4,305.1 L1105.5,304.1 L1105.5,303.1 L1105.6,302.1 L1105.6,301.1 L1105.7,300.1 L1105.7,299.1 L1105.8,298.1 L1105.8,297.1 L1105.9,296.2 L1106.0,295.2 L1106.0,294.2 L1106.1,293.2 L1106.1,292.2 L1106.2,291.2 L1106.2,290.2 L1106.3,289.2 L1106.3,288.2 L1106.4,287.2 L1106.4,286.2 L1106.5,285.2 L1106.6,284.2 L1106.6,283.2 L1106.7,282.2 L1106.7,281.2 L1106.8,280.2 L1106.8,279.2 L1106.9,278.2 L1106.9,277.2 L1107.0,276.2 L1107.0,275.2 L1107.1,274.2 L1107.2,273.2 L1107.2,272.2 L1107.3,271.2 L1107.3,270.2 L1107.4,269.2 L1107.4,268.2 L1107.5,267.2 L1107.5,266.2 L1107.6,265.2 L1107.7,264.2 L1107.7,263.2 L1107.8,262.2 L1107.8,261.2 L1107.9,260.2 L1107.9,259.2 L1108.0,258.2 L1108.0,257.2 L1108.1,256.2 L1108.2,255.2 L1108.2,254.2 L1108.3,253.2 L1108.3,252.2 L1108.4,251.3 L1108.4,250.3 L1108.5,249.3 L1108.5,248.3 L1108.6,247.3 L1108.7,246.3 L1108.7,245.3 L1108.8,244.3 L1108.8,243.3 L1108.9,242.3 L1108.9,241.3 L1109.0,240.3 L1109.0,239.3 L1109.1,238.3 L1109.2,237.3 L1109.2,236.3 L1109.3,235.3 L1109.3,234.3 L1109.4,233.3 L1109.4,232.3 L1109.5,231.3 L1109.6,230.3 L1109.6,229.3 L1109.7,228.3 L1109.7,227.3 L1109.8,226.3 L1109.8,225.3 L1109.9,224.3 L1110.0,223.3 L1110.0,222.3 L1110.1,221.3 L1110.1,220.3 L1110.2,219.3 L1110.2,218.3 L1110.3,217.4 L1110.4,216.4 L1110.4,215.4 L1110.5,214.4 L1110.5,213.4 L1110.6,212.4 L1110.7,211.4 L1110.7,210.4 L1110.8,209.4 L1110.8,208.4 L1110.9,207.4 L1111.0,206.4 L1111.0,205.4 L1111.1,204.4 L1111.2,203.4 L1111.2,202.4 L1111.3,201.4 L1111.3,200.4 L1111.4,199.4 L1111.5,198.4 L1111.5,197.4 L1111.6,196.4 L1111.7,195.4 L1111.7,194.4 L1111.8,193.4 L1111.9,192.4 L1111.9,191.4 L1112.0,190.4 L1112.1,189.5 L1112.1,188.5 L1112.2,187.5 L1112.3,186.5 L1112.3,185.5 L1112.4,184.5 L1112.5,183.5 L1112.5,182.5 L1112.6,181.5 L1112.7,180.5 L1112.8,179.5 L1112.8,178.5 L1112.9,177.5 L1113.0,176.5 L1113.1,175.5 L1113.1,174.5 L1113.2,173.5 L1113.3,172.5 L1113.4,171.5 L1113.4,170.5 L1113.5,169.5 L1113.6,168.5 L1113.7,167.5 L1113.8,166.5 L1113.8,165.5 L1113.9,164.5 L1114.0,163.5 L1114.1,162.5 L1114.2,161.5 L1114.2,160.6 L1114.3,159.6 L1114.4,158.6 L1114.5,157.6 L1114.6,156.6 L1114.7,155.6 L1114.8,154.6 L1114.9,153.6 L1114.9,152.6 L1115.0,151.6 L1115.1,150.6 L1115.2,149.6 L1115.3,148.6 L1115.4,147.6 L1115.5,146.6 L1115.6,145.6 L1115.7,144.6 L1115.8,143.6 L1115.9,142.6 L1116.0,141.6 L1116.1,140.6 L1116.2,139.6 L1116.3,138.6 L1116.4,137.6 L1116.5,136.6 L1116.6,135.6 L1116.7,134.6 L1116.8,133.6 L1116.9,132.6 L1117.0,131.6 L1117.1,130.6 L1117.2,129.6 L1117.4,128.7 L1117.5,127.7 L1117.6,126.7 L1117.7,125.7 L1117.8,124.7 L1117.9,123.7 L1118.0,122.7 L1118.2,121.7 L1118.3,120.7 L1118.4,119.7 L1118.5,118.7 L1118.6,117.7 L1118.8,116.7 L1118.9,115.7 L1119.0,114.7 L1119.1,113.7 L1119.3,112.7 L1119.4,111.7 L1119.5,110.7 L1119.7,109.7 L1119.8,108.7 L1119.9,107.7 L1120.1,106.7 L1120.2,105.7 L1120.3,104.7 L1120.5,103.7 L1120.6,102.7 L1120.7,101.7 L1120.9,100.7 L1121.0,99.7 L1121.2,98.7 L1121.3,97.7 L1121.5,96.7 L1121.6,95.7 L1121.8,94.7 L1121.9,93.7 L1122.1,92.7 L1122.2,91.7 L1122.4,90.7 L1122.5,89.7 L1122.7,88.7 L1122.8,87.7 L1123.0,86.7 L1123.2,85.7 L1123.3,84.7 L1123.5,83.7 L1123.6,82.7 L1123.8,81.7 L1124.0,80.7 L1124.1,79.7 L1124.3,78.7 L1124.5,77.7 L1124.7,76.7 L1124.8,75.7 L1125.0,74.7 L1125.2,73.8 L1125.4,72.8 L1125.6,71.8 L1125.8,70.8 L1126.0,69.8 L1126.3,68.9 L1126.6,68.0 L1126.9,67.0 L1127.2,66.2 L1127.6,65.3 L1128.0,64.5 L1128.5,63.7 L1129.0,62.9 L1129.6,62.1 L1130.2,61.4 L1130.9,60.8 L1131.6,60.3 L1132.4,60.0 L1133.1,60.1 L1133.8,60.5 L1134.4,61.1 L1135.1,61.9 L1135.6,62.9 L1136.2,63.9 L1136.7,64.9 L1137.1,65.9 L1137.5,66.9 L1137.8,67.9 L1138.1,68.8 L1138.4,69.8 L1138.6,70.8 L1138.8,71.8 L1139.0,72.8 L1139.2,73.8 L1139.4,74.8 L1139.5,75.8 L1139.7,76.7 L1139.9,77.7 L1140.0,78.7 L1140.2,79.7 L1140.4,80.7 L1140.5,81.7 L1140.7,82.7 L1140.9,83.6 L1141.0,84.6 L1141.2,85.6 L1141.3,86.6 L1141.5,87.6 L1141.7,88.6 L1141.8,89.6 L1142.0,90.6 L1142.1,91.5 L1142.3,92.5 L1142.4,93.5 L1142.6,94.5 L1142.7,95.5 L1142.9,96.5 L1143.1,97.5 L1143.2,98.4 L1143.4,99.4 L1143.5,100.4 L1143.7,101.4 L1143.8,102.4 L1144.0,103.4 L1144.1,104.4 L1144.3,105.4 L1144.4,106.4 L1144.6,107.3 L1144.7,108.3 L1144.9,109.3 L1145.0,110.3 L1145.2,111.3 L1145.3,112.3 L1145.4,113.3 L1145.6,114.3 L1145.7,115.2 L1145.9,116.2 L1146.0,117.2 L1146.2,118.2 L1146.3,119.2 L1146.4,120.2 L1146.6,121.2 L1146.7,122.2 L1146.9,123.2 L1147.0,124.2 L1147.2,125.1 L1147.3,126.1 L1147.4,127.1 L1147.6,128.1 L1147.7,129.1 L1147.8,130.1 L1148.0,131.1 L1148.1,132.1 L1148.3,133.1 L1148.4,134.0 L1148.5,135.0 L1148.7,136.0 L1148.8,137.0 L1148.9,138.0 L1149.1,139.0 L1149.2,140.0 L1149.3,141.0 L1149.5,142.0 L1149.6,143.0 L1149.7,144.0 L1149.9,144.9 L1150.0,145.9 L1150.1,146.9 L1150.3,147.9 L1150.4,148.9 L1150.5,149.9 L1150.6,150.9 L1150.8,151.9 L1150.9,152.9 L1151.0,153.9 L1151.2,154.9 L1151.3,155.8 L1151.4,156.8 L1151.5,157.8 L1151.7,158.8 L1151.8,159.8 L1151.9,160.8 L1152.0,161.8 L1152.2,162.8 L1152.3,163.8 L1152.4,164.8 L1152.5,165.8 L1152.7,166.7 L1152.8,167.7 L1152.9,168.7 L1153.0,169.7 L1153.2,170.7 L1153.3,171.7 L1153.4,172.7 L1153.5,173.7 L1153.6,174.7 L1153.8,175.7 L1153.9,176.7 L1154.0,177.7 L1154.1,178.7 L1154.2,179.6 L1154.4,180.6 L1154.5,181.6 L1154.6,182.6 L1154.7,183.6 L1154.8,184.6 L1155.0,185.6 L1155.1,186.6 L1155.2,187.6 L1155.3,188.6 L1155.4,189.6 L1155.5,190.6 L1155.7,191.6 L1155.8,192.6 L1155.9,193.5 L1156.0,194.5 L1156.1,195.5 L1156.2,196.5 L1156.4,197.5 L1156.5,198.5 L1156.6,199.5 L1156.7,200.5 L1156.8,201.5 L1156.9,202.5 L1157.0,203.5 L1157.2,204.5 L1157.3,205.5 L1157.4,206.5 L1157.5,207.5 L1157.6,208.4 L1157.7,209.4 L1157.8,210.4 L1157.9,211.4 L1158.1,212.4 L1158.2,213.4 L1158.3,214.4 L1158.4,215.4 L1158.5,216.4 L1158.6,217.4 L1158.7,218.4 L1158.8,219.4 L1158.9,220.4 L1159.1,221.4 L1159.2,222.4 L1159.3,223.4 L1159.4,224.4 L1159.5,225.3 L1159.6,226.3 L1159.7,227.3 L1159.8,228.3 L1159.9,229.3 L1160.0,230.3 L1160.2,231.3 L1160.3,232.3 L1160.4,233.3 L1160.5,234.3 L1160.6,235.3 L1160.7,236.3 L1160.8,237.3 L1160.9,238.3 L1161.0,239.3 L1161.1,240.3 L1161.2,241.3 L1161.4,242.2 L1161.5,243.2 L1161.6,244.2 L1161.7,245.2 L1161.8,246.2 L1161.9,247.2 L1162.0,248.2 L1162.1,249.2 L1162.2,250.2 L1162.3,251.2 L1162.4,252.2 L1162.5,253.2 L1162.6,254.2 L1162.7,255.2 L1162.9,256.2 L1163.0,257.2 L1163.1,258.2 L1163.2,259.2 L1163.3,260.2 L1163.4,261.1 L1163.5,262.1 L1163.6,263.1 L1163.7,264.1 L1163.8,265.1 L1163.9,266.1 L1164.0,267.1 L1164.1,268.1 L1164.2,269.1 L1164.3,270.1 L1164.5,271.1 L1164.6,272.1 L1164.7,273.1 L1164.8,274.1 L1164.9,275.1 L1165.0,276.1 L1165.1,277.1 L1165.2,278.1 L1165.3,279.1 L1165.4,280.1 L1165.5,281.0 L1165.6,282.0 L1165.7,283.0 L1165.8,284.0 L1165.9,285.0 L1166.0,286.0 L1166.2,287.0 L1166.3,288.0 L1166.4,289.0 L1166.5,290.0 L1166.6,291.0 L1166.7,292.0 L1166.8,293.0 L1166.9,294.0 L1167.0,295.0 L1167.1,296.0 L1167.2,297.0 L1167.3,298.0 L1167.4,299.0 L1167.5,300.0 L1167.6,300.9 L1167.8,301.9 L1167.9,302.9 L1168.0,303.9 L1168.1,304.9 L1168.2,305.9 L1168.3,306.9 L1168.4,307.9 L1168.5,308.9 L1168.6,309.9 L1168.7,310.9 L1168.8,311.9 L1168.9,312.9 L1169.0,313.9 L1169.2,314.9 L1169.3,315.9 L1169.4,316.9 L1169.5,317.9 L1169.6,318.9 L1169.7,319.8 L1169.8,320.8 L1169.9,321.8 L1170.0,322.8 L1170.1,323.8 L1170.2,324.8 L1170.4,325.8 L1170.5,326.8 L1170.6,327.8 L1170.7,328.8 L1170.8,329.8 L1170.9,330.8 L1171.0,331.8 L1171.1,332.8 L1171.2,333.8 L1171.3,334.8 L1171.5,335.8 L1171.6,336.8 L1171.7,337.8 L1171.8,338.7 L1171.9,339.7 L1172.0,340.7 L1172.1,341.7 L1172.2,342.7 L1172.3,343.7 L1172.5,344.7 L1172.6,345.7 L1172.7,346.7 L1172.8,347.7 L1172.9,348.7 L1173.0,349.7 L1173.1,350.7 L1173.2,351.7 L1173.4,352.7 L1173.5,353.7 L1173.6,354.6 L1173.7,355.6 L1173.8,356.6 L1173.9,357.6 L1174.0,358.6 L1174.2,359.6 L1174.3,360.6 L1174.4,361.6 L1174.5,362.6 L1174.6,363.6 L1174.7,364.6 L1174.9,365.6 L1175.0,366.6 L1175.1,367.6 L1175.2,368.6 L1175.3,369.6 L1175.4,370.5 L1175.6,371.5 L1175.7,372.5 L1175.8,373.5 L1175.9,374.5 L1176.0,375.5 L1176.2,376.5 L1176.3,377.5 L1176.4,378.5 L1176.5,379.5 L1176.6,380.5 L1176.8,381.5 L1176.9,382.5 L1177.0,383.5 L1177.1,384.4 L1177.2,385.4 L1177.4,386.4 L1177.5,387.4 L1177.6,388.4 L1177.7,389.4 L1177.8,390.4 L1178.0,391.4 L1178.1,392.4 L1178.2,393.4 L1178.3,394.4 L1178.5,395.4 L1178.6,396.4 L1178.7,397.3 L1178.8,398.3 L1179.0,399.3 L1179.1,400.3 L1179.2,401.3 L1179.4,402.3 L1179.5,403.3 L1179.6,404.3 L1179.7,405.3 L1179.9,406.3 L1180.0,407.3 L1180.1,408.3 L1180.2,409.2 L1180.4,410.2 L1180.5,411.2 L1180.6,412.2 L1180.8,413.2 L1180.9,414.2 L1181.0,415.2 L1181.2,416.2 L1181.3,417.2 L1181.4,418.2 L1181.6,419.2 L1181.7,420.1 L1181.8,421.1 L1182.0,422.1 L1182.1,423.1 L1182.2,424.1 L1182.4,425.1 L1182.5,426.1 L1182.6,427.1 L1182.8,428.1 L1182.9,429.1 L1183.0,430.0 L1183.2,431.0 L1183.3,432.0 L1183.5,433.0 L1183.6,434.0 L1183.7,435.0 L1183.9,436.0 L1184.0,437.0 L1184.2,438.0 L1184.3,439.0 L1184.4,439.9 L1184.6,440.9 L1184.7,441.9 L1184.9,442.9 L1185.0,443.9 L1185.2,444.9 L1185.3,445.9 L1185.4,446.9 L1185.6,447.9 L1185.7,448.8 L1185.9,449.8 L1186.0,450.8 L1186.2,451.8 L1186.3,452.8 L1186.5,453.8 L1186.6,454.8 L1186.8,455.8 L1186.9,456.8 L1187.1,457.7 L1187.2,458.7 L1187.4,459.7 L1187.5,460.7 L1187.7,461.7 L1187.8,462.7 L1188.0,463.7 L1188.1,464.7 L1188.3,465.6 L1188.4,466.6 L1188.6,467.6 L1188.7,468.6 L1188.9,469.6 L1189.0,470.6 L1189.2,471.6 L1189.4,472.5 L1189.5,473.5 L1189.7,474.5 L1189.8,475.5 L1190.0,476.5 L1190.1,477.5 L1190.3,478.5 L1190.5,479.5 L1190.6,480.4 L1190.8,481.4 L1191.0,482.4 L1191.1,483.4 L1191.3,484.4 L1191.4,485.4 L1191.6,486.3 L1191.8,487.3 L1191.9,488.3 L1192.1,489.3 L1192.3,490.3 L1192.4,491.3 L1192.6,492.3 L1192.8,493.2 L1192.9,494.2 L1193.1,495.2 L1193.3,496.2 L1193.5,497.2 L1193.6,498.2 L1193.8,499.1 L1194.0,500.1 L1194.1,501.1 L1194.3,502.1 L1194.5,503.1 L1194.7,504.1 L1194.8,505.1 L1195.0,506.0 L1195.2,507.0 L1195.4,508.0 L1195.5,509.0 L1195.7,510.0 L1195.9,510.9 L1196.1,511.9 L1196.3,512.9 L1196.4,513.9 L1196.6,514.9 L1196.8,515.9 L1197.0,516.8 L1197.2,517.8 L1197.4,518.8 L1197.5,519.8 L1197.7,520.8 L1197.9,521.8 L1198.1,522.7 L1198.3,523.7 L1198.5,524.7 L1198.7,525.7 L1198.8,526.7 L1199.0,527.6 L1199.2,528.6 L1199.4,529.6 L1199.6,530.6 L1199.8,531.6 L1200.0,532.6 L1200.2,533.5 L1200.4,534.5 L1200.6,535.5 L1200.8,536.5 L1201.0,537.5 L1201.2,538.4 L1201.3,539.4 L1201.5,540.4 L1201.7,541.4 L1201.9,542.4 L1202.1,543.3 L1202.3,544.3 L1202.5,545.3 L1202.7,546.3 L1202.9,547.3 L1203.1,548.3 L1203.3,549.2 L1203.5,550.2 L1203.8,551.2 L1204.0,552.2 L1204.2,553.2 L1204.4,554.1 L1204.6,555.1 L1204.8,556.1 L1205.0,557.1 L1205.2,558.1 L1205.4,559.0 L1205.6,560.0 L1205.8,561.0 L1206.0,562.0 L1206.2,563.0 L1206.4,564.0 L1206.7,564.9 L1206.9,565.9 L1207.1,566.9 L1207.3,567.9 L1207.5,568.9 L1207.7,569.8 L1207.9,570.8 L1208.2,571.8 L1208.4,572.8 L1208.6,573.8 L1208.8,574.8 L1209.0,575.7 L1209.2,576.7 L1209.5,577.7 L1209.7,578.7 L1209.9,579.7 L1210.1,580.6 L1210.4,581.6 L1210.6,582.6 L1210.8,583.6 L1211.0,584.6 L1211.3,585.6 L1211.5,586.5 L1211.7,587.5 L1212.0,588.5 L1212.2,589.4 L1212.5,590.4 L1212.8,591.4 L1213.0,592.3 L1213.3,593.3 L1213.6,594.3 L1213.9,595.2 L1214.2,596.2 L1214.5,597.1 L1214.8,598.0 L1215.1,599.0 L1215.5,599.9 L1215.8,600.8 L1216.2,601.8 L1216.6,602.7 L1216.9,603.6 L1217.3,604.5 L1217.7,605.4 L1218.2,606.3 L1218.6,607.2 L1219.0,608.1 L1219.5,608.9 L1220.0,609.8 L1220.5,610.6 L1221.0,611.5 L1221.5,612.3 L1222.1,613.2 L1222.6,614.0 L1223.2,614.8 L1223.8,615.6 L1224.4,616.4 L1225.0,617.2 L1225.7,618.0 L1226.4,618.8 L1227.1,619.5 L1227.8,620.3 L1228.5,621.0 L1229.3,621.7 L1230.0,622.4 L1230.8,623.0 L1231.6,623.6 L1232.5,624.1 L1233.3,624.6 L1234.2,625.1 L1235.1,625.5 L1236.0,625.8 L1236.9,626.1 L1237.9,626.3 L1238.8,626.5 L1239.8,626.5 L1240.8,626.5 L1241.9,626.4 L1242.9,626.3 L1243.9,626.2 L1244.9,626.1 L1245.9,626.1 L1246.8,626.2 L1247.7,626.4 L1248.6,626.8 L1249.4,627.2 L1250.3,627.6 L1251.2,628.1 L1252.0,628.6 L1252.9,629.1 L1253.8,629.7 L1254.7,630.2 L1255.5,630.8 L1256.4,631.4 L1257.2,632.0 L1258.0,632.7 L1258.8,633.3 L1259.5,634.0 L1260.3,634.6 L1261.0,635.3 L1261.8,636.0 L1262.5,636.7 L1263.1,637.4 L1263.8,638.2 L1264.5,638.9 L1265.1,639.7 L1265.7,640.4 L1266.3,641.2 L1266.9,642.0 L1267.5,642.8 L1268.1,643.6 L1268.7,644.4 L1269.2,645.2 L1269.7,646.1 L1270.3,646.9 L1270.8,647.8 L1271.3,648.6 L1271.8,649.5 L1272.2,650.4 L1272.7,651.2 L1273.2,652.1 L1273.6,653.0 L1274.1,653.9 L1274.5,654.8 L1274.9,655.7 L1275.4,656.6 L1275.8,657.5 L1276.2,658.4 L1276.6,659.3 L1277.0,660.3 L1277.4,661.2 L1277.8,662.1 L1278.2,663.0 L1278.5,664.0 L1278.9,664.9 L1279.3,665.8 L1279.7,666.8 L1280.0,667.7 L1280.4,668.6 L1280.7,669.6 L1281.1,670.5 L1281.5,671.4 L1281.8,672.4 L1282.2,673.3 L1282.5,674.3 L1282.8,675.2 L1283.2,676.1 L1283.5,677.1 L1283.8,678.0 L1284.2,679.0 L1284.5,679.9 L1284.8,680.9 L1285.2,681.8 L1285.5,682.8 L1285.8,683.7 L1286.1,684.7 L1286.4,685.6 L1286.7,686.6 L1287.0,687.5 L1287.3,688.5 L1287.6,689.4 L1287.9,690.4 L1288.2,691.3 L1288.5,692.3 L1288.8,693.2 L1289.1,694.2 L1289.4,695.1 L1289.7,696.1 L1290.0,697.1 L1290.2,698.0 L1290.5,699.0 L1290.8,699.9 L1291.1,700.9 L1291.4,701.9 L1291.6,702.8 L1291.9,703.8 L1292.2,704.7 L1292.4,705.7 L1292.7,706.7 L1293.0,707.6 L1293.2,708.6 L1293.5,709.6 L1293.7,710.5 L1294.0,711.5 L1294.3,712.5 L1294.5,713.4 L1294.8,714.4 L1295.0,715.4 L1295.3,716.3 L1295.5,717.3 L1295.8,718.3 L1296.0,719.2 L1296.2,720.2 L1296.5,721.2 L1296.7,722.1 L1297.0,723.1 L1297.2,724.1 L1297.4,725.1 L1297.7,726.0 L1297.9,727.0 L1298.2,728.0 L1298.4,728.9 L1298.6,729.9 L1298.9,730.9 L1299.1,731.9 L1299.3,732.8 L1299.6,733.8 L1299.8,734.8 L1300.0,735.8 L1300.2,736.7 L1300.5,737.7 L1300.7,738.7 L1300.9,739.7 L1301.1,740.6 L1301.4,741.6 L1301.6,742.6 L1301.8,743.6 L1302.1,744.5 L1302.3,745.5 L1302.5,746.5 L1302.7,747.5 L1302.9,748.4 L1303.2,749.4 L1303.4,750.4 L1303.6,751.4 L1303.8,752.3 L1304.1,753.3 L1304.3,754.3 L1304.5,755.3 L1304.7,756.2 L1305.0,757.2 L1305.2,758.2 L1305.4,759.2 L1305.6,760.1 L1305.9,761.1 L1306.1,762.1 L1306.3,763.1 L1306.5,764.0 L1306.8,765.0 L1307.0,766.0 L1307.2,767.0 L1307.4,767.9 L1307.7,768.9 L1307.9,769.9 L1308.1,770.9 L1308.4,771.8 L1308.6,772.8 L1308.8,773.8 L1309.1,774.7 L1309.3,775.7 L1309.5,776.7 L1309.8,777.7 L1310.0,778.6 L1310.2,779.6 L1310.5,780.6 L1310.7,781.5 L1310.9,782.5 L1311.2,783.5 L1311.4,784.4 L1311.7,785.4 L1311.9,786.4 L1312.2,787.4 L1312.4,788.3 L1312.6,789.3 L1312.9,790.3 L1313.1,791.2 L1313.4,792.2 L1313.6,793.2 L1313.9,794.1 L1314.1,795.1 L1314.4,796.1 L1314.6,797.0 L1314.8,798.0 L1315.1,799.0 L1315.3,799.9 L1315.6,800.9 L1315.8,801.9 L1316.1,802.9 L1316.3,803.8 L1316.5,804.8 L1316.8,805.8 L1317.0,806.7 L1317.3,807.7 L1317.5,808.7 L1317.7,809.6 L1318.0,810.6 L1318.2,811.6 L1318.4,812.6 L1318.7,813.5 L1318.9,814.5 L1319.1,815.5 L1319.4,816.4 L1319.6,817.4 L1319.8,818.4 L1320.1,819.4 L1320.3,820.3 L1320.5,821.3 L1320.7,822.3 L1320.9,823.3 L1321.2,824.2 L1321.4,825.2 L1321.6,826.2 L1321.8,827.2 L1322.0,828.2 L1322.2,829.1 L1322.4,830.1 L1322.6,831.1 L1322.8,832.1 L1323.0,833.1 L1323.2,834.0 L1323.4,835.0 L1323.6,836.0 L1323.8,837.0 L1324.0,838.0 L1324.2,838.9 L1324.4,839.9 L1324.6,840.9 L1324.8,841.9 L1325.0,842.9 L1325.2,843.9 L1325.4,844.8 L1325.6,845.8 L1325.8,846.8 L1326.0,847.8 L1326.2,848.8 L1326.4,849.7 L1326.6,850.7 L1326.8,851.7 L1327.0,852.7 L1327.2,853.7 L1327.4,854.7 L1327.6,855.6 L1327.8,856.6 L1328.0,857.6 L1328.2,858.6 L1328.4,859.6 L1328.6,860.5 L1328.8,861.5 L1329.0,862.5 L1329.3,863.5 L1329.5,864.5 L1329.7,865.4 L1329.9,866.4 L1330.1,867.4 L1330.3,868.4 L1330.5,869.3 L1330.8,870.3 L1331.0,871.3 L1331.2,872.3 L1331.4,873.2 L1331.7,874.2 L1331.9,875.2 L1332.1,876.2 L1332.4,877.1 L1332.6,878.1 L1332.8,879.1 L1333.1,880.0 L1333.3,881.0 L1333.6,882.0 L1333.8,882.9 L1334.1,883.9 L1334.3,884.9 L1334.6,885.8 L1334.8,886.8 L1335.1,887.7 L1335.4,888.7 L1335.6,889.7 L1335.9,890.6 L1336.2,891.6 L1336.5,892.5 L1336.7,893.5 L1337.0,894.4 L1337.3,895.4 L1337.6,896.4 L1337.9,897.3 L1338.2,898.3 L1338.5,899.2 L1338.7,900.2 L1339.0,901.1 L1339.3,902.1 L1339.6,903.0 L1339.9,904.0 L1340.2,905.0 L1340.5,905.9 L1340.8,906.9 L1341.1,907.8 L1341.4,908.8 L1341.7,909.7 L1342.0,910.7 L1342.3,911.6 L1342.6,912.6 L1342.9,913.5 L1343.2,914.5 L1343.5,915.5 L1343.7,916.4 L1344.0,917.4 L1344.3,918.3 L1344.6,919.3 L1344.9,920.2 L1345.2,921.2 L1345.5,922.2 L1345.8,923.1 L1346.1,924.1 L1346.4,925.0 L1346.7,926.0 L1347.0,926.9 L1347.3,927.9 L1347.6,928.9 L1347.9,929.8 L1348.2,930.8 L1348.5,931.7 L1348.8,932.7 L1349.1,933.6 L1349.4,934.6 L1349.7,935.6 L1350.0,936.5 L1350.4,937.5 L1350.7,938.4 L1351.0,939.4 L1351.3,940.3 L1351.6,941.3 L1351.9,942.2 L1352.2,943.2 L1352.5,944.1 L1352.9,945.1 L1353.2,946.0 L1353.5,947.0 L1353.8,947.9 L1354.1,948.9 L1354.5,949.8 L1354.8,950.8 L1355.1,951.7 L1355.4,952.7 L1355.8,953.6 L1356.1,954.6 L1356.4,955.5 L1356.8,956.5 L1357.1,957.4 L1357.4,958.4 L1357.8,959.3 L1358.1,960.2 L1358.5,961.2 L1358.8,962.1 L1359.2,963.1 L1359.5,964.0 L1359.9,964.9 L1360.2,965.9 L1360.6,966.8 L1361.0,967.7 L1361.3,968.7 L1361.7,969.6 L1362.0,970.5 L1362.4,971.4 L1362.8,972.4 L1363.2,973.3 L1363.5,974.2 L1363.9,975.1 L1364.3,976.1 L1364.7,977.0 L1365.1,977.9 L1365.5,978.8 L1365.9,979.7 L1366.3,980.7 L1366.7,981.6 L1367.1,982.5 L1367.5,983.4 L1367.9,984.3 L1368.3,985.2 L1368.7,986.1 L1369.1,987.0 L1369.5,987.9 L1370.0,988.8 L1370.4,989.7 L1370.8,990.6 L1371.3,991.5 L1371.7,992.4 L1372.1,993.3 L1372.6,994.2 L1373.0,995.1 L1373.5,996.0 L1373.9,996.9 L1374.4,997.8 L1374.9,998.6 L1375.3,999.5 L1375.8,1000.4 L1376.3,1001.3 L1376.7,1002.2 L1377.2,1003.0 L1377.7,1003.9 L1378.2,1004.8 L1378.7,1005.6 L1379.2,1006.5 L1379.7,1007.4 L1380.2,1008.2 L1380.7,1009.1 L1381.2,1009.9 L1381.7,1010.8 L1382.3,1011.6 L1382.8,1012.5 L1383.3,1013.3 L1383.8,1014.2 L1384.4,1015.0 L1384.9,1015.9 L1385.5,1016.7 L1386.0,1017.5 L1386.6,1018.4 L1387.2,1019.2 L1387.7,1020.0 L1388.3,1020.9 L1388.9,1021.7 L1389.5,1022.5 L1390.0,1023.3 L1390.6,1024.1 L1391.2,1024.9 L1391.8,1025.8 L1392.4,1026.6 L1393.0,1027.4 L1393.7,1028.2 L1394.3,1028.9 L1394.8,1029.8 L1395.3,1030.7 L1395.8,1031.6 L1396.4,1032.5 L1396.9,1033.4 L1397.5,1034.2 L1398.1,1035.1 L1398.7,1035.9 L1399.3,1036.7 L1399.9,1037.5 L1400.6,1038.3 L1401.2,1039.0 L1401.9,1039.8 L1402.5,1040.5 L1403.2,1041.2 L1403.9,1041.9 L1404.6,1042.6 L1405.3,1043.2 L1406.0,1043.9 L1406.8,1044.5 L1407.6,1045.1 L1408.4,1045.6 L1409.3,1046.2 L1410.2,1046.7 L1411.0,1047.2 L1411.9,1047.7 L1412.8,1048.3 L1413.6,1048.8 L1414.5,1049.4 L1415.2,1050.0 L1416.0,1050.6 L1416.7,1051.3 L1417.4,1052.0 L1418.1,1052.7 L1418.8,1053.4 L1419.4,1054.2 L1420.1,1055.0 L1420.7,1055.7 L1421.3,1056.5 L1422.0,1057.3 L1422.6,1058.1 L1423.2,1058.9 L1423.9,1059.7 L1424.5,1060.5 L1425.2,1061.3 L1425.8,1062.0 L1426.5,1062.8 L1427.2,1063.5 L1427.9,1064.2 L1428.6,1064.9 L1429.3,1065.6 L1430.0,1066.3 L1430.8,1067.0 L1431.5,1067.7 L1432.3,1068.4 L1433.0,1069.1 L1433.7,1069.8 L1434.5,1070.5 L1435.2,1071.2 L1435.9,1071.9 L1436.6,1072.6 L1437.2,1073.3 L1437.9,1074.1 L1438.5,1074.8 L1439.1,1075.6 L1439.7,1076.5 L1440.2,1077.3 L1440.8,1078.1 L1441.3,1079.0 L1441.8,1079.8 L1442.3,1080.7 L1442.9,1081.6 L1443.4,1082.4 L1444.0,1083.2 L1444.6,1084.1 L1445.1,1084.9 L1445.7,1085.7 L1446.3,1086.5 L1446.9,1087.4 L1447.5,1088.2 L1448.1,1089.0 L1448.8,1089.9 L1449.4,1090.7 L1450.1,1091.4 L1450.7,1092.2 L1451.4,1092.9 L1452.1,1093.5 L1452.9,1094.1 L1453.7,1094.6 L1454.5,1095.1 L1455.4,1095.5 L1456.4,1096.0 L1457.3,1096.3 L1458.3,1096.7 L1459.2,1097.2 L1460.1,1097.6 L1461.0,1098.1 L1461.7,1098.7 L1462.4,1099.4 L1463.1,1100.1 L1463.8,1100.8 L1464.4,1101.6 L1465.0,1102.4 L1465.7,1103.2 L1466.3,1104.0 L1467.0,1104.8 L1467.6,1105.5 L1468.4,1106.3 L1469.1,1107.0 L1469.8,1107.6 L1470.6,1108.3 L1471.3,1109.0 L1472.1,1109.7 L1472.8,1110.3 L1473.6,1110.9 L1474.4,1111.5 L1475.3,1112.0 L1476.2,1112.5 L1477.1,1112.9 L1478.0,1113.4 L1478.9,1113.9 L1479.7,1114.4 L1480.4,1115.1 L1481.1,1115.7 L1481.7,1116.5 L1482.4,1117.2 L1483.0,1118.0 L1483.5,1118.9 L1484.1,1119.7 L1484.7,1120.6 L1485.2,1121.5 L1485.8,1122.3 L1486.4,1123.2 L1487.0,1124.0 L1487.6,1124.8 L1488.2,1125.6 L1488.8,1126.4 L1489.4,1127.3 L1490.0,1128.1 L1490.6,1128.9 L1491.2,1129.8 L1491.8,1130.5 L1492.5,1131.3 L1493.1,1132.0 L1493.8,1132.7 L1494.5,1133.3 L1495.3,1133.9 L1496.1,1134.4 L1497.0,1134.9 L1498.0,1135.3 L1498.9,1135.8 L1499.9,1136.2 L1500.9,1136.6 L1501.8,1137.0 L1502.7,1137.5 L1503.6,1137.9 L1504.4,1138.5 L1505.1,1139.0 L1505.8,1139.7 L1506.4,1140.5 L1506.9,1141.3 L1507.4,1142.2 L1507.9,1143.1 L1508.5,1144.0 L1509.0,1144.9 L1509.6,1145.7 L1510.2,1146.5 L1510.9,1147.2 L1511.6,1147.8 L1512.4,1148.5 L1513.2,1149.1 L1514.0,1149.7 L1514.8,1150.4 L1515.5,1151.0 L1516.2,1151.8 L1516.8,1152.8 L1517.3,1153.8 L1517.9,1154.9 L1518.4,1155.9 L1519.0,1156.6 L1519.6,1157.0 L1520.4,1157.0 L1521.2,1156.8 L1522.2,1156.5 L1523.2,1156.1 L1524.3,1155.7 L1525.3,1155.2 L1526.4,1154.9 L1527.3,1154.7 L1528.2,1154.6 L1528.9,1154.8 L1529.7,1155.4 L1530.3,1156.2 L1531.0,1157.1 L1531.7,1158.0 L1532.4,1158.9 L1533.1,1159.6 L1534.0,1160.2 L1534.8,1160.7 L1535.7,1161.2 L1536.6,1161.8 L1537.4,1162.3 L1538.1,1163.0 L1538.7,1163.7 L1539.3,1164.5 L1539.9,1165.4 L1540.4,1166.3 L1541.0,1167.2 L1541.6,1168.0 L1542.2,1168.8 L1542.9,1169.4 L1543.6,1170.0 L1544.5,1170.5 L1545.4,1171.0 L1546.3,1171.6 L1547.1,1172.1 L1547.9,1172.7 L1548.5,1173.5 L1549.1,1174.2 L1549.7,1175.0 L1550.3,1175.9 L1550.9,1176.7 L1551.4,1177.6 L1552.0,1178.4 L1552.6,1179.2 L1553.2,1180.0 L1553.9,1180.8 L1554.5,1181.6 L1555.1,1182.3 L1555.8,1183.1"/>
</g>
<g class="s">
<line x1="611" y1="94" x2="740.3" y2="94" stroke="#000"/>
<line x1="611" y1="168.6" x2="740.3" y2="168.6" stroke="#0000ff"/>
<line x1="611" y1="243.3" x2="740.3" y2="243.3" stroke="#ff0000"/>
</g>
<g class="leg">
<text transform="translate(757.2,114.6) scale(0.918,1)">Ir1</text>
<text transform="translate(757.2,188.5) scale(0.918,1)">Ir2</text>
<text transform="translate(757.2,263.7) scale(0.918,1)">Ir2a</text>
</g>
</svg>
</body></html>
